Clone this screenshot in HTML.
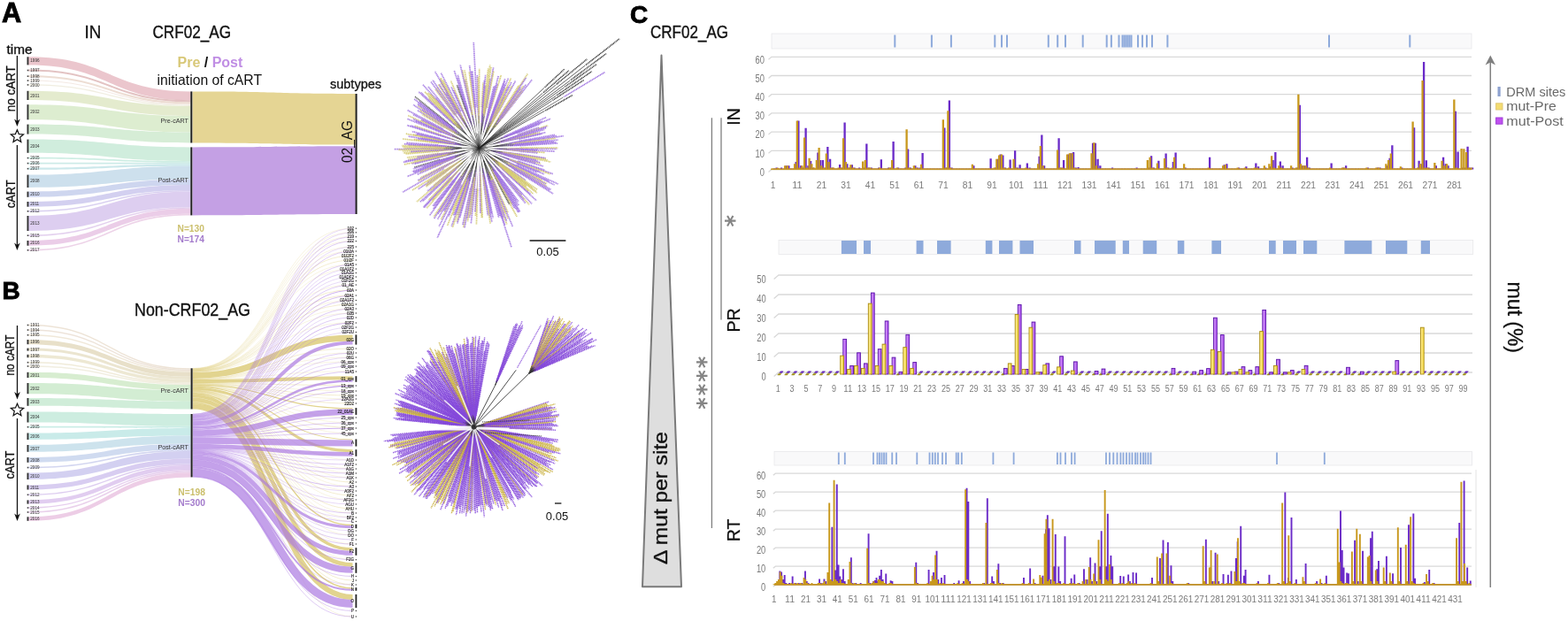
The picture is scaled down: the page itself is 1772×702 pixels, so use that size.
<!DOCTYPE html><html><head><meta charset="utf-8"><title>Figure</title><style>html,body{margin:0;padding:0;background:#fff;overflow:hidden}svg{display:block}</style></head><body><svg width="1772" height="702" viewBox="0 0 1772 702"><rect width="1772" height="702" fill="#fff"/><g font-family="'Liberation Sans', sans-serif"><text x="2" y="24.8" font-size="30.5" font-weight="bold" fill="#000" stroke="#000" stroke-width="0.9" textLength="22.2" lengthAdjust="spacingAndGlyphs">A</text><text x="95.6" y="43.3" font-size="20" fill="#111" stroke="#111" stroke-width="0.35" textLength="18.8" lengthAdjust="spacingAndGlyphs">IN</text><text x="172.5" y="43.3" font-size="20" fill="#111" stroke="#111" stroke-width="0.35" textLength="88.5" lengthAdjust="spacingAndGlyphs">CRF02_AG</text><text x="7.5" y="60.5" font-size="15" fill="#111" stroke="#111" stroke-width="0.3" textLength="29" lengthAdjust="spacingAndGlyphs">time</text><line x1="19.4" y1="63" x2="19.4" y2="139" stroke="#111" stroke-width="1.3"/><path d="M19.4 143L16.1 134.5L19.4 137L22.7 134.5Z" fill="#111"/><polygon points="19.4,146.8 21.38,151.57 26.53,151.98 22.61,155.34 23.81,160.37 19.4,157.68 14.99,160.37 16.19,155.34 12.27,151.98 17.42,151.57" fill="#fff" stroke="#111" stroke-width="1.2" stroke-linejoin="miter"/><line x1="19.4" y1="164" x2="19.4" y2="279" stroke="#111" stroke-width="1.3"/><path d="M19.4 283L16.1 274.5L19.4 277L22.7 274.5Z" fill="#111"/><text transform="translate(16.5 100.2) rotate(-90)" font-size="15.5" fill="#111" stroke="#111" stroke-width="0.3" text-anchor="middle" textLength="52" lengthAdjust="spacingAndGlyphs">no cART</text><text transform="translate(16.5 219.3) rotate(-90)" font-size="15.5" fill="#111" stroke="#111" stroke-width="0.3" text-anchor="middle" textLength="32" lengthAdjust="spacingAndGlyphs">cART</text><path d="M32 64.3C123.75 64.3 123.75 103.4 215.5 103.4L215.5 113.26C123.75 113.26 123.75 73.4 32 73.4Z" fill="#e6b8c0" fill-opacity="0.8"/><path d="M32 78.6C123.75 78.6 123.75 113.26 215.5 113.26L215.5 115.22C123.75 115.22 123.75 80.4 32 80.4Z" fill="#dcb4b4" fill-opacity="0.8"/><path d="M32 85.2C123.75 85.2 123.75 115.22 215.5 115.22L215.5 117.38C123.75 117.38 123.75 87.2 32 87.2Z" fill="#e8d4c8" fill-opacity="0.8"/><path d="M32 90.6C123.75 90.6 123.75 117.38 215.5 117.38L215.5 118.47C123.75 118.47 123.75 91.6 32 91.6Z" fill="#f0e4dc" fill-opacity="0.8"/><path d="M32 95.2C123.75 95.2 123.75 118.47 215.5 118.47L215.5 119.98C123.75 119.98 123.75 96.6 32 96.6Z" fill="#ece8d8" fill-opacity="0.8"/><path d="M32 102.8C123.75 102.8 123.75 119.98 215.5 119.98L215.5 131.04C123.75 131.04 123.75 113 32 113Z" fill="#dde6c2" fill-opacity="0.8"/><path d="M32 118.2C123.75 118.2 123.75 131.04 215.5 131.04L215.5 149.58C123.75 149.58 123.75 135.3 32 135.3Z" fill="#d4e8c4" fill-opacity="0.8"/><path d="M32 140.6C123.75 140.6 123.75 149.58 215.5 149.58L215.5 161.5C123.75 161.5 123.75 151.6 32 151.6Z" fill="#cce8cc" fill-opacity="0.8"/><path d="M32 157.6C123.75 157.6 123.75 166.4 215.5 166.4L215.5 182.13C123.75 182.13 123.75 172.8 32 172.8Z" fill="#c4e8d4" fill-opacity="0.8"/><path d="M32 177.8C123.75 177.8 123.75 182.13 215.5 182.13L215.5 183.79C123.75 183.79 123.75 179.4 32 179.4Z" fill="#c0e8dc" fill-opacity="0.8"/><path d="M32 183.8C123.75 183.8 123.75 183.79 215.5 183.79L215.5 185.44C123.75 185.44 123.75 185.4 32 185.4Z" fill="#c0e6e2" fill-opacity="0.8"/><path d="M32 189.6C123.75 189.6 123.75 185.44 215.5 185.44L215.5 187.72C123.75 187.72 123.75 191.8 32 191.8Z" fill="#bfe2e6" fill-opacity="0.8"/><path d="M32 197.6C123.75 197.6 123.75 187.72 215.5 187.72L215.5 202.62C123.75 202.62 123.75 212 32 212Z" fill="#c0d8e8" fill-opacity="0.8"/><path d="M32 216.6C123.75 216.6 123.75 202.62 215.5 202.62L215.5 209.04C123.75 209.04 123.75 222.8 32 222.8Z" fill="#c2cceb" fill-opacity="0.8"/><path d="M32 228C123.75 228 123.75 209.04 215.5 209.04L215.5 214.94C123.75 214.94 123.75 233.7 32 233.7Z" fill="#c8c4ec" fill-opacity="0.8"/><path d="M32 238C123.75 238 123.75 214.94 215.5 214.94L215.5 216.59C123.75 216.59 123.75 239.6 32 239.6Z" fill="#d0c4ec" fill-opacity="0.8"/><path d="M32 244C123.75 244 123.75 216.59 215.5 216.59L215.5 234.19C123.75 234.19 123.75 261 32 261Z" fill="#d4c2ec" fill-opacity="0.8"/><path d="M32 265.4C123.75 265.4 123.75 234.19 215.5 234.19L215.5 235.84C123.75 235.84 123.75 267 32 267Z" fill="#dcc4ea" fill-opacity="0.8"/><path d="M32 272C123.75 272 123.75 235.84 215.5 235.84L215.5 241.74C123.75 241.74 123.75 277.7 32 277.7Z" fill="#e6c0e2" fill-opacity="0.8"/><path d="M32 282C123.75 282 123.75 241.74 215.5 241.74L215.5 243.4C123.75 243.4 123.75 283.6 32 283.6Z" fill="#e8c8e2" fill-opacity="0.8"/><rect x="30.5" y="64.3" width="1.9" height="9.1" fill="#333"/><text x="34.3" y="70.45" font-size="4.6" fill="#333">1996</text><rect x="30.7" y="78.7" width="1.6" height="1.6" fill="#444"/><text x="34.3" y="81.1" font-size="4.6" fill="#333">1997</text><rect x="30.7" y="85.4" width="1.6" height="1.6" fill="#444"/><text x="34.3" y="87.8" font-size="4.6" fill="#333">1998</text><rect x="30.7" y="90.3" width="1.6" height="1.6" fill="#444"/><text x="34.3" y="92.7" font-size="4.6" fill="#333">1999</text><rect x="30.7" y="95.1" width="1.6" height="1.6" fill="#444"/><text x="34.3" y="97.5" font-size="4.6" fill="#333">2000</text><rect x="30.5" y="102.8" width="1.9" height="10.2" fill="#333"/><text x="34.3" y="109.5" font-size="4.6" fill="#333">2001</text><rect x="30.5" y="118.2" width="1.9" height="17.1" fill="#333"/><text x="34.3" y="128.35" font-size="4.6" fill="#333">2002</text><rect x="30.5" y="140.6" width="1.9" height="11" fill="#333"/><text x="34.3" y="147.7" font-size="4.6" fill="#333">2003</text><rect x="30.5" y="157.6" width="1.9" height="15.2" fill="#333"/><text x="34.3" y="166.8" font-size="4.6" fill="#333">2004</text><rect x="30.7" y="177.8" width="1.6" height="1.6" fill="#444"/><text x="34.3" y="180.2" font-size="4.6" fill="#333">2005</text><rect x="30.7" y="183.8" width="1.6" height="1.6" fill="#444"/><text x="34.3" y="186.2" font-size="4.6" fill="#333">2006</text><rect x="30.7" y="189.9" width="1.6" height="1.6" fill="#444"/><text x="34.3" y="192.3" font-size="4.6" fill="#333">2007</text><rect x="30.5" y="197.6" width="1.9" height="14.4" fill="#333"/><text x="34.3" y="206.4" font-size="4.6" fill="#333">2008</text><rect x="30.5" y="216.6" width="1.9" height="6.2" fill="#333"/><text x="34.3" y="221.3" font-size="4.6" fill="#333">2010</text><rect x="30.5" y="228" width="1.9" height="5.7" fill="#333"/><text x="34.3" y="232.45" font-size="4.6" fill="#333">2011</text><rect x="30.7" y="238" width="1.6" height="1.6" fill="#444"/><text x="34.3" y="240.4" font-size="4.6" fill="#333">2012</text><rect x="30.5" y="244" width="1.9" height="17" fill="#333"/><text x="34.3" y="254.1" font-size="4.6" fill="#333">2013</text><rect x="30.7" y="265.4" width="1.6" height="1.6" fill="#444"/><text x="34.3" y="267.8" font-size="4.6" fill="#333">2015</text><rect x="30.5" y="272" width="1.9" height="5.7" fill="#333"/><text x="34.3" y="276.45" font-size="4.6" fill="#333">2016</text><rect x="30.7" y="282" width="1.6" height="1.6" fill="#444"/><text x="34.3" y="284.4" font-size="4.6" fill="#333">2017</text><path d="M217.5 103.4C310 103.4 310 106 402 106V163.5C310 163.5 310 161.5 217.5 161.5Z" fill="#e5d594"/><path d="M217.5 166.4C310 166.4 310 165.2 402 165.2V242C310 242 310 243.4 217.5 243.4Z" fill="#c4a0e4"/><rect x="215.3" y="103.4" width="2" height="58.1" fill="#222"/><rect x="215.3" y="166.4" width="2" height="77" fill="#222"/><rect x="401.6" y="106" width="2" height="136" fill="#222"/><text x="213" y="138.5" font-size="7.2" fill="#333" text-anchor="end">Pre-cART</text><text x="213" y="205.5" font-size="7.2" fill="#333" text-anchor="end">Post-cART</text><text x="200.5" y="76.3" font-size="16" font-weight="bold"><tspan fill="#d8c878">Pre</tspan><tspan fill="#111"> / </tspan><tspan fill="#c08ee4">Post</tspan></text><text x="177.5" y="96" font-size="16.5" fill="#111" textLength="118.5" lengthAdjust="spacingAndGlyphs">initiation of cART</text><text x="373" y="99.8" font-size="14.5" fill="#111" stroke="#111" stroke-width="0.3" textLength="58" lengthAdjust="spacingAndGlyphs">subtypes</text><text transform="translate(397.8 160) rotate(-90)" font-size="16" fill="#111" text-anchor="middle" textLength="48" lengthAdjust="spacingAndGlyphs">02_AG</text><text x="200.5" y="261.5" font-size="10" font-weight="bold" fill="#cbbf6c" textLength="30.4" lengthAdjust="spacingAndGlyphs">N=130</text><text x="200.5" y="273.5" font-size="10" font-weight="bold" fill="#a47ccc" textLength="30.4" lengthAdjust="spacingAndGlyphs">N=174</text></g><g font-family="'Liberation Sans', sans-serif"><text x="2.5" y="337.6" font-size="28" font-weight="bold" fill="#000" stroke="#000" stroke-width="0.9">B</text><text x="152" y="356.7" font-size="20" fill="#111" stroke="#111" stroke-width="0.35" textLength="131" lengthAdjust="spacingAndGlyphs">Non-CRF02_AG</text><line x1="19.5" y1="368" x2="19.5" y2="447.5" stroke="#111" stroke-width="1.3"/><path d="M19.5 451.5L16.2 443L19.5 445.5L22.8 443Z" fill="#111"/><polygon points="19.5,456.2 21.48,460.97 26.63,461.38 22.71,464.74 23.91,469.77 19.5,467.07 15.09,469.77 16.29,464.74 12.37,461.38 17.52,460.97" fill="#fff" stroke="#111" stroke-width="1.2" stroke-linejoin="miter"/><line x1="19.5" y1="473" x2="19.5" y2="585" stroke="#111" stroke-width="1.3"/><path d="M19.5 589L16.2 580.5L19.5 583L22.8 580.5Z" fill="#111"/><text transform="translate(15.5 401.5) rotate(-90)" font-size="15.5" fill="#111" stroke="#111" stroke-width="0.3" text-anchor="middle" textLength="46" lengthAdjust="spacingAndGlyphs">no cART</text><text transform="translate(15.5 525.5) rotate(-90)" font-size="15.5" fill="#111" stroke="#111" stroke-width="0.3" text-anchor="middle" textLength="32" lengthAdjust="spacingAndGlyphs">cART</text><path d="M32 366.8C123.9 366.8 123.9 416.3 215.8 416.3L215.8 417.71C123.9 417.71 123.9 368.2 32 368.2Z" fill="#e8dccc" fill-opacity="0.8"/><path d="M32 372.3C123.9 372.3 123.9 417.71 215.8 417.71L215.8 419.12C123.9 419.12 123.9 373.7 32 373.7Z" fill="#e8dcd0" fill-opacity="0.8"/><path d="M32 378C123.9 378 123.9 419.12 215.8 419.12L215.8 420.63C123.9 420.63 123.9 379.5 32 379.5Z" fill="#ece2d0" fill-opacity="0.8"/><path d="M32 384C123.9 384 123.9 420.63 215.8 420.63L215.8 425.86C123.9 425.86 123.9 389.2 32 389.2Z" fill="#e2d8bc" fill-opacity="0.8"/><path d="M32 393.6C123.9 393.6 123.9 425.86 215.8 425.86L215.8 428.88C123.9 428.88 123.9 396.6 32 396.6Z" fill="#e6dec4" fill-opacity="0.8"/><path d="M32 400.8C123.9 400.8 123.9 428.88 215.8 428.88L215.8 432.3C123.9 432.3 123.9 404.2 32 404.2Z" fill="#e8e2c8" fill-opacity="0.8"/><path d="M32 409C123.9 409 123.9 432.3 215.8 432.3L215.8 433.71C123.9 433.71 123.9 410.4 32 410.4Z" fill="#ece6d0" fill-opacity="0.8"/><path d="M32 413.3C123.9 413.3 123.9 433.71 215.8 433.71L215.8 435.12C123.9 435.12 123.9 414.7 32 414.7Z" fill="#eeead8" fill-opacity="0.8"/><path d="M32 420.8C123.9 420.8 123.9 435.12 215.8 435.12L215.8 441.36C123.9 441.36 123.9 427 32 427Z" fill="#cde8c4" fill-opacity="0.8"/><path d="M32 433C123.9 433 123.9 441.36 215.8 441.36L215.8 453.64C123.9 453.64 123.9 445.2 32 445.2Z" fill="#c8e8c8" fill-opacity="0.8"/><path d="M32 450C123.9 450 123.9 453.64 215.8 453.64L215.8 462.5C123.9 462.5 123.9 458.8 32 458.8Z" fill="#c4e8d0" fill-opacity="0.8"/><path d="M32 465.5C123.9 465.5 123.9 468 215.8 468L215.8 481.86C123.9 481.86 123.9 477.5 32 477.5Z" fill="#c0e8d8" fill-opacity="0.8"/><path d="M32 481.8C123.9 481.8 123.9 481.86 215.8 481.86L215.8 483.94C123.9 483.94 123.9 483.6 32 483.6Z" fill="#bde8e0" fill-opacity="0.8"/><path d="M32 489.5C123.9 489.5 123.9 483.94 215.8 483.94L215.8 492.61C123.9 492.61 123.9 497 32 497Z" fill="#bce6e4" fill-opacity="0.8"/><path d="M32 503C123.9 503 123.9 492.61 215.8 492.61L215.8 501.62C123.9 501.62 123.9 510.8 32 510.8Z" fill="#c0dce8" fill-opacity="0.8"/><path d="M32 517C123.9 517 123.9 501.62 215.8 501.62L215.8 508.32C123.9 508.32 123.9 522.8 32 522.8Z" fill="#c4d2ec" fill-opacity="0.8"/><path d="M32 527.8C123.9 527.8 123.9 508.32 215.8 508.32L215.8 510.05C123.9 510.05 123.9 529.3 32 529.3Z" fill="#c8ccec" fill-opacity="0.8"/><path d="M32 534.6C123.9 534.6 123.9 510.05 215.8 510.05L215.8 518.6C123.9 518.6 123.9 542 32 542Z" fill="#c8c4ee" fill-opacity="0.8"/><path d="M32 548.4C123.9 548.4 123.9 518.6 215.8 518.6L215.8 524.5C123.9 524.5 123.9 553.5 32 553.5Z" fill="#cec0ee" fill-opacity="0.8"/><path d="M32 558.6C123.9 558.6 123.9 524.5 215.8 524.5L215.8 526.11C123.9 526.11 123.9 560 32 560Z" fill="#d4c0ec" fill-opacity="0.8"/><path d="M32 565.4C123.9 565.4 123.9 526.11 215.8 526.11L215.8 530.97C123.9 530.97 123.9 569.6 32 569.6Z" fill="#dac0ec" fill-opacity="0.8"/><path d="M32 573.3C123.9 573.3 123.9 530.97 215.8 530.97L215.8 532.58C123.9 532.58 123.9 574.7 32 574.7Z" fill="#e0c2ea" fill-opacity="0.8"/><path d="M32 578.3C123.9 578.3 123.9 532.58 215.8 532.58L215.8 534.2C123.9 534.2 123.9 579.7 32 579.7Z" fill="#e4c4e6" fill-opacity="0.8"/><path d="M32 584.3C123.9 584.3 123.9 534.2 215.8 534.2L215.8 539.4C123.9 539.4 123.9 588.8 32 588.8Z" fill="#e8c0e0" fill-opacity="0.8"/><rect x="30.7" y="366.7" width="1.6" height="1.6" fill="#444"/><text x="34.3" y="369.1" font-size="4.6" fill="#333">1991</text><rect x="30.7" y="372.2" width="1.6" height="1.6" fill="#444"/><text x="34.3" y="374.6" font-size="4.6" fill="#333">1994</text><rect x="30.7" y="377.95" width="1.6" height="1.6" fill="#444"/><text x="34.3" y="380.35" font-size="4.6" fill="#333">1995</text><rect x="30.5" y="384" width="1.9" height="5.2" fill="#333"/><text x="34.3" y="388.2" font-size="4.6" fill="#333">1996</text><rect x="30.5" y="393.6" width="1.9" height="3" fill="#333"/><text x="34.3" y="396.7" font-size="4.6" fill="#333">1997</text><rect x="30.5" y="400.8" width="1.9" height="3.4" fill="#333"/><text x="34.3" y="404.1" font-size="4.6" fill="#333">1998</text><rect x="30.7" y="408.9" width="1.6" height="1.6" fill="#444"/><text x="34.3" y="411.3" font-size="4.6" fill="#333">1999</text><rect x="30.7" y="413.2" width="1.6" height="1.6" fill="#444"/><text x="34.3" y="415.6" font-size="4.6" fill="#333">2000</text><rect x="30.5" y="420.8" width="1.9" height="6.2" fill="#333"/><text x="34.3" y="425.5" font-size="4.6" fill="#333">2001</text><rect x="30.5" y="433" width="1.9" height="12.2" fill="#333"/><text x="34.3" y="440.7" font-size="4.6" fill="#333">2002</text><rect x="30.5" y="450" width="1.9" height="8.8" fill="#333"/><text x="34.3" y="456" font-size="4.6" fill="#333">2003</text><rect x="30.5" y="465.5" width="1.9" height="12" fill="#333"/><text x="34.3" y="473.1" font-size="4.6" fill="#333">2004</text><rect x="30.7" y="481.9" width="1.6" height="1.6" fill="#444"/><text x="34.3" y="484.3" font-size="4.6" fill="#333">2005</text><rect x="30.5" y="489.5" width="1.9" height="7.5" fill="#333"/><text x="34.3" y="494.85" font-size="4.6" fill="#333">2006</text><rect x="30.5" y="503" width="1.9" height="7.8" fill="#333"/><text x="34.3" y="508.5" font-size="4.6" fill="#333">2007</text><rect x="30.5" y="517" width="1.9" height="5.8" fill="#333"/><text x="34.3" y="521.5" font-size="4.6" fill="#333">2008</text><rect x="30.7" y="527.75" width="1.6" height="1.6" fill="#444"/><text x="34.3" y="530.15" font-size="4.6" fill="#333">2009</text><rect x="30.5" y="534.6" width="1.9" height="7.4" fill="#333"/><text x="34.3" y="539.9" font-size="4.6" fill="#333">2010</text><rect x="30.5" y="548.4" width="1.9" height="5.1" fill="#333"/><text x="34.3" y="552.55" font-size="4.6" fill="#333">2011</text><rect x="30.7" y="558.5" width="1.6" height="1.6" fill="#444"/><text x="34.3" y="560.9" font-size="4.6" fill="#333">2012</text><rect x="30.5" y="565.4" width="1.9" height="4.2" fill="#333"/><text x="34.3" y="569.1" font-size="4.6" fill="#333">2013</text><rect x="30.7" y="573.2" width="1.6" height="1.6" fill="#444"/><text x="34.3" y="575.6" font-size="4.6" fill="#333">2014</text><rect x="30.7" y="578.2" width="1.6" height="1.6" fill="#444"/><text x="34.3" y="580.6" font-size="4.6" fill="#333">2015</text><rect x="30.5" y="584.3" width="1.9" height="4.5" fill="#333"/><text x="34.3" y="588.15" font-size="4.6" fill="#333">2016</text><path d="M217.8 416.42C308.15 416.42 308.15 258.11 398.5 258.11" fill="none" stroke="#d6c260" stroke-opacity="0.3" stroke-width="0.6"/><path d="M217.8 416.67C308.15 416.67 308.15 262.71 398.5 262.71" fill="none" stroke="#d6c260" stroke-opacity="0.3" stroke-width="0.6"/><path d="M217.8 416.88C308.15 416.88 308.15 267.4 398.5 267.4" fill="none" stroke="#d6c260" stroke-opacity="0.3" stroke-width="0.6"/><path d="M217.8 417.06C308.15 417.06 308.15 272.3 398.5 272.3" fill="none" stroke="#d6c260" stroke-opacity="0.3" stroke-width="0.6"/><path d="M217.8 417.27C308.15 417.27 308.15 278.91 398.5 278.91" fill="none" stroke="#d6c260" stroke-opacity="0.3" stroke-width="0.6"/><path d="M217.8 417.49C308.15 417.49 308.15 283.85 398.5 283.85" fill="none" stroke="#d6c260" stroke-opacity="0.3" stroke-width="0.6"/><path d="M217.8 417.76C308.15 417.76 308.15 289 398.5 289" fill="none" stroke="#d6c260" stroke-opacity="0.5" stroke-width="0.6"/><path d="M217.8 418.13C308.15 418.13 308.15 294 398.5 294" fill="none" stroke="#d6c260" stroke-opacity="0.5" stroke-width="0.6"/><path d="M217.8 418.4C308.15 418.4 308.15 298.7 398.5 298.7" fill="none" stroke="#d6c260" stroke-opacity="0.3" stroke-width="0.6"/><path d="M217.8 418.58C308.15 418.58 308.15 303.91 398.5 303.91" fill="none" stroke="#d6c260" stroke-opacity="0.3" stroke-width="0.6"/><path d="M217.8 418.77C308.15 418.77 308.15 321.85 398.5 321.85" fill="none" stroke="#d6c260" stroke-opacity="0.3" stroke-width="0.6"/><path d="M217.8 419.01C308.15 419.01 308.15 327.54 398.5 327.54" fill="none" stroke="#d6c260" stroke-opacity="0.5" stroke-width="0.6"/><path d="M217.8 419.41C308.15 419.41 308.15 333.63 398.5 333.63" fill="none" stroke="#d6c260" stroke-opacity="0.5" stroke-width="0.6"/><path d="M217.8 419.74C308.15 419.74 308.15 339.32 398.5 339.32" fill="none" stroke="#d6c260" stroke-opacity="0.3" stroke-width="0.6"/><path d="M217.8 420.02C308.15 420.02 308.15 344 398.5 344" fill="none" stroke="#d6c260" stroke-opacity="0.5" stroke-width="0.6"/><path d="M217.8 420.29C308.15 420.29 308.15 348.85 398.5 348.85" fill="none" stroke="#d6c260" stroke-opacity="0.3" stroke-width="0.6"/><path d="M217.8 420.47C308.15 420.47 308.15 353.91 398.5 353.91" fill="none" stroke="#d6c260" stroke-opacity="0.3" stroke-width="0.6"/><path d="M217.8 420.69C308.15 420.69 308.15 364.6 398.5 364.6" fill="none" stroke="#d6c260" stroke-opacity="0.3" stroke-width="0.6"/><path d="M217.8 424.36C308.15 424.36 308.15 381.97 398.5 381.97" fill="none" stroke="#d6c260" stroke-opacity="0.7" stroke-width="7.11"/><path d="M217.8 428.1C308.15 428.1 308.15 394 398.5 394" fill="none" stroke="#d6c260" stroke-opacity="0.5" stroke-width="0.6"/><path d="M217.8 428.37C308.15 428.37 308.15 398.85 398.5 398.85" fill="none" stroke="#d6c260" stroke-opacity="0.3" stroke-width="0.6"/><path d="M217.8 428.56C308.15 428.56 308.15 403.91 398.5 403.91" fill="none" stroke="#d6c260" stroke-opacity="0.3" stroke-width="0.6"/><path d="M217.8 428.77C308.15 428.77 308.15 408.88 398.5 408.88" fill="none" stroke="#d6c260" stroke-opacity="0.3" stroke-width="0.6"/><path d="M217.8 428.98C308.15 428.98 308.15 419.7 398.5 419.7" fill="none" stroke="#d6c260" stroke-opacity="0.3" stroke-width="0.6"/><path d="M217.8 431.1C308.15 431.1 308.15 427.23 398.5 427.23" fill="none" stroke="#d6c260" stroke-opacity="0.7" stroke-width="4.06"/><path d="M217.8 433.29C308.15 433.29 308.15 435.45 398.5 435.45" fill="none" stroke="#d6c260" stroke-opacity="0.5" stroke-width="0.6"/><path d="M217.8 433.53C308.15 433.53 308.15 441.85 398.5 441.85" fill="none" stroke="#d6c260" stroke-opacity="0.3" stroke-width="0.6"/><path d="M217.8 433.81C308.15 433.81 308.15 447 398.5 447" fill="none" stroke="#d6c260" stroke-opacity="0.5" stroke-width="0.6"/><path d="M217.8 434.08C308.15 434.08 308.15 450.91 398.5 450.91" fill="none" stroke="#d6c260" stroke-opacity="0.3" stroke-width="0.6"/><path d="M217.8 434.35C308.15 434.35 308.15 456 398.5 456" fill="none" stroke="#d6c260" stroke-opacity="0.5" stroke-width="0.6"/><path d="M217.8 435.15C308.15 435.15 308.15 461.7 398.5 461.7" fill="none" stroke="#d6c260" stroke-opacity="0.7" stroke-width="1.22"/><path d="M217.8 435.85C308.15 435.85 308.15 471.82 398.5 471.82" fill="none" stroke="#d6c260" stroke-opacity="0.3" stroke-width="0.6"/><path d="M217.8 436.03C308.15 436.03 308.15 477.82 398.5 477.82" fill="none" stroke="#d6c260" stroke-opacity="0.3" stroke-width="0.6"/><path d="M217.8 436.27C308.15 436.27 308.15 483.54 398.5 483.54" fill="none" stroke="#d6c260" stroke-opacity="0.5" stroke-width="0.6"/><path d="M217.8 436.52C308.15 436.52 308.15 489.85 398.5 489.85" fill="none" stroke="#d6c260" stroke-opacity="0.3" stroke-width="0.6"/><path d="M217.8 437.12C308.15 437.12 308.15 496.95 398.5 496.95" fill="none" stroke="#d6c260" stroke-opacity="0.7" stroke-width="1.02"/><path d="M217.8 439.15C308.15 439.15 308.15 509.72 398.5 509.72" fill="none" stroke="#d6c260" stroke-opacity="0.7" stroke-width="3.05"/><path d="M217.8 440.76C308.15 440.76 308.15 519.88 398.5 519.88" fill="none" stroke="#d6c260" stroke-opacity="0.3" stroke-width="0.6"/><path d="M217.8 440.94C308.15 440.94 308.15 529.85 398.5 529.85" fill="none" stroke="#d6c260" stroke-opacity="0.3" stroke-width="0.6"/><path d="M217.8 441.13C308.15 441.13 308.15 534.82 398.5 534.82" fill="none" stroke="#d6c260" stroke-opacity="0.3" stroke-width="0.6"/><path d="M217.8 441.31C308.15 441.31 308.15 539.88 398.5 539.88" fill="none" stroke="#d6c260" stroke-opacity="0.3" stroke-width="0.6"/><path d="M217.8 441.58C308.15 441.58 308.15 545 398.5 545" fill="none" stroke="#d6c260" stroke-opacity="0.5" stroke-width="0.6"/><path d="M217.8 441.86C308.15 441.86 308.15 549.63 398.5 549.63" fill="none" stroke="#d6c260" stroke-opacity="0.3" stroke-width="0.6"/><path d="M217.8 442.04C308.15 442.04 308.15 554.88 398.5 554.88" fill="none" stroke="#d6c260" stroke-opacity="0.3" stroke-width="0.6"/><path d="M217.8 442.31C308.15 442.31 308.15 560 398.5 560" fill="none" stroke="#d6c260" stroke-opacity="0.5" stroke-width="0.6"/><path d="M217.8 442.59C308.15 442.59 308.15 564.91 398.5 564.91" fill="none" stroke="#d6c260" stroke-opacity="0.3" stroke-width="0.6"/><path d="M217.8 442.86C308.15 442.86 308.15 575 398.5 575" fill="none" stroke="#d6c260" stroke-opacity="0.5" stroke-width="0.6"/><path d="M217.8 443.17C308.15 443.17 308.15 579.82 398.5 579.82" fill="none" stroke="#d6c260" stroke-opacity="0.3" stroke-width="0.6"/><path d="M217.8 443.38C308.15 443.38 308.15 584.88 398.5 584.88" fill="none" stroke="#d6c260" stroke-opacity="0.3" stroke-width="0.6"/><path d="M217.8 443.56C308.15 443.56 308.15 589.35 398.5 589.35" fill="none" stroke="#d6c260" stroke-opacity="0.3" stroke-width="0.6"/><path d="M217.8 444.42C308.15 444.42 308.15 593.48 398.5 593.48" fill="none" stroke="#d6c260" stroke-opacity="0.7" stroke-width="1.52"/><path d="M217.8 445.27C308.15 445.27 308.15 604.91 398.5 604.91" fill="none" stroke="#d6c260" stroke-opacity="0.3" stroke-width="0.6"/><path d="M217.8 445.48C308.15 445.48 308.15 614.85 398.5 614.85" fill="none" stroke="#d6c260" stroke-opacity="0.3" stroke-width="0.6"/><path d="M217.8 447.38C308.15 447.38 308.15 620.96 398.5 620.96" fill="none" stroke="#d6c260" stroke-opacity="0.7" stroke-width="3.55"/><path d="M217.8 449.28C308.15 449.28 308.15 632.55 398.5 632.55" fill="none" stroke="#d6c260" stroke-opacity="0.3" stroke-width="0.6"/><path d="M217.8 451.69C308.15 451.69 308.15 638.45 398.5 638.45" fill="none" stroke="#d6c260" stroke-opacity="0.7" stroke-width="4.57"/><path d="M217.8 454.15C308.15 454.15 308.15 656 398.5 656" fill="none" stroke="#d6c260" stroke-opacity="0.5" stroke-width="0.6"/><path d="M217.8 454.52C308.15 454.52 308.15 660.88 398.5 660.88" fill="none" stroke="#d6c260" stroke-opacity="0.5" stroke-width="0.6"/><path d="M217.8 455.46C308.15 455.46 308.15 664.99 398.5 664.99" fill="none" stroke="#d6c260" stroke-opacity="0.7" stroke-width="1.52"/><path d="M217.8 459.27C308.15 459.27 308.15 674.93 398.5 674.93" fill="none" stroke="#d6c260" stroke-opacity="0.7" stroke-width="6.09"/><path d="M217.8 462.41C308.15 462.41 308.15 696.82 398.5 696.82" fill="none" stroke="#d6c260" stroke-opacity="0.3" stroke-width="0.6"/><path d="M217.8 468.09C308.15 468.09 308.15 258.32 398.5 258.32" fill="none" stroke="#a874e0" stroke-opacity="0.45" stroke-width="0.6"/><path d="M217.8 468.27C308.15 468.27 308.15 262.92 398.5 262.92" fill="none" stroke="#a874e0" stroke-opacity="0.45" stroke-width="0.6"/><path d="M217.8 468.67C308.15 468.67 308.15 267.79 398.5 267.79" fill="none" stroke="#a874e0" stroke-opacity="0.62" stroke-width="0.61"/><path d="M217.8 469.28C308.15 469.28 308.15 272.69 398.5 272.69" fill="none" stroke="#a874e0" stroke-opacity="0.62" stroke-width="0.61"/><path d="M217.8 469.67C308.15 469.67 308.15 279.12 398.5 279.12" fill="none" stroke="#a874e0" stroke-opacity="0.45" stroke-width="0.6"/><path d="M217.8 469.92C308.15 469.92 308.15 284.09 398.5 284.09" fill="none" stroke="#a874e0" stroke-opacity="0.62" stroke-width="0.6"/><path d="M217.8 470.37C308.15 470.37 308.15 299.09 398.5 299.09" fill="none" stroke="#a874e0" stroke-opacity="0.62" stroke-width="0.61"/><path d="M217.8 470.77C308.15 470.77 308.15 304.09 398.5 304.09" fill="none" stroke="#a874e0" stroke-opacity="0.45" stroke-width="0.6"/><path d="M217.8 471.04C308.15 471.04 308.15 308.5 398.5 308.5" fill="none" stroke="#a874e0" stroke-opacity="0.62" stroke-width="0.6"/><path d="M217.8 471.36C308.15 471.36 308.15 313 398.5 313" fill="none" stroke="#a874e0" stroke-opacity="0.45" stroke-width="0.6"/><path d="M217.8 471.64C308.15 471.64 308.15 317.5 398.5 317.5" fill="none" stroke="#a874e0" stroke-opacity="0.45" stroke-width="0.6"/><path d="M217.8 471.93C308.15 471.93 308.15 322.09 398.5 322.09" fill="none" stroke="#a874e0" stroke-opacity="0.62" stroke-width="0.6"/><path d="M217.8 472.54C308.15 472.54 308.15 328.15 398.5 328.15" fill="none" stroke="#a874e0" stroke-opacity="0.62" stroke-width="0.91"/><path d="M217.8 473.36C308.15 473.36 308.15 334.24 398.5 334.24" fill="none" stroke="#a874e0" stroke-opacity="0.62" stroke-width="0.73"/><path d="M217.8 473.91C308.15 473.91 308.15 339.59 398.5 339.59" fill="none" stroke="#a874e0" stroke-opacity="0.62" stroke-width="0.6"/><path d="M217.8 474.24C308.15 474.24 308.15 349.09 398.5 349.09" fill="none" stroke="#a874e0" stroke-opacity="0.62" stroke-width="0.6"/><path d="M217.8 474.48C308.15 474.48 308.15 354.09 398.5 354.09" fill="none" stroke="#a874e0" stroke-opacity="0.45" stroke-width="0.6"/><path d="M217.8 474.76C308.15 474.76 308.15 359 398.5 359" fill="none" stroke="#a874e0" stroke-opacity="0.62" stroke-width="0.6"/><path d="M217.8 475.34C308.15 475.34 308.15 365.12 398.5 365.12" fill="none" stroke="#a874e0" stroke-opacity="0.62" stroke-width="0.79"/><path d="M217.8 475.87C308.15 475.87 308.15 370 398.5 370" fill="none" stroke="#a874e0" stroke-opacity="0.45" stroke-width="0.6"/><path d="M217.8 476.14C308.15 476.14 308.15 375.5 398.5 375.5" fill="none" stroke="#a874e0" stroke-opacity="0.45" stroke-width="0.6"/><path d="M217.8 478.31C308.15 478.31 308.15 387.55 398.5 387.55" fill="none" stroke="#a874e0" stroke-opacity="0.68" stroke-width="4.06"/><path d="M217.8 480.49C308.15 480.49 308.15 399.09 398.5 399.09" fill="none" stroke="#a874e0" stroke-opacity="0.62" stroke-width="0.6"/><path d="M217.8 480.74C308.15 480.74 308.15 404.09 398.5 404.09" fill="none" stroke="#a874e0" stroke-opacity="0.45" stroke-width="0.6"/><path d="M217.8 480.95C308.15 480.95 308.15 409.12 398.5 409.12" fill="none" stroke="#a874e0" stroke-opacity="0.45" stroke-width="0.6"/><path d="M217.8 481.25C308.15 481.25 308.15 414 398.5 414" fill="none" stroke="#a874e0" stroke-opacity="0.62" stroke-width="0.6"/><path d="M217.8 481.74C308.15 481.74 308.15 420.09 398.5 420.09" fill="none" stroke="#a874e0" stroke-opacity="0.62" stroke-width="0.61"/><path d="M217.8 483.31C308.15 483.31 308.15 430.53 398.5 430.53" fill="none" stroke="#a874e0" stroke-opacity="0.68" stroke-width="2.54"/><path d="M217.8 485.13C308.15 485.13 308.15 436.15 398.5 436.15" fill="none" stroke="#a874e0" stroke-opacity="0.68" stroke-width="1.1"/><path d="M217.8 485.83C308.15 485.83 308.15 442.09 398.5 442.09" fill="none" stroke="#a874e0" stroke-opacity="0.62" stroke-width="0.6"/><path d="M217.8 486.07C308.15 486.07 308.15 451.09 398.5 451.09" fill="none" stroke="#a874e0" stroke-opacity="0.45" stroke-width="0.6"/><path d="M217.8 489.46C308.15 489.46 308.15 465.61 398.5 465.61" fill="none" stroke="#a874e0" stroke-opacity="0.68" stroke-width="6.6"/><path d="M217.8 492.94C308.15 492.94 308.15 472.09 398.5 472.09" fill="none" stroke="#a874e0" stroke-opacity="0.62" stroke-width="0.6"/><path d="M217.8 493.31C308.15 493.31 308.15 478.09 398.5 478.09" fill="none" stroke="#a874e0" stroke-opacity="0.62" stroke-width="0.6"/><path d="M217.8 493.95C308.15 493.95 308.15 484.15 398.5 484.15" fill="none" stroke="#a874e0" stroke-opacity="0.62" stroke-width="0.91"/><path d="M217.8 494.56C308.15 494.56 308.15 490.09 398.5 490.09" fill="none" stroke="#a874e0" stroke-opacity="0.62" stroke-width="0.6"/><path d="M217.8 498.26C308.15 498.26 308.15 501.01 398.5 501.01" fill="none" stroke="#a874e0" stroke-opacity="0.68" stroke-width="7.1"/><path d="M217.8 504.1C308.15 504.1 308.15 513.52 398.5 513.52" fill="none" stroke="#a874e0" stroke-opacity="0.68" stroke-width="4.57"/><path d="M217.8 506.5C308.15 506.5 308.15 520.09 398.5 520.09" fill="none" stroke="#a874e0" stroke-opacity="0.45" stroke-width="0.6"/><path d="M217.8 506.81C308.15 506.81 308.15 525 398.5 525" fill="none" stroke="#a874e0" stroke-opacity="0.62" stroke-width="0.6"/><path d="M217.8 507.14C308.15 507.14 308.15 530.09 398.5 530.09" fill="none" stroke="#a874e0" stroke-opacity="0.62" stroke-width="0.6"/><path d="M217.8 507.47C308.15 507.47 308.15 535.09 398.5 535.09" fill="none" stroke="#a874e0" stroke-opacity="0.62" stroke-width="0.6"/><path d="M217.8 507.78C308.15 507.78 308.15 540.09 398.5 540.09" fill="none" stroke="#a874e0" stroke-opacity="0.45" stroke-width="0.6"/><path d="M217.8 508.27C308.15 508.27 308.15 550.09 398.5 550.09" fill="none" stroke="#a874e0" stroke-opacity="0.62" stroke-width="0.73"/><path d="M217.8 508.75C308.15 508.75 308.15 555.09 398.5 555.09" fill="none" stroke="#a874e0" stroke-opacity="0.45" stroke-width="0.6"/><path d="M217.8 508.97C308.15 508.97 308.15 565.09 398.5 565.09" fill="none" stroke="#a874e0" stroke-opacity="0.45" stroke-width="0.6"/><path d="M217.8 509.2C308.15 509.2 308.15 570 398.5 570" fill="none" stroke="#a874e0" stroke-opacity="0.45" stroke-width="0.6"/><path d="M217.8 509.51C308.15 509.51 308.15 580.12 398.5 580.12" fill="none" stroke="#a874e0" stroke-opacity="0.62" stroke-width="0.6"/><path d="M217.8 509.82C308.15 509.82 308.15 585.09 398.5 585.09" fill="none" stroke="#a874e0" stroke-opacity="0.45" stroke-width="0.6"/><path d="M217.8 510.09C308.15 510.09 308.15 589.59 398.5 589.59" fill="none" stroke="#a874e0" stroke-opacity="0.62" stroke-width="0.6"/><path d="M217.8 511.77C308.15 511.77 308.15 595.76 398.5 595.76" fill="none" stroke="#a874e0" stroke-opacity="0.68" stroke-width="3.04"/><path d="M217.8 513.43C308.15 513.43 308.15 600 398.5 600" fill="none" stroke="#a874e0" stroke-opacity="0.45" stroke-width="0.6"/><path d="M217.8 513.66C308.15 513.66 308.15 605.09 398.5 605.09" fill="none" stroke="#a874e0" stroke-opacity="0.45" stroke-width="0.6"/><path d="M217.8 513.93C308.15 513.93 308.15 610 398.5 610" fill="none" stroke="#a874e0" stroke-opacity="0.62" stroke-width="0.6"/><path d="M217.8 514.26C308.15 514.26 308.15 615.12 398.5 615.12" fill="none" stroke="#a874e0" stroke-opacity="0.62" stroke-width="0.6"/><path d="M217.8 516.95C308.15 516.95 308.15 625.28 398.5 625.28" fill="none" stroke="#a874e0" stroke-opacity="0.68" stroke-width="5.07"/><path d="M217.8 519.64C308.15 519.64 308.15 632.82 398.5 632.82" fill="none" stroke="#a874e0" stroke-opacity="0.62" stroke-width="0.6"/><path d="M217.8 523.35C308.15 523.35 308.15 644.28 398.5 644.28" fill="none" stroke="#a874e0" stroke-opacity="0.68" stroke-width="7.1"/><path d="M217.8 527.08C308.15 527.08 308.15 651.5 398.5 651.5" fill="none" stroke="#a874e0" stroke-opacity="0.62" stroke-width="0.6"/><path d="M217.8 527.38C308.15 527.38 308.15 661.18 398.5 661.18" fill="none" stroke="#a874e0" stroke-opacity="0.45" stroke-width="0.6"/><path d="M217.8 528.52C308.15 528.52 308.15 666.76 398.5 666.76" fill="none" stroke="#a874e0" stroke-opacity="0.68" stroke-width="2.03"/><path d="M217.8 534.1C308.15 534.1 308.15 682.55 398.5 682.55" fill="none" stroke="#a874e0" stroke-opacity="0.68" stroke-width="9.13"/><path d="M217.8 538.85C308.15 538.85 308.15 690.5 398.5 690.5" fill="none" stroke="#a874e0" stroke-opacity="0.62" stroke-width="0.6"/><path d="M217.8 539.22C308.15 539.22 308.15 697.09 398.5 697.09" fill="none" stroke="#a874e0" stroke-opacity="0.62" stroke-width="0.6"/><rect x="401.7" y="257.6" width="1.4" height="1.2" fill="#444"/><text x="400" y="259.8" font-size="4.5" fill="#1a1a1a" stroke="#1a1a1a" stroke-width="0.12" text-anchor="end">102</text><rect x="401.7" y="262.2" width="1.4" height="1.2" fill="#444"/><text x="400" y="264.4" font-size="4.5" fill="#1a1a1a" stroke="#1a1a1a" stroke-width="0.12" text-anchor="end">206</text><rect x="401.7" y="267.1" width="1.4" height="1.2" fill="#444"/><text x="400" y="269.3" font-size="4.5" fill="#1a1a1a" stroke="#1a1a1a" stroke-width="0.12" text-anchor="end">219</text><rect x="401.7" y="272" width="1.4" height="1.2" fill="#444"/><text x="400" y="274.2" font-size="4.5" fill="#1a1a1a" stroke="#1a1a1a" stroke-width="0.12" text-anchor="end">222</text><rect x="401.7" y="278.4" width="1.4" height="1.2" fill="#444"/><text x="400" y="280.6" font-size="4.5" fill="#1a1a1a" stroke="#1a1a1a" stroke-width="0.12" text-anchor="end">225</text><rect x="401.7" y="283.4" width="1.4" height="1.2" fill="#444"/><text x="400" y="285.6" font-size="4.5" fill="#1a1a1a" stroke="#1a1a1a" stroke-width="0.12" text-anchor="end">01I2A</text><rect x="401.7" y="288.4" width="1.4" height="1.2" fill="#444"/><text x="400" y="290.6" font-size="4.5" fill="#1a1a1a" stroke="#1a1a1a" stroke-width="0.12" text-anchor="end">01I2F2</text><rect x="401.7" y="293.4" width="1.4" height="1.2" fill="#444"/><text x="400" y="295.6" font-size="4.5" fill="#1a1a1a" stroke="#1a1a1a" stroke-width="0.12" text-anchor="end">01I2F</text><rect x="401.7" y="298.4" width="1.4" height="1.2" fill="#444"/><text x="400" y="300.6" font-size="4.5" fill="#1a1a1a" stroke="#1a1a1a" stroke-width="0.12" text-anchor="end">01A5</text><rect x="401.7" y="303.4" width="1.4" height="1.2" fill="#444"/><text x="400" y="305.6" font-size="4.5" fill="#1a1a1a" stroke="#1a1a1a" stroke-width="0.12" text-anchor="end">01A1F2</text><rect x="401.7" y="307.9" width="1.4" height="1.2" fill="#444"/><text x="400" y="310.1" font-size="4.5" fill="#1a1a1a" stroke="#1a1a1a" stroke-width="0.12" text-anchor="end">01A1G</text><rect x="401.7" y="312.4" width="1.4" height="1.2" fill="#444"/><text x="400" y="314.6" font-size="4.5" fill="#1a1a1a" stroke="#1a1a1a" stroke-width="0.12" text-anchor="end">01ADF2</text><rect x="401.7" y="316.9" width="1.4" height="1.2" fill="#444"/><text x="400" y="319.1" font-size="4.5" fill="#1a1a1a" stroke="#1a1a1a" stroke-width="0.12" text-anchor="end">01F2G</text><rect x="401.7" y="321.4" width="1.4" height="1.2" fill="#444"/><text x="400" y="323.6" font-size="4.5" fill="#1a1a1a" stroke="#1a1a1a" stroke-width="0.12" text-anchor="end">01_AE</text><rect x="401.7" y="327.4" width="1.4" height="1.2" fill="#444"/><text x="400" y="329.6" font-size="4.5" fill="#1a1a1a" stroke="#1a1a1a" stroke-width="0.12" text-anchor="end">02A</text><rect x="401.7" y="333.4" width="1.4" height="1.2" fill="#444"/><text x="400" y="335.6" font-size="4.5" fill="#1a1a1a" stroke="#1a1a1a" stroke-width="0.12" text-anchor="end">02A1</text><rect x="401.7" y="338.9" width="1.4" height="1.2" fill="#444"/><text x="400" y="341.1" font-size="4.5" fill="#1a1a1a" stroke="#1a1a1a" stroke-width="0.12" text-anchor="end">02A1F2</text><rect x="401.7" y="343.4" width="1.4" height="1.2" fill="#444"/><text x="400" y="345.6" font-size="4.5" fill="#1a1a1a" stroke="#1a1a1a" stroke-width="0.12" text-anchor="end">02A1G</text><rect x="401.7" y="348.4" width="1.4" height="1.2" fill="#444"/><text x="400" y="350.6" font-size="4.5" fill="#1a1a1a" stroke="#1a1a1a" stroke-width="0.12" text-anchor="end">02A3</text><rect x="401.7" y="353.4" width="1.4" height="1.2" fill="#444"/><text x="400" y="355.6" font-size="4.5" fill="#1a1a1a" stroke="#1a1a1a" stroke-width="0.12" text-anchor="end">02B</text><rect x="401.7" y="358.4" width="1.4" height="1.2" fill="#444"/><text x="400" y="360.6" font-size="4.5" fill="#1a1a1a" stroke="#1a1a1a" stroke-width="0.12" text-anchor="end">02D</text><rect x="401.7" y="364.4" width="1.4" height="1.2" fill="#444"/><text x="400" y="366.6" font-size="4.5" fill="#1a1a1a" stroke="#1a1a1a" stroke-width="0.12" text-anchor="end">02F2</text><rect x="401.7" y="369.4" width="1.4" height="1.2" fill="#444"/><text x="400" y="371.6" font-size="4.5" fill="#1a1a1a" stroke="#1a1a1a" stroke-width="0.12" text-anchor="end">02F2G</text><rect x="401.7" y="374.9" width="1.4" height="1.2" fill="#444"/><text x="400" y="377.1" font-size="4.5" fill="#1a1a1a" stroke="#1a1a1a" stroke-width="0.12" text-anchor="end">02F2U</text><rect x="401.5" y="378.42" width="1.8" height="11.17" fill="#222"/><text x="400" y="385.6" font-size="4.5" fill="#1a1a1a" stroke="#1a1a1a" stroke-width="0.12" text-anchor="end">02G</text><rect x="401.7" y="393.4" width="1.4" height="1.2" fill="#444"/><text x="400" y="395.6" font-size="4.5" fill="#1a1a1a" stroke="#1a1a1a" stroke-width="0.12" text-anchor="end">02O</text><rect x="401.7" y="398.4" width="1.4" height="1.2" fill="#444"/><text x="400" y="400.6" font-size="4.5" fill="#1a1a1a" stroke="#1a1a1a" stroke-width="0.12" text-anchor="end">02U</text><rect x="401.7" y="403.4" width="1.4" height="1.2" fill="#444"/><text x="400" y="405.6" font-size="4.5" fill="#1a1a1a" stroke="#1a1a1a" stroke-width="0.12" text-anchor="end">06G</text><rect x="401.7" y="408.4" width="1.4" height="1.2" fill="#444"/><text x="400" y="410.6" font-size="4.5" fill="#1a1a1a" stroke="#1a1a1a" stroke-width="0.12" text-anchor="end">06_cpx</text><rect x="401.7" y="413.4" width="1.4" height="1.2" fill="#444"/><text x="400" y="415.6" font-size="4.5" fill="#1a1a1a" stroke="#1a1a1a" stroke-width="0.12" text-anchor="end">09_cpx</text><rect x="401.7" y="419.4" width="1.4" height="1.2" fill="#444"/><text x="400" y="421.6" font-size="4.5" fill="#1a1a1a" stroke="#1a1a1a" stroke-width="0.12" text-anchor="end">11A5</text><rect x="401.5" y="425.2" width="1.8" height="6.6" fill="#222"/><text x="400" y="430.1" font-size="4.5" fill="#1a1a1a" stroke="#1a1a1a" stroke-width="0.12" text-anchor="end">01_cpx</text><rect x="401.7" y="435.4" width="1.4" height="1.2" fill="#444"/><text x="400" y="437.6" font-size="4.5" fill="#1a1a1a" stroke="#1a1a1a" stroke-width="0.12" text-anchor="end">13_cpx</text><rect x="401.7" y="441.4" width="1.4" height="1.2" fill="#444"/><text x="400" y="443.6" font-size="4.5" fill="#1a1a1a" stroke="#1a1a1a" stroke-width="0.12" text-anchor="end">18_cpx</text><rect x="401.7" y="446.4" width="1.4" height="1.2" fill="#444"/><text x="400" y="448.6" font-size="4.5" fill="#1a1a1a" stroke="#1a1a1a" stroke-width="0.12" text-anchor="end">19_cpx</text><rect x="401.7" y="450.4" width="1.4" height="1.2" fill="#444"/><text x="400" y="452.6" font-size="4.5" fill="#1a1a1a" stroke="#1a1a1a" stroke-width="0.12" text-anchor="end">22A1G</text><rect x="401.7" y="455.4" width="1.4" height="1.2" fill="#444"/><text x="400" y="457.6" font-size="4.5" fill="#1a1a1a" stroke="#1a1a1a" stroke-width="0.12" text-anchor="end">22D2</text><rect x="401.5" y="461.09" width="1.8" height="7.81" fill="#222"/><text x="400" y="466.6" font-size="4.5" fill="#1a1a1a" stroke="#1a1a1a" stroke-width="0.12" text-anchor="end">22_01AE</text><rect x="401.7" y="471.4" width="1.4" height="1.2" fill="#444"/><text x="400" y="473.6" font-size="4.5" fill="#1a1a1a" stroke="#1a1a1a" stroke-width="0.12" text-anchor="end">25_cpx</text><rect x="401.7" y="477.4" width="1.4" height="1.2" fill="#444"/><text x="400" y="479.6" font-size="4.5" fill="#1a1a1a" stroke="#1a1a1a" stroke-width="0.12" text-anchor="end">36_cpx</text><rect x="401.7" y="483.4" width="1.4" height="1.2" fill="#444"/><text x="400" y="485.6" font-size="4.5" fill="#1a1a1a" stroke="#1a1a1a" stroke-width="0.12" text-anchor="end">37_cpx</text><rect x="401.7" y="489.4" width="1.4" height="1.2" fill="#444"/><text x="400" y="491.6" font-size="4.5" fill="#1a1a1a" stroke="#1a1a1a" stroke-width="0.12" text-anchor="end">45_cpx</text><rect x="401.5" y="496.44" width="1.8" height="8.12" fill="#222"/><text x="400" y="502.1" font-size="4.5" fill="#1a1a1a" stroke="#1a1a1a" stroke-width="0.12" text-anchor="end">A</text><rect x="401.5" y="508.19" width="1.8" height="7.61" fill="#222"/><text x="400" y="513.6" font-size="4.5" fill="#1a1a1a" stroke="#1a1a1a" stroke-width="0.12" text-anchor="end">A1</text><rect x="401.7" y="519.4" width="1.4" height="1.2" fill="#444"/><text x="400" y="521.6" font-size="4.5" fill="#1a1a1a" stroke="#1a1a1a" stroke-width="0.12" text-anchor="end">A1D</text><rect x="401.7" y="524.4" width="1.4" height="1.2" fill="#444"/><text x="400" y="526.6" font-size="4.5" fill="#1a1a1a" stroke="#1a1a1a" stroke-width="0.12" text-anchor="end">A1F2</text><rect x="401.7" y="529.4" width="1.4" height="1.2" fill="#444"/><text x="400" y="531.6" font-size="4.5" fill="#1a1a1a" stroke="#1a1a1a" stroke-width="0.12" text-anchor="end">A1G</text><rect x="401.7" y="534.4" width="1.4" height="1.2" fill="#444"/><text x="400" y="536.6" font-size="4.5" fill="#1a1a1a" stroke="#1a1a1a" stroke-width="0.12" text-anchor="end">A1M</text><rect x="401.7" y="539.4" width="1.4" height="1.2" fill="#444"/><text x="400" y="541.6" font-size="4.5" fill="#1a1a1a" stroke="#1a1a1a" stroke-width="0.12" text-anchor="end">A1K</text><rect x="401.7" y="544.4" width="1.4" height="1.2" fill="#444"/><text x="400" y="546.6" font-size="4.5" fill="#1a1a1a" stroke="#1a1a1a" stroke-width="0.12" text-anchor="end">A2</text><rect x="401.7" y="549.4" width="1.4" height="1.2" fill="#444"/><text x="400" y="551.6" font-size="4.5" fill="#1a1a1a" stroke="#1a1a1a" stroke-width="0.12" text-anchor="end">A3</text><rect x="401.7" y="554.4" width="1.4" height="1.2" fill="#444"/><text x="400" y="556.6" font-size="4.5" fill="#1a1a1a" stroke="#1a1a1a" stroke-width="0.12" text-anchor="end">A3F2</text><rect x="401.7" y="559.4" width="1.4" height="1.2" fill="#444"/><text x="400" y="561.6" font-size="4.5" fill="#1a1a1a" stroke="#1a1a1a" stroke-width="0.12" text-anchor="end">AF2</text><rect x="401.7" y="564.4" width="1.4" height="1.2" fill="#444"/><text x="400" y="566.6" font-size="4.5" fill="#1a1a1a" stroke="#1a1a1a" stroke-width="0.12" text-anchor="end">AF2G</text><rect x="401.7" y="569.4" width="1.4" height="1.2" fill="#444"/><text x="400" y="571.6" font-size="4.5" fill="#1a1a1a" stroke="#1a1a1a" stroke-width="0.12" text-anchor="end">AGU</text><rect x="401.7" y="574.4" width="1.4" height="1.2" fill="#444"/><text x="400" y="576.6" font-size="4.5" fill="#1a1a1a" stroke="#1a1a1a" stroke-width="0.12" text-anchor="end">AHU</text><rect x="401.7" y="579.4" width="1.4" height="1.2" fill="#444"/><text x="400" y="581.6" font-size="4.5" fill="#1a1a1a" stroke="#1a1a1a" stroke-width="0.12" text-anchor="end">B</text><rect x="401.7" y="584.4" width="1.4" height="1.2" fill="#444"/><text x="400" y="586.6" font-size="4.5" fill="#1a1a1a" stroke="#1a1a1a" stroke-width="0.12" text-anchor="end">BF2</text><rect x="401.7" y="588.9" width="1.4" height="1.2" fill="#444"/><text x="400" y="591.1" font-size="4.5" fill="#1a1a1a" stroke="#1a1a1a" stroke-width="0.12" text-anchor="end">C</text><rect x="401.5" y="592.72" width="1.8" height="4.57" fill="#222"/><text x="400" y="596.6" font-size="4.5" fill="#1a1a1a" stroke="#1a1a1a" stroke-width="0.12" text-anchor="end">D</text><rect x="401.7" y="599.4" width="1.4" height="1.2" fill="#444"/><text x="400" y="601.6" font-size="4.5" fill="#1a1a1a" stroke="#1a1a1a" stroke-width="0.12" text-anchor="end">DG</text><rect x="401.7" y="604.4" width="1.4" height="1.2" fill="#444"/><text x="400" y="606.6" font-size="4.5" fill="#1a1a1a" stroke="#1a1a1a" stroke-width="0.12" text-anchor="end">DO</text><rect x="401.7" y="609.4" width="1.4" height="1.2" fill="#444"/><text x="400" y="611.6" font-size="4.5" fill="#1a1a1a" stroke="#1a1a1a" stroke-width="0.12" text-anchor="end">F</text><rect x="401.7" y="614.4" width="1.4" height="1.2" fill="#444"/><text x="400" y="616.6" font-size="4.5" fill="#1a1a1a" stroke="#1a1a1a" stroke-width="0.12" text-anchor="end">F1</text><rect x="401.5" y="619.19" width="1.8" height="8.63" fill="#222"/><text x="400" y="625.1" font-size="4.5" fill="#1a1a1a" stroke="#1a1a1a" stroke-width="0.12" text-anchor="end">F2</text><rect x="401.7" y="632.1" width="1.4" height="1.2" fill="#444"/><text x="400" y="634.3" font-size="4.5" fill="#1a1a1a" stroke="#1a1a1a" stroke-width="0.12" text-anchor="end">F2G</text><rect x="401.5" y="636.16" width="1.8" height="11.67" fill="#222"/><text x="400" y="643.6" font-size="4.5" fill="#1a1a1a" stroke="#1a1a1a" stroke-width="0.12" text-anchor="end">G</text><rect x="401.7" y="650.9" width="1.4" height="1.2" fill="#444"/><text x="400" y="653.1" font-size="4.5" fill="#1a1a1a" stroke="#1a1a1a" stroke-width="0.12" text-anchor="end">H</text><rect x="401.7" y="655.4" width="1.4" height="1.2" fill="#444"/><text x="400" y="657.6" font-size="4.5" fill="#1a1a1a" stroke="#1a1a1a" stroke-width="0.12" text-anchor="end">J</text><rect x="401.7" y="660.4" width="1.4" height="1.2" fill="#444"/><text x="400" y="662.6" font-size="4.5" fill="#1a1a1a" stroke="#1a1a1a" stroke-width="0.12" text-anchor="end">K</text><rect x="401.5" y="664.22" width="1.8" height="3.55" fill="#222"/><text x="400" y="667.6" font-size="4.5" fill="#1a1a1a" stroke="#1a1a1a" stroke-width="0.12" text-anchor="end">N</text><rect x="401.5" y="671.89" width="1.8" height="15.23" fill="#222"/><text x="400" y="681.1" font-size="4.5" fill="#1a1a1a" stroke="#1a1a1a" stroke-width="0.12" text-anchor="end">O</text><rect x="401.7" y="689.9" width="1.4" height="1.2" fill="#444"/><text x="400" y="692.1" font-size="4.5" fill="#1a1a1a" stroke="#1a1a1a" stroke-width="0.12" text-anchor="end">P</text><rect x="401.7" y="696.4" width="1.4" height="1.2" fill="#444"/><text x="400" y="698.6" font-size="4.5" fill="#1a1a1a" stroke="#1a1a1a" stroke-width="0.12" text-anchor="end">U</text><rect x="215.6" y="416.3" width="2" height="46.2" fill="#222"/><rect x="215.6" y="468" width="2" height="71.4" fill="#222"/><text x="213" y="443.5" font-size="7.2" fill="#333" text-anchor="end">Pre-cART</text><text x="213" y="507.5" font-size="7.2" fill="#333" text-anchor="end">Post-cART</text><text x="201.3" y="559.8" font-size="10" font-weight="bold" fill="#cbbf6c" textLength="30.6" lengthAdjust="spacingAndGlyphs">N=198</text><text x="201.3" y="572.3" font-size="10" font-weight="bold" fill="#a47ccc" textLength="30.6" lengthAdjust="spacingAndGlyphs">N=300</text></g><path d="M570.3 157.9L619.2 141.8M562.3 170.7L617 179.5M574.3 184.6L618.1 207.7M554.7 177.9L595.1 210.1M556.6 194.8L584.1 244.9M542.8 194.3L545.2 246.3M533.5 207.5L523.7 257.1M521.5 204.7L498.3 248.3M522.9 183.8L486.8 215.8M514.4 184.4L466 215M509.4 172.5L461.1 180.3M510.3 167.3L456.2 167.3M516.2 162.2L466.6 152.1M516.2 149.9L472.2 119.6M523.9 143.7L492.1 101.1M522.9 132.3L500.7 90.5M541.6 129.6L541.7 77.7M550.9 136.1L566.3 84.9M564.9 131.5L596.4 83.3" fill="none" stroke="#d2c868" stroke-width="1.75" stroke-dasharray="1.2 0.5" stroke-opacity="0.85"/><path d="M553.9 190.3L575.7 231" fill="none" stroke="#555" stroke-width="1.75" stroke-dasharray="1.2 0.5" stroke-opacity="0.85"/><path d="M569.8 154.3L617.1 132.7M565.6 159.7L618.2 143.1M577.8 161.6L629.1 153.5M576 165.3L630.5 162M568.5 171.4L616.6 178.7M564.3 175L615.6 192.3M570.2 181L620.9 205.1M554.1 176.1L594 203.7M559 188.3L593.8 229.8M558.6 194.6L587 239.9M553.5 203.1L570.5 254M547.7 203.5L555.9 251M538 192.7L530.6 246M532.7 195L517.2 243.4M528.2 191.6L502.4 238.6M519.1 197.1L489.8 236M516 190.6L474.8 228.2M512.7 178.7L460.2 199.5M514.4 173.9L468.4 185.2M499.6 167.9L445.4 168.7M521.6 163.8L475.7 155.9M512 155.3L460.4 134.4M512.1 149.4L472 124.8M516.1 147.6L473.8 114.7M519.8 137.5L487.1 92.5M533.1 148.2L512.7 101.9M536.3 141.6L525.7 89.7M544.1 137.3L548.7 84.6M550.6 133.2L563.4 85.4M554.1 140.5L574.4 97.2M567.1 134.2L601.3 89.9" fill="none" stroke="#9a6ce0" stroke-width="1.75" stroke-dasharray="1.2 0.5" stroke-opacity="0.85"/><path d="M560.7 162.2L606.4 150M569 172.1L619 181M574.8 186.2L618.1 210.6M557.6 180.6L594.7 211.2M555.5 198.7L574.2 240.7M542.4 192L544.3 246.3M529.6 206.2L516.1 250.6M526.6 191.8L497.4 239.8M513.9 191.1L470.9 228.1M514.4 182.1L472.6 204.9M512 171.2L459.7 178.2M502.3 166.7L454.5 165.9M513.6 157.7L468.5 142.1M518.5 144.7L484.4 111.2M523.6 141.7L493.5 98.9M528.9 137.5L509.6 91.5M543 141.7L545.9 93.5M550.1 147.6L571.1 99.6M562.4 138L591.4 97.1" fill="none" stroke="#d2c868" stroke-width="1.75" stroke-dasharray="1.2 0.5" stroke-opacity="0.85"/><path d="M515 175.2L468.3 189.2" fill="none" stroke="#555" stroke-width="1.75" stroke-dasharray="1.2 0.5" stroke-opacity="0.85"/><path d="M565.9 156.6L610.1 137.3M571.9 158.1L617.5 144.4M580.2 161.8L636.7 153.7M574.5 167.8L629.4 168.5M555.3 170.1L605.2 180.3M572.3 178.1L625.1 196.7M575.6 184L626.6 209M558.1 182.2L599.3 219.4M553.8 184.1L586.1 228.2M556 191.1L585.7 240M550.6 195.7L566.5 245.4M546.3 197.4L553.9 246M535.7 201.4L528 247.2M529.3 202L510.3 255.7M527 192.9L501.5 238.2M520.3 194.6L490.6 232.9M519.7 185.5L482.9 216.2M514 177.7L468.2 195.1M514.8 173.5L465 185.1M507.3 165.9L460.9 163.9M515.2 161.5L469.8 151.6M513.4 155.3L469.4 136.6M511.7 147.7L467 118.4M514.3 142.1L473 103.7M520.8 137.1L488.9 90.4M533.2 142.8L518 97.5M537.1 129.4L530.6 73.9M543.9 144L548.7 96.7M547.4 146.5L562.3 94.2M554.2 141.5L578 92.9M539.4 127.4L535.2 47.5" fill="none" stroke="#9a6ce0" stroke-width="1.75" stroke-dasharray="1.2 0.5" stroke-opacity="0.85"/><path d="M564.3 161.5L610.3 149.8M566.7 172.2L622.3 183M563.2 182.8L607 214.3M564.9 187.1L602.7 219.1M552.3 193.8L574.2 247.4M540.5 196.2L538.4 253.7M529.6 203L511.5 257M521.4 197.8L490.1 245.3M526.3 179.8L490 209.6M521.5 177.5L475.3 200.9M507.8 170L458.2 174M506.6 166.2L453.8 164.5M510.1 152.9L461.2 130.6M519.7 145.1L484.1 109M526.4 143.8L495.2 95.2M533.4 129.8L522.5 79.3M546 127.5L551.8 77M555.8 135.9L577.4 88.5M558.8 144.3L590.6 102.1" fill="none" stroke="#d2c868" stroke-width="1.75" stroke-dasharray="1.2 0.5" stroke-opacity="0.85"/><path d="M513.7 145.1L468.7 109" fill="none" stroke="#555" stroke-width="1.75" stroke-dasharray="1.2 0.5" stroke-opacity="0.85"/><path d="M570.5 155.1L613.3 137.1M565.9 160.4L615.4 146.5M565.3 164.7L620.1 158.6M558.5 167.8L607.7 169.4M555.1 170.3L607.6 181.8M560.2 174.6L610.1 193.9M575.4 185.7L616.7 208.1M564.5 188.5L606.2 226.7M552 182.2L583.5 226.9M555.7 191.4L581.7 235.6M550.5 197.2L564.7 244.5M545.3 196.9L551.3 243.3M535 202.6L525 257.6M530.5 197.7L514.5 241.9M520.1 204L494.4 248.1M519.4 194.9L489.1 232.7M528.7 176.4L481.8 209.8M512.9 177.8L467.3 194.5M512.3 172.8L455.5 183.5M504 165.3L456.4 162.7M521.1 162.6L471.4 151.1M509.7 153.4L466.8 134.6M516 150.2L476.8 123.8M511 138.2L475.3 104.2M525.2 141.2L496.3 95.1M530.9 134.4L513.4 80M537.9 132.7L532.5 80.2M545.5 141.8L553.8 89M553 136.6L570.7 89.3M556.2 140.1L582.5 91.5M553.9 205.3L578 279.5" fill="none" stroke="#9a6ce0" stroke-width="1.75" stroke-dasharray="1.2 0.5" stroke-opacity="0.85"/><path d="M579.2 162.5L628.2 156.3M560.9 172.2L611.1 185M555.9 178L601.6 211.8M560.2 183.7L597.4 216.2M552.6 195.3L570.8 241M540 195.2L537.4 244.2M528.9 199L511.6 242.4M518.8 193.3L482.1 235.5M522.3 181.4L481.4 211.2M521.3 175.6L474.7 194.7M509.1 169.5L455.8 173M511.6 163.7L455 157M519.6 156.9L475.6 136M512.8 137.6L479.8 103.5M525.7 140.2L498.1 93.2M534.5 130.2L525 79.4M546.6 128.3L553.7 73.5M550.2 150.2L571.6 107.9" fill="none" stroke="#d2c868" stroke-width="1.75" stroke-dasharray="1.2 0.5" stroke-opacity="0.85"/><path d="M532 140.5L516.5 96.3" fill="none" stroke="#555" stroke-width="1.75" stroke-dasharray="1.2 0.5" stroke-opacity="0.85"/><path d="M575.8 153.3L622.1 134.3M562.2 162.4L616.9 149.6M582.1 163.2L630.6 158.2M575.5 168.8L627 171.1M562.7 172.3L610.5 183.7M572.2 179.6L615.1 196.9M575.6 187.1L622.9 214.5M564.3 191.4L601.1 230.4M557.5 190.5L586.3 232.1M556.8 203.2L579.4 256.1M550.1 197.7L563.7 245.7M541.9 187.6L542.9 241M532.8 207.8L522.8 254.5M530.8 195.8L512.6 243.9M519.9 201.9L495 241.7M517.1 193.7L479.4 234.6M517.7 183.4L472.5 213.9M517.7 175.7L465.9 193.9M505.6 173.7L457.7 182.2M513.6 165.3L459 161.4M510.3 159.6L465.5 148.6M520.3 156.9L476 135.2M514.8 148.3L471.9 117.8M513.8 136L477.9 95.6M527.6 144.3L503.7 104.8M530.7 132.5L516.8 88M538 127.7L533.7 80.2M548.2 129.5L557.7 75.9M553.6 135.8L570.4 92.1M564.7 132.6L594.5 88M506.9 187.3L454.9 217.3" fill="none" stroke="#9a6ce0" stroke-width="1.75" stroke-dasharray="1.2 0.5" stroke-opacity="0.85"/><path d="M573.6 167.2L630.3 167.2M576 180L621.6 196.8M564.4 184.8L606 216.4M567.3 196.4L598.1 231.3M554.4 202.9L572.8 253.5M537.9 195.6L531.9 243.1M526.6 203.7L505.6 254.9M519.4 192L488.4 226.6M521.8 181L480.8 209.6M504.5 175.4L456.5 186M508.8 168.7L455.2 171M516.3 163.9L467.2 157.4M518.2 153.6L476.9 129.3M515.6 139.5L483.6 105M522.2 133.3L497.1 89.1M537 133.2L530.2 80.8M546.9 130.8L555 75.4M552.9 145.6L578.4 97" fill="none" stroke="#d2c868" stroke-width="1.75" stroke-dasharray="1.2 0.5" stroke-opacity="0.85"/><path d="M565.1 158L610.3 140.2M558.7 163.4L612.4 151.3M573.9 164.5L626.3 160M558.4 168.2L606.2 170.8M559.4 172.1L605.2 184.2M562.8 176.3L607.1 194.9M572.2 185.7L621.1 215M558 185.3L589.8 220M559.1 193.7L584.8 232.5M555.2 203.7L572.6 250.1M546.2 190.7L557.2 246.4M540 190.5L536.8 239.8M534.6 192.3L519.7 245.9M530.4 192.1L507 244.4M521.5 198.6L490.7 247M516.1 194.3L478.4 234.3M519.8 178.7L472.3 203.7M526.4 172.4L477.5 188.8M518.6 170.7L471.1 177.7M524.3 164.7L471.8 156.7M514.1 158.7L460 141.6M509.2 150.9L466.6 129.3M518.7 150.6L472 116.3M522.9 145.7L492.5 110.5M523.6 132.1L498.2 82.1M533.4 139.7L517.3 84.6M540.7 135.6L539.3 84.7M546.3 147.1L558 97.9M551.3 143.1L570.6 95.3M562.1 137.5L588.4 99.5M524.6 203.6L494.2 268.8" fill="none" stroke="#9a6ce0" stroke-width="1.75" stroke-dasharray="1.2 0.5" stroke-opacity="0.85"/><path d="M568.1 169.1L616 172.5M570 181.9L612.5 203.7M563.4 184.3L606.9 218.1M552.4 186.3L578.3 231.2M546 197.6L554.1 252.7M536.2 201.1L528.5 250.3M530.7 192.5L511.4 237.7M516.8 192.8L484.4 226.1M520.7 180.9L482.2 206M516.9 172.3L468 182.2M501 168.2L450.3 169.4M513.5 161.9L458.3 151.1M514.4 150.1L474.3 124.6M520.9 144.5L486.3 106.4M524.8 136.9L497.9 88M541.1 139.5L540.4 86.8M547.2 137L557.9 80.3M556.2 144.1L586.4 96.5" fill="none" stroke="#d2c868" stroke-width="1.75" stroke-dasharray="1.2 0.5" stroke-opacity="0.85"/><path d="M556.5 162.1L608.8 144M575.5 161.4L626.9 152.4M581.4 164.4L629 160.9M560.4 168.9L607.7 172.9M568.5 175L614.3 188M578.5 184.2L630.9 208.1M578.2 190L625.1 219M561.5 190.4L592 225.5M557.7 192.4L587.6 238.8M550.8 194.1L568.7 246.1M545.7 189.9L555.4 241.5M538.5 195.4L532.3 252.6M531.7 201L516.8 252.6M521.7 205.9L496 256.2M517.9 199.5L485.5 243.5M515.1 192.1L477.6 227.5M516.7 177.9L471.3 197.4M512.4 176.5L466.8 191M513.6 168.8L463.8 171.4M518.1 163.4L461.6 154.1M509.1 156.7L464 141.9M509.7 150.5L460.6 124.6M512.6 145.5L468.2 112M513.2 133.2L483.7 97.7M529.1 140.2L509.9 98M532.3 126.9L520.2 73.4M543.8 138L547.4 91.1M546.1 149.2L559.4 97.1M553.9 137.7L574.4 88.5M561 140.8L594.6 95.5M521.5 132.7L491.5 80.7" fill="none" stroke="#9a6ce0" stroke-width="1.75" stroke-dasharray="1.2 0.5" stroke-opacity="0.85"/><path d="M556.1 161.1L568.9 154.7M556.1 161.1L565 157M556.1 161.1L569.5 155.5M556.1 161.1L574.8 153.6M556.1 161.1L564.1 158.4M549.5 165.1L555.6 162.4M549.5 165.1L569.3 158.2M549.5 165.1L564.6 160M549.5 165.1L571 158.4M549.5 165.1L565 160.7M549.5 165.1L559.8 162.4M549.5 165.1L563.3 161.7M549.5 165.1L561.2 162.7M549.5 165.1L557.7 163.6M557.3 165.5L574.5 161.5M557.3 165.5L576.8 161.7M557.3 165.5L579.2 161.9M557.3 165.5L578.2 162.6M557.3 165.5L564.3 164.8M557.3 165.5L581.1 163.3M557.3 165.5L572.9 164.6M557.3 165.5L580.4 164.5M557.3 165.5L575 165.3M551.2 167.7L572.6 167.3M551.2 167.7L573.5 167.7M551.2 167.7L557.5 167.8M551.2 167.7L574.5 168.8M551.2 167.7L557.4 168.2M551.2 167.7L567.1 169.1M551.2 167.7L559.4 168.8M547.6 168.6L567.5 171.2M547.6 168.6L561.3 170.5M547.6 168.6L568 172M547.6 168.6L565.7 172M547.6 168.6L554.4 169.9M547.6 168.6L554.2 170.1M547.6 168.6L561.7 172.1M547.6 168.6L559.9 172M547.6 168.6L558.5 171.8M547.6 168.6L567.5 174.7M553 171.6L563.4 174.7M553 171.6L571.4 177.8M553 171.6L575 179.7M553 171.6L559.3 174.2M553 171.6L571.3 179.3M553 171.6L561.9 175.9M557.7 176L577.6 183.8M557.7 176L569.3 180.5M557.7 176L574.7 183.6M557.7 176L569.1 181.4M557.7 176L573.4 184.1M557.7 176L574.6 185.2M557.7 176L574 185.7M557.7 176L574.8 186.6M557.7 176L571.3 185.2M557.7 176L577.3 189.4M547.7 172.3L553.3 175.5M547.7 172.3L562.3 182.3M547.7 172.3L555.1 177.4M547.7 172.3L563.6 184.1M547.7 172.3L562.6 183.7M547.7 172.3L554 177.2M547.7 172.3L556.8 179.9M547.7 172.3L564.1 186.4M547.7 172.3L559.5 183.1M547.7 172.3L557.3 181.6M547.7 172.3L563.8 187.8M551.1 178.1L563.6 190.7M551.1 178.1L557.3 184.5M551.1 178.1L566.6 195.7M551.1 178.1L560.9 189.6M551.1 178.1L558.4 187.5M545.8 174.1L553.2 183.3M545.8 174.1L551.4 181.3M545.8 174.1L556.9 189.6M545.8 174.1L558.5 192.9M545.8 174.1L557.1 191.5M545.8 174.1L558.1 193.8M545.8 174.1L555.5 190.2M545.8 174.1L555.2 190.6M545.8 174.1L551.9 185.4M545.8 174.1L556.1 193.9M545.8 174.1L553.4 189.5M546.4 180.8L555 197.8M546.4 180.8L556.5 202.3M546.4 180.8L552 192.9M546.4 180.8L552.3 194.4M546.4 180.8L554.8 202.7M546.4 180.8L554.1 202M546.4 180.8L550.5 193.2M546.4 180.8L553.1 202.1M546.4 180.8L550.3 194.8M546.4 180.8L550.2 196.3M546.4 180.8L549.8 196.8M543.6 179.9L546 189.7M543.6 179.9L545.5 188.9M543.6 179.9L547.6 202.5M543.6 179.9L546.1 196.4M543.6 179.9L545.8 196.6M543.6 179.9L545.2 195.9M541.7 173.5L542.7 193.3M541.7 173.5L542.3 191M541.7 173.5L541.9 186.6M541 176.4L540.5 195.2M541 176.4L540.1 194.2M541 176.4L540.1 189.5M538.8 183.8L538.6 194.4M538.8 183.8L538.1 194.6M538.8 183.8L538.1 191.7M538.8 183.8L536.4 200.1M538.8 183.8L535.9 200.5M538.8 183.8L535.2 201.6M538.8 183.8L533.7 206.6M538.8 183.8L533 206.8M536.1 182.4L534.8 191.4M536.1 182.4L532 200M536.1 182.4L529.9 205.2M536.1 182.4L533 194.1M536.1 182.4L529.9 202M536.1 182.4L529.6 201.1M536.1 182.4L530.8 196.7M536.1 182.4L531.1 194.8M536.1 182.4L529.2 198.1M536.1 182.4L527 202.8M536.1 182.4L531.1 191.5M536.1 182.4L530.8 191.2M531.3 184.8L522.2 205M531.3 184.8L522 203.9M531.3 184.8L528.6 190.8M531.3 184.8L527.5 192M531.3 184.8L520.6 203.1M531.3 184.8L527.1 190.9M531.3 184.8L520.4 201M531.3 184.8L522 197.8M531.3 184.8L521.9 197M531.8 179.9L518.5 198.7M531.8 179.9L519.7 196.3M531.8 179.9L520.9 193.8M531.8 179.9L520 194.2M533.1 176.5L519.5 192.6M533.1 176.5L520.1 191.3M533.1 176.5L517.8 193M533.1 176.5L516.7 193.6M533.1 176.5L517.5 192.1M532.3 175.3L515.9 191.4M532.3 175.3L516.8 189.9M532.3 175.3L523.6 183.2M532.3 175.3L514.6 190.4M532.3 175.3L520.5 184.9M532.3 175.3L527.1 179.1M535.4 171.5L523.1 180.8M535.4 171.5L529.5 175.8M535.4 171.5L522.6 180.4M535.4 171.5L518.5 182.8M535.4 171.5L521.5 180.3M535.4 171.5L515.3 183.9M533.6 171.5L515.3 181.6M533.6 171.5L520.7 178.2M533.6 171.5L522.4 177M533.7 170.1L517.6 177.5M533.7 170.1L522.3 175.2M533.7 170.1L513.6 178.4M533.7 170.1L514.9 177.4M533.7 170.1L513.9 177.4M533.7 170.1L518.6 175.3M533.7 170.1L527.3 172.1M533.7 170.1L513.3 176.2M533.7 170.1L516 174.9M527.1 170L515.4 173.7M527.1 170L515.7 173.3M527.1 170L505.5 175.2M527.1 170L517.9 172.1M527.1 170L513.3 172.6M527.1 170L506.6 173.5M527.1 170L510.3 172.3M527.1 170L519.6 170.5M527.1 170L513 171.1M521.6 167.4L508.8 169.9M521.6 167.4L510.1 169.4M521.6 167.4L514.6 168.7M521.6 167.4L509.8 168.7M521.6 167.4L502 168.2M521.6 167.4L500.6 167.9M521.6 167.4L511.3 167.3M521.6 167.4L503.3 166.7M521.6 167.4L507.6 166.2M521.6 167.4L508.3 165.9M521.6 167.4L505 165.3M521.6 167.4L514.6 165.4M532.5 165.6L512.6 163.8M532.5 165.6L517.3 164.1M532.5 165.6L525.3 164.8M532.5 165.6L519.1 163.6M532.5 165.6L522.6 164M532.5 165.6L514.4 162M532.5 165.6L517.2 162.4M532.5 165.6L516.1 161.8M532.5 165.6L522.1 162.8M532.5 165.6L511.2 159.8M521.1 160.6L515 159M521.1 160.6L510.1 157M521.1 160.6L514.5 158M529.4 161.7L512.9 155.7M529.4 161.7L514.4 155.7M529.4 161.7L510.6 153.8M529.4 161.7L511 153.4M529.4 161.7L520.5 157.3M529.4 161.7L521.2 157.4M529.4 161.7L510.1 151.4M529.4 161.7L510.6 151M531.5 160.4L519.1 154.1M531.5 160.4L513 149.9M531.5 160.4L515.2 150.6M531.5 160.4L512.5 148.3M531.5 160.4L516.8 150.7M531.5 160.4L517 150.5M531.5 160.4L515.6 148.9M531.5 160.4L519.5 151.2M531.5 160.4L513.4 146.1M531.5 160.4L516.9 148.2M531.5 160.4L514.5 145.7M527.2 152.2L515.1 142.8M527.2 152.2L511.7 138.9M527.2 152.2L519.2 145.4M527.2 152.2L520.4 145.9M527.2 152.2L513.5 138.3M527.2 152.2L516.3 140.2M527.2 152.2L521.6 145.3M527.2 152.2L514.4 136.8M527.2 152.2L523.5 146.5M527.2 152.2L513.8 134M531.5 153.3L524.5 144.5M531.5 153.3L520.4 138.3M531.5 153.3L524.1 142.5M531.5 153.3L521.4 137.9M533.7 153.8L526.9 144.6M533.7 153.8L525.7 142.1M533.7 153.8L528.1 145.1M533.7 153.8L526.2 141.1M533.7 153.8L522.7 134.2M533.7 153.8L525.3 137.8M533.7 153.8L523.3 133.2M533.7 153.8L524.1 133M537.5 158.2L529.6 141.1M537.5 158.2L533.5 149.1M537.5 158.2L529.3 138.4M535.8 149.5L532.4 141.4M535.8 149.5L533.6 143.7M535.8 149.5L531.2 135.4M535.8 149.5L531 133.4M535.8 149.5L533.7 140.7M537.8 149.7L532.5 127.8M537.8 149.7L533.6 130.7M537.8 149.7L536.5 142.6M537.8 149.7L534.7 131.2M539.7 151L537.2 134.2M539.7 151L537.2 130.4M539.7 151L538 133.7M539.7 151L538.1 128.7M541.3 148.1L540.7 136.6M541.3 148.1L541.1 140.5M541.3 148.1L541.6 130.6M543.4 152L543 142.7M543.4 152L543.7 139M543.4 152L544 138.3M543.4 152L543.8 145M543.4 152L545.9 128.5M543.4 152L546.4 129.3M543.4 152L546.7 131.8M543.4 152L545.4 142.7M543.4 152L548 130.5M543.4 152L547 138M544.2 157.1L546.1 148M544.2 157.1L545.9 150.2M544.2 157.1L550.4 134.1M544.2 157.1L547.1 147.5M544.2 157.1L550.6 137M546.1 157.1L552.6 137.5M546.1 157.1L553.3 136.7M546.1 157.1L550.9 144M546.1 157.1L553.5 138.7M546.1 157.1L549.7 148.5M546.1 157.1L555.4 136.8M546.1 157.1L553.7 141.4M546.1 157.1L553.7 142.4M546.1 157.1L549.7 151.1M546.1 157.1L552.4 146.5M546.1 157.1L555.7 141M552 152.4L555.7 144.9M552 152.4L564.4 132.3M552 152.4L564.1 133.5M552 152.4L561.5 138.4M552 152.4L561.8 138.8M552 152.4L560.4 141.6M552 152.4L558.2 145.1M552 152.4L566.5 135M541.5 167.3L539.4 127.4M541.5 167.3L553.9 205.3M541.5 167.3L506.9 187.3M541.5 167.3L524.6 203.6M541.5 167.3L521.5 132.7" fill="none" stroke="#333" stroke-width="0.4" stroke-opacity="0.8"/><path d="M543.4 166.6L584.7 151.6M543.5 166.9L586.6 158.1M543.5 167.2L587.5 166.1M543.5 167.5L587.2 172.4M543.4 167.9L585.3 181.4M543.3 168.1L583.7 185.7M543.2 168.4L580.1 192.3M542.9 168.7L574.2 199.6M542.7 168.9L569.8 203.6M542.4 169.1L561.9 208.5M542 169.2L552.3 212M541.7 169.3L545.6 213.1M541.5 169.3L540.5 213.3M541.3 169.3L537.8 213.1M541 169.2L530.7 212M540.6 169.1L521.5 208.7M540.4 168.9L515.2 205M540.2 168.8L511.9 202.6M540.1 168.7L508.9 199.7M539.9 168.5L505 195.3M539.8 168.3L502.1 191M539.7 168.1L499.7 186.6M539.6 167.8L497.1 179.4M539.5 167.5L495.8 172.3M539.5 167.1L495.7 162.8M539.6 166.8L497.1 155.2M539.6 166.6L498.6 150.7M539.7 166.3L501.2 145.2M540 166L506.6 137.4M540.3 165.7L513.5 130.8M540.4 165.6L516.1 129M540.6 165.5L521.2 126M540.8 165.4L524.9 124.4M541 165.4L529.9 122.8M541.2 165.3L534.4 121.8M541.4 165.3L538.4 121.4M541.6 165.3L543.5 121.3M541.9 165.3L550.7 122.2M542.1 165.4L556.1 123.7M542.5 165.6L564.6 127.5M542.8 165.8L571.1 132.1" fill="none" stroke="#fff" stroke-width="1.6" stroke-opacity="0.9"/><path d="M541.5 167.3L556.1 161.1M541.5 167.3L549.5 165.1M541.5 167.3L557.3 165.5M541.5 167.3L551.2 167.7M541.5 167.3L547.6 168.6M541.5 167.3L553 171.6M541.5 167.3L557.7 176M541.5 167.3L547.7 172.3M541.5 167.3L551.1 178.1M541.5 167.3L545.8 174.1M541.5 167.3L546.4 180.8M541.5 167.3L543.6 179.9M541.5 167.3L541.7 173.5M541.5 167.3L541 176.4M541.5 167.3L538.8 183.8M541.5 167.3L536.1 182.4M541.5 167.3L531.3 184.8M541.5 167.3L531.8 179.9M541.5 167.3L533.1 176.5M541.5 167.3L532.3 175.3M541.5 167.3L535.4 171.5M541.5 167.3L533.6 171.5M541.5 167.3L533.7 170.1M541.5 167.3L527.1 170M541.5 167.3L521.6 167.4M541.5 167.3L532.5 165.6M541.5 167.3L521.1 160.6M541.5 167.3L529.4 161.7M541.5 167.3L531.5 160.4M541.5 167.3L527.2 152.2M541.5 167.3L531.5 153.3M541.5 167.3L533.7 153.8M541.5 167.3L537.5 158.2M541.5 167.3L535.8 149.5M541.5 167.3L537.8 149.7M541.5 167.3L539.7 151M541.5 167.3L541.3 148.1M541.5 167.3L543.4 152M541.5 167.3L544.2 157.1M541.5 167.3L546.1 157.1M541.5 167.3L552 152.4" fill="none" stroke="#222" stroke-width="0.6"/><path d="M541.5 167.3L661.4 73.9M541.5 167.3L644.3 91M541.5 167.3L614.9 99.4M541.5 167.3L627.9 96.1M541.5 167.3L637.6 98.8M541.5 167.3L628.3 108.3M541.5 167.3L623.7 113.9M541.5 167.3L613.4 105.2M541.5 167.3L615.5 125.4" fill="none" stroke="#222" stroke-width="0.7"/><path d="M662.2 73.3L700.1 43.8M645.1 90.4L685.2 60.6M615.6 98.7L637.6 78.3M628.7 95.4L663.4 66.8M638.4 98.2L674.2 72.6M629.2 107.7L668.9 80.7M624.5 113.4L659.8 90.5M614.2 104.6L642.9 79.7M616.4 125L646.8 107.7" fill="none" stroke="#333" stroke-width="1.5" stroke-dasharray="1.1 0.6"/><path d="M637.4 109.4L683.6 81.6" stroke="#9a6ce0" stroke-width="1.5" stroke-dasharray="1.2 0.55"/><path d="M541.5 167.3L636.5 110" stroke="#222" stroke-width="0.6"/><line x1="598.6" y1="272" x2="639.4" y2="272" stroke="#111" stroke-width="1.3"/><text x="619" y="288.5" font-size="13" fill="#111" text-anchor="middle" font-family="'Liberation Sans', sans-serif">0.05</text><path d="M539.5 483.5L623.9 502.9M543.1 485.2L624.2 513.4M545.8 488.7L622.3 534.8M541.4 487.1L608.8 539.3M540 493.1L574.3 575.6M533.7 490.4L511.8 578.6M532.9 488.2L495 568.7M533.1 486.9L490.9 557.7M529.2 487.8L460 543.9M532.5 483.5L454.5 506.3M526.4 480.8L448.1 465.1M531 481.4L454.4 461.1M533.4 478.2L494.4 398.3M533.2 472.9L513.7 392.2M549.5 478.7L627.4 456.6M546.8 482.9L623.3 485.3" fill="none" stroke="#c8ae3a" stroke-width="1.45" stroke-dasharray="1.2 0.55" stroke-opacity="0.9"/><path d="M542.3 483.6L631.1 497.4M543.9 485.3L626.6 512M546 487.8L622.2 525.6M539 485.2L606 535.6M542.5 489.1L606.9 550.1M541.5 489.1L598 552.2M541.5 490.4L593.6 559.8M542 492.8L586.1 564M538.2 487.8L577.9 566.2M538.1 489.9L563.8 566.5M537.4 490.4L556.8 575.9M536.8 493.4L547.3 584.4M535.9 488.9L539.5 579.6M535.3 487.4L530.4 576.9M534.2 491.6L522.3 571.3M534.5 487.6L514.8 575.6M531.5 494.3L503.1 574.8M529.7 491.7L485.3 560.3M528.6 491.5L473.5 561.3M533.2 484.9L466.4 548.2M528.4 487.6L461.4 534.3M528.8 486.5L451.7 531M530.2 484.9L450.1 518.1M527.8 485.2L450.2 511.1M524.2 484.4L433.8 498.7M526.8 481.8L447.3 474.1M526.8 481.3L448.5 469.7M527.7 480.8L446.4 461.8M528.4 480.3L452.5 456.7M522.5 477.2L453.4 448.5M527.5 478.6L450 440.4M527.9 478L455.7 434.9M526.3 476.2L457.3 428.9M528.2 476.7L465.5 426.4M532 479.2L470.7 420.8M530.6 477.2L473.4 414.3M529.7 475.1L481.2 413.5M531.1 475.8L485.6 407M532.1 476L493.7 403.4M531.2 469.2L505.9 392M534 475.6L514.9 393.5M534.3 473.7L522.5 390M534.7 469L528.8 383.1M535.8 472.7L537.5 379.7M536.3 474.9L545.1 384.9M537.2 473.3L552 387.4M544.5 480.6L620.2 463.3M550.1 480.5L632.1 468.5M547.8 482L623.9 478.5M546.4 483L627.9 486.2" fill="none" stroke="#8448da" stroke-width="1.45" stroke-dasharray="1.2 0.55" stroke-opacity="0.9"/><path d="M547 485.4L626.8 504.7M543.9 485.7L628.4 517.6M543.5 487.4L618.5 533.6M538.2 485L599.7 541.6M537.4 489L560.4 570.6M532.6 494.1L510.2 580.6M531.1 491.7L490.9 572.4M531.7 488.1L480.5 561.7M527 489L458.4 539.8M523.7 485.8L446.3 506.3M524.9 480.4L445.9 463.9M528.5 476.7L472.1 429.3M532.9 476.8L494.5 395.6M534.5 472.7L524.4 383M548.2 479.5L623.8 460.7" fill="none" stroke="#c8ae3a" stroke-width="1.45" stroke-dasharray="1.2 0.55" stroke-opacity="0.9"/><path d="M547 484.5L626.2 497.7M539.9 484.1L620.2 511.3M540.1 484.9L617.4 524.7M539.9 486L607.4 539.9M540.4 487.3L606 550.5M539.4 486.9L592.4 547.6M541.5 490.7L592.6 560.8M539.9 489.7L586 565.2M538.9 489.5L573.8 562.7M538 490.1L562.3 566.6M537.5 491.5L555.1 575M536.5 491.2L544.6 571.1M535.8 490.4L538.5 574.6M535.1 490L528.9 578.2M533.7 494.1L519.4 580.7M533.2 491.5L512.2 569.2M534.2 486.5L506.7 561.8M528.9 492.7L481.9 563.8M533.6 485L478.5 553M527 490.1L463.3 546.3M529.1 487L460.5 533.3M529.5 485.9L458.5 524.1M528.3 485.6L452.3 516.3M525.3 485.9L444.1 511.7M524.3 484.3L443.6 496.2M532.5 482.3L453.2 474.2M529.8 481.7L447.5 469M526.1 480.2L449.2 460.9M528.3 480.3L452.5 456M522 476.8L446.1 444.5M525.1 477.3L460.4 444.7M530 479.2L462.7 438.3M528.5 477.6L464.9 433.2M524.6 473.6L463.1 423.2M526.7 473.9L468.6 416.9M529.5 475.7L477.5 417.5M530.9 476.5L481.6 412.2M532.2 477.4L488.4 409.3M532.3 474.9L499.5 398M531.5 469.3L506.9 390.5M533.1 470.4L516 387.8M533.6 467.9L523.1 389.4M535 468.8L531.4 389.6M536 472.2L539.3 391.9M536.1 477.8L545.9 385.4M538 469.7L552.9 388.9M547.9 480L623.8 464.2M549.4 480.7L631.6 469.8M545.6 482.2L625.4 479.4" fill="none" stroke="#8448da" stroke-width="1.45" stroke-dasharray="1.2 0.55" stroke-opacity="0.9"/><path d="M548.2 485.8L633.2 507.4M545.4 486.4L621.6 516.2M546 489.2L615.2 533.3M543.1 493L590.5 559.4M536.2 485.9L551.1 570.5M532.2 491.4L501.4 569.7M533.4 487L493.3 564.8M530.2 488.4L473.4 548.7M531.1 485.9L463.5 534.7M531.3 483.7L448.2 504.6M531.1 481.6L450.6 464M528.1 470.7L486.4 404.6M529.8 470L496 396.5M535.6 470.8L535.4 381.3M547.7 480L628.6 462.4" fill="none" stroke="#c8ae3a" stroke-width="1.45" stroke-dasharray="1.2 0.55" stroke-opacity="0.9"/><path d="M543.3 484L630.3 499.5M545.5 486.8L626.6 521.1M538.5 484.1L619.9 526.8M540.8 486.8L606.8 541M538.5 485.5L600 546.6M540.6 488.5L594.6 551.9M541.9 491.6L591.3 562.6M537.2 485.5L577.7 557.1M537 486.1L570.2 571.9M538.5 492.1L563.6 573.5M537.8 493.8L554.5 577M536.7 495.5L544 579M535.8 493.1L537.2 580.7M534.7 492.5L526.6 583.6M534.7 487.5L519.1 575.5M532.4 493.7L509.9 571.8M531.7 492.4L497.6 576.8M531.2 489.1L480.7 563.3M533.5 485L473.9 554.3M532.3 485.4L471.5 537.7M528.2 487.5L458.6 533.2M532.6 484.2L458.5 523.2M526.2 486.3L444 518.4M529.9 484.2L448.3 506.8M526.5 483.8L445.1 494.7M529.1 481.9L444.6 472.5M530 481.7L449.2 468.3M532.3 481.7L454.2 459.7M530.4 480.9L450 454.4M524.5 477.8L456.4 448.1M525.2 477.2L458.8 442.5M529.3 478.7L460.4 435.9M525.2 475.2L460 428.3M525 473.5L468.6 425M527.5 474.5L470 416.9M528.3 474.2L472.5 409.8M528.4 473L476.8 404.4M529.4 472.5L482.5 396.1M533.8 478.2L504.2 404M532.3 471.9L507.5 390.1M534.4 476.8L516.8 388.7M534.1 469.9L524.3 389M535.1 469.5L532.2 387.3M536.1 472.9L540.5 384.3M536.6 474.2L547.7 381.4M547.9 478.4L620.2 454.1M548.4 480.2L629.1 464.9M545.7 481.4L621.2 472.7M547.8 482.3L629.3 480.2" fill="none" stroke="#8448da" stroke-width="1.45" stroke-dasharray="1.2 0.55" stroke-opacity="0.9"/><path d="M545.3 485.2L633.4 509M547 487.2L630.6 521.1M540.3 485.7L616.1 536.1M539.4 490.9L575.4 569.2M537.1 493.6L548.5 576.3M531.4 492.6L499.8 567M530 493.1L487.1 574.3M527.3 491.3L464.9 556.2M530.3 485.6L456.7 526.5M527.4 484.6L439.2 505.8M525.3 480.3L448.2 463M529.1 470.9L485.8 393.3M533 476.8L498.6 400.1M544.4 479.7L617.2 456.1M549.1 480.9L630.8 470.7" fill="none" stroke="#c8ae3a" stroke-width="1.45" stroke-dasharray="1.2 0.55" stroke-opacity="0.9"/><path d="M541.5 483.7L621.1 498.8M543.7 486.3L627.2 524.2M546.6 488.5L625.2 531.1M545 490.7L613.1 549.3M542.3 489.4L601.9 550M543.1 491.7L601.3 562.1M538.3 486.6L588.8 561.6M540.7 491.8L580.7 564.3M536.9 486L565.9 563.1M536.5 485.8L559.9 565.6M536.2 485.9L552.4 572.9M536.2 489.9L542.4 570.8M535.7 495.1L536.1 577.3M535.1 487.3L525.9 575.8M534.5 488.6L518.6 572.5M534.4 486.5L509.3 567.5M533.3 487.3L493.6 568.6M531.3 488.5L478.1 562.7M527.1 492.2L467.9 559.4M529.6 487.6L467.7 539.5M528 487.4L459.5 531.3M532.6 484.1L456.8 522.5M529.1 485.1L454.1 513.4M524.4 485.2L440.9 504.3M531.1 483.1L450.2 492.9M528.7 481.8L450 472.6M525.3 480.8L448.2 467.6M530.9 481.2L449.9 457.9M527.3 479.8L450.3 453.9M525.3 477.9L451.8 444.5M527.1 478L459.1 441.3M526.7 476.9L461.8 435.4M524.2 474.2L458.5 425.8M528.7 476.6L469.9 425.2M532.3 479.2L473.5 419.3M531.6 477.8L480.2 417.3M528.6 472.9L482.2 409.1M529.2 471.8L483.7 395.8M532 473.1L504.6 400.1M534.1 477.4L510.3 395.5M534.1 474.5L518.6 391M534.1 467.9L526.4 389.8M535.4 476.3L533.3 387.4M536.3 470.6L541.8 380M536.5 476.3L547.6 396.6M544.4 480.2L618.8 460.1M545.3 480.9L624.2 466.8M548.6 481.2L627.9 472.7M547.2 482.5L630.6 481.5" fill="none" stroke="#8448da" stroke-width="1.45" stroke-dasharray="1.2 0.55" stroke-opacity="0.9"/><path d="M544.3 485.1L632 510M546.1 488.6L624.9 533.5M541.8 486.9L614.9 537.3M536.9 485.5L571.1 562.3M535.3 493.4L532.6 578.2M533.4 487.6L497.7 570.3M529.8 493L490.5 563.1M528.3 489.8L468.4 548.8M524.9 487.9L447.8 526.1M524.3 485.1L441 503.2M525.9 480.3L444.7 460.7M533.7 478.9L492.4 399.2M530.6 470.4L496.2 387.2M546.7 479.2L618.8 456.8M544.9 482L628.5 476.6" fill="none" stroke="#c8ae3a" stroke-width="1.45" stroke-dasharray="1.2 0.55" stroke-opacity="0.9"/><path d="M543.7 484.3L624.9 501.1M540.8 485L622.1 522.7M539.6 485.2L607.6 529.5M544.9 490.8L607.9 546.5M539 486.1L598.4 548M542.6 491.2L593.7 553.8M538.8 487.6L588.2 562.9M540 490.7L579.2 563.2M537.7 488.4L567.9 572.6M537 488L557.9 569.8M536.5 487.9L549.9 571.5M536.2 492.4L541.4 572.5M535.4 490.7L533.7 577.2M534.4 492.4L524.1 579.8M533.6 492.3L515.4 582.2M534.3 486.5L507.8 568.1M531.3 490.4L492.5 560.8M527.9 493.1L479.1 559.8M527.2 492L470.9 554.9M529.2 487.7L463.2 540.3M526.4 488.3L450.8 535.4M526.6 486.9L453.3 522.3M531.1 484.2L448.8 514M528.2 483.9L444.9 499.1M527 483.5L443 492.6M532.1 482.2L456.7 472.6M530.2 481.6L450 467.4M526.4 479.9L445.7 456M527.3 479.7L447.4 452M530.6 480.3L457.2 445.9M524.4 476.4L456.2 438.3M532 480.3L466.8 437.7M531.3 479.3L461.8 426M531.5 479L469.7 423.9M527.5 474L471 414.1M531.4 477.5L478.2 413.7M531.8 477.3L486.9 413.7M530.3 473.5L485.1 396.5M534.1 478.2L504.4 393.4M532 469.5L510 390.6M534.2 474.7L520 393.2M535.1 477.4L527.1 388.7M535.5 473L534.1 380.6M536.1 476L542.1 395.2M537.2 472.1L549.6 388.5M543.8 480.5L623.2 460M549.5 480.3L622.5 468.1M545 481.8L627.7 474.7M549.4 482.7L623.7 483.4" fill="none" stroke="#8448da" stroke-width="1.45" stroke-dasharray="1.2 0.55" stroke-opacity="0.9"/><path d="M547.7 486.2L628.8 510.1M538.8 484.5L610.2 526M538.3 484.5L606.9 533M538.2 488.5L573.4 569.5M534.7 493.8L527.7 579.6M533.4 487.5L497.7 564.9M531.6 489.6L491.2 559.4M527.8 489.8L464.2 548.8M525.3 487.4L443.2 525.7M527.4 484.3L445.4 501M532 481.7L451.9 461.3M531.9 475.2L491.3 394.8M533.6 477.3L501.1 392.6M547.7 479.1L619.3 458.1M544.8 482.1L620.6 477.8" fill="none" stroke="#c8ae3a" stroke-width="1.45" stroke-dasharray="1.2 0.55" stroke-opacity="0.9"/><path d="M547.3 486.2L633.4 512.9M543.4 486.4L618.2 522.1M538.6 484.8L609.4 536.7M541.7 488.1L607.2 546.9M538.4 485.6L593.9 546.2M543.5 492.9L593.3 557.8M539.4 488.6L587.9 564.1M540.7 492.5L582.9 573.2M539.3 493.4L568.1 577.1M536.7 487.1L555.1 565.2M536.6 488.9L548.9 569.3M536 490.4L540.5 572.6M535.3 489.5L531.4 580.6M534.4 491.5L521.9 580.3M533 495.2L516.2 574.8M533.4 489.3L505.3 572.6M533.8 485.5L488.5 558.1M533.6 485.2L482.7 552.7M530.3 487.9L471.8 546.9M532.7 484.9L468.2 535.1M529.3 486.4L460.3 528.6M526.6 486.7L448.9 521.7M526.6 485.7L449.5 512.2M525.3 484.4L437.5 499.2M528 483.3L441.4 491.6M529.2 481.7L452 471M531.3 481.8L447.9 466.3M530.1 480.9L453 457.4M526.3 479.3L452.9 453.4M531.9 480.8L465.6 449.1M525.8 477L458.7 438.5M527.1 476.9L463.3 434.1M529.3 477.6L460.3 423.4M524.9 472.6L470.5 421.7M529.4 475.9L473.1 415M531.8 477.9L484.2 418.6M528.9 472.6L486.1 409.1M532.9 477.7L495.2 408.5M533.3 475.8L504.3 390M533.6 475.3L513.2 399.4M534 472.7L520.1 389.3M534.6 470.5L527.6 380.9M535.7 470.9L536.2 392.5M536.3 474.3L543.4 388M537 473.7L550.9 385.6M547.7 479.7L627.9 460.4M544.1 481.3L622.8 469M547.1 481.7L625.2 475.9M547.3 482.8L624.4 484.5" fill="none" stroke="#8448da" stroke-width="1.45" stroke-dasharray="1.2 0.55" stroke-opacity="0.9"/><path d="M535.6 482.6L541.3 483.5M535.6 482.6L546 484.3M535.6 482.6L542.3 483.8M535.6 482.6L540.5 483.5M535.6 482.6L542.7 484.1M535.6 482.6L538.5 483.3M535.6 482.6L546 485.1M535.6 482.6L547.2 485.5M535.6 482.6L544.3 484.9M535.6 482.6L543.3 484.8M535.6 482.6L546.8 485.9M535.6 482.6L546.4 485.9M535.6 482.6L542.9 485M535.6 482.6L539 483.7M535.6 482.6L542.2 484.9M535.6 482.6L543 485.4M535.6 482.6L544.5 486.1M535.6 482.6L546.1 486.9M535.6 482.6L544.6 486.4M535.6 482.6L542.7 485.8M535.6 482.6L539.8 484.6M535.6 482.6L542.5 485.9M535.6 482.6L545.1 487.3M535.6 482.6L539.2 484.5M535.6 482.6L537.6 483.7M535.6 482.6L545.7 488.1M535.6 482.6L545.3 488.1M535.6 482.6L537.9 484M535.6 482.6L544.9 488.2M535.6 482.6L542.6 486.9M535.6 482.6L545.2 488.7M535.6 482.6L538.8 484.7M535.6 482.6L539.5 485.2M535.6 482.6L541 486.3M535.6 482.6L537.5 483.9M535.6 482.6L537.8 484.2M535.6 482.6L538.2 484.6M535.6 482.6L540.6 486.5M535.6 482.6L539.1 485.4M535.6 482.6L540 486.2M535.6 482.6L544.3 490.1M535.6 482.6L544.2 490.2M535.6 482.6L541 487.4M535.6 482.6L537.5 484.4M535.6 482.6L541.7 488.4M535.6 482.6L539.7 486.6M535.6 482.6L537.8 484.8M535.6 482.6L541.6 488.7M535.6 482.6L538.3 485.4M535.6 482.6L537.7 484.9M535.6 482.6L540.8 488.4M535.6 482.6L538.7 486.1M535.6 482.6L540 487.8M535.6 482.6L542.4 490.9M535.6 482.6L542 490.4M535.6 482.6L542.9 492.1M535.6 482.6L540.9 489.6M535.6 482.6L540.9 489.9M535.6 482.6L542.5 492.2M535.6 482.6L541.3 490.8M535.6 482.6L537.7 485.7M535.6 482.6L538.3 486.7M535.6 482.6L538.9 487.7M535.6 482.6L541.4 492M535.6 482.6L539.4 488.8M535.6 482.6L536.7 484.6M535.6 482.6L540.2 491M535.6 482.6L539.5 489.9M535.6 482.6L540.3 491.6M535.6 482.6L537.8 486.9M535.6 482.6L538.5 488.6M535.6 482.6L539 490M535.6 482.6L536.5 484.6M535.6 482.6L537.8 487.6M535.6 482.6L539.6 492.2M535.6 482.6L536.6 485.2M535.6 482.6L536.5 485.1M535.6 482.6L537.3 487.5M535.6 482.6L539 492.5M535.6 482.6L537.7 489M535.6 482.6L537.7 489.2M535.6 482.6L538.2 491.1M535.6 482.6L536.3 484.9M535.6 482.6L537.1 488M535.6 482.6L536.7 487M535.6 482.6L536.4 486.1M535.6 482.6L537.2 489.5M535.6 482.6L537.3 490.5M535.6 482.6L537.6 492.8M535.6 482.6L536 484.9M535.6 482.6L536 485M535.6 482.6L536.3 487M535.6 482.6L536.4 487.9M535.6 482.6L537 492.6M535.6 482.6L536.7 492.4M535.6 482.6L536.4 490.2M535.6 482.6L536.6 494.5M535.6 482.6L536.1 488.9M535.6 482.6L536.2 491.4M535.6 482.6L536 489.4M535.6 482.6L535.8 487.9M535.6 482.6L535.8 489.4M535.6 482.6L535.8 492.1M535.6 482.6L535.7 494.1M535.6 482.6L535.5 489.7M535.6 482.6L535.3 492.4M535.6 482.6L535.3 488.5M535.6 482.6L535.4 486.4M535.6 482.6L535.1 489M535.6 482.6L534.8 492.8M535.6 482.6L534.8 491.5M535.6 482.6L535.2 486.3M535.6 482.6L534.6 491.5M535.6 482.6L534.5 490.5M535.6 482.6L534.4 490.6M535.6 482.6L533.9 493.1M535.6 482.6L534.9 486.5M535.6 482.6L534.6 487.6M535.6 482.6L533.8 491.3M535.6 482.6L533.2 494.2M535.6 482.6L534.7 486.6M535.6 482.6L533.9 489.4M535.6 482.6L532.9 493.1M535.6 482.6L533.5 490.5M535.6 482.6L532.7 492.8M535.6 482.6L534.7 485.6M535.6 482.6L534.6 485.5M535.6 482.6L533.7 488.3M535.6 482.6L531.8 493.4M535.6 482.6L534.5 485.6M535.6 482.6L532.5 490.4M535.6 482.6L532 491.4M535.6 482.6L531.8 491.7M535.6 482.6L533.8 486.7M535.6 482.6L533.8 486.6M535.6 482.6L533.4 487.3M535.6 482.6L533.8 486.4M535.6 482.6L531.5 490.8M535.6 482.6L533.8 486.1M535.6 482.6L530.5 492.3M535.6 482.6L531.8 489.5M535.6 482.6L530.3 492.1M535.6 482.6L532.1 488.7M535.6 482.6L533.6 486M535.6 482.6L534.3 484.6M535.6 482.6L530.3 490.8M535.6 482.6L529.5 491.8M535.6 482.6L531.7 488.3M535.6 482.6L532.3 487.3M535.6 482.6L531.9 487.7M535.6 482.6L528.5 492.3M535.6 482.6L534.2 484.4M535.6 482.6L529.2 490.7M535.6 482.6L534.2 484.3M535.6 482.6L534.2 484.3M535.6 482.6L527.8 491.5M535.6 482.6L527.8 491.3M535.6 482.6L530.9 487.6M535.6 482.6L528 490.6M535.6 482.6L531 487.2M535.6 482.6L529 489.1M535.6 482.6L533.9 484.2M535.6 482.6L528.5 489.1M535.6 482.6L527.8 489.5M535.6 482.6L533.1 484.8M535.6 482.6L530.3 487M535.6 482.6L530 487.1M535.6 482.6L530 487.1M535.6 482.6L533.4 484.3M535.6 482.6L527.8 488.4M535.6 482.6L531.9 485.3M535.6 482.6L529.2 487M535.6 482.6L529.9 486.4M535.6 482.6L529 486.9M535.6 482.6L528.9 486.9M535.6 482.6L527.2 487.8M535.6 482.6L530.2 485.9M535.6 482.6L529.6 486M535.6 482.6L531.1 485.1M535.6 482.6L530.3 485.4M535.6 482.6L533.5 483.7M535.6 482.6L533.5 483.7M535.6 482.6L525.7 487.5M535.6 482.6L527.5 486.5M535.6 482.6L526.2 487M535.6 482.6L527.5 486.3M535.6 482.6L531.1 484.5M535.6 482.6L529.2 485.2M535.6 482.6L527.2 485.9M535.6 482.6L530 484.7M535.6 482.6L532 483.9M535.6 482.6L527.6 485.4M535.6 482.6L528.7 484.9M535.6 482.6L526.3 485.6M535.6 482.6L533.4 483.2M535.6 482.6L530.8 483.9M535.6 482.6L524.6 485.5M535.6 482.6L532.3 483.4M535.6 482.6L528.3 484.3M535.6 482.6L525.4 484.9M535.6 482.6L525.3 484.8M535.6 482.6L528.4 484.1M535.6 482.6L529.1 483.8M535.6 482.6L526.2 484.2M535.6 482.6L525.1 484.3M535.6 482.6L525.3 484.1M535.6 482.6L527.5 483.7M535.6 482.6L532 483M535.6 482.6L528 483.4M535.6 482.6L529 483.2M535.6 482.6L527.8 481.9M535.6 482.6L533.5 482.4M535.6 482.6L530.1 482M535.6 482.6L529.7 481.9M535.6 482.6L533.1 482.3M535.6 482.6L530.2 481.8M535.6 482.6L527.8 481.4M535.6 482.6L530.7 481.9M535.6 482.6L530.9 481.8M535.6 482.6L526.3 481M535.6 482.6L531.2 481.8M535.6 482.6L532.3 482M535.6 482.6L527.4 481M535.6 482.6L525.9 480.6M535.6 482.6L532.1 481.8M535.6 482.6L526.2 480.5M535.6 482.6L528.7 481M535.6 482.6L526.8 480.5M535.6 482.6L527.1 480.5M535.6 482.6L532.9 481.9M535.6 482.6L531.9 481.6M535.6 482.6L533.3 481.9M535.6 482.6L531.8 481.5M535.6 482.6L527.4 480.2M535.6 482.6L531.1 481.2M535.6 482.6L529.3 480.6M535.6 482.6L529.3 480.6M535.6 482.6L531.3 481.2M535.6 482.6L528.2 480.1M535.6 482.6L528.3 480.1M535.6 482.6L527.3 479.7M535.6 482.6L523.5 477.6M535.6 482.6L522.9 477.2M535.6 482.6L525.4 478.2M535.6 482.6L526.2 478.3M535.6 482.6L531.5 480.7M535.6 482.6L532.8 481.3M535.6 482.6L528.4 479.1M535.6 482.6L526 477.8M535.6 482.6L526.1 477.7M535.6 482.6L527.9 478.5M535.6 482.6L525.3 476.8M535.6 482.6L526.6 477.5M535.6 482.6L528.8 478.5M535.6 482.6L530.9 479.7M535.6 482.6L530.1 479.2M535.6 482.6L527.5 477.4M535.6 482.6L532.8 480.8M535.6 482.6L527.9 477.4M535.6 482.6L527.1 476.8M535.6 482.6L529.3 478.2M535.6 482.6L526.1 475.8M535.6 482.6L525 474.8M535.6 482.6L532.1 479.9M535.6 482.6L530.1 478.3M535.6 482.6L529 477.3M535.6 482.6L525.4 474.3M535.6 482.6L529.3 477.3M535.6 482.6L525.8 474.2M535.6 482.6L529.4 477.2M535.6 482.6L532.3 479.6M535.6 482.6L525.7 473.3M535.6 482.6L532.8 479.9M535.6 482.6L527.4 474.6M535.6 482.6L528.2 475.2M535.6 482.6L533 479.9M535.6 482.6L528.2 474.7M535.6 482.6L530.1 476.6M535.6 482.6L531.3 477.9M535.6 482.6L530.1 476.5M535.6 482.6L528.9 474.9M535.6 482.6L532.2 478.6M535.6 482.6L532 478.3M535.6 482.6L532.5 478.7M535.6 482.6L530.3 475.9M535.6 482.6L531.5 477.3M535.6 482.6L529 473.8M535.6 482.6L529.1 473.7M535.6 482.6L532.4 478.1M535.6 482.6L529.5 473.5M535.6 482.6L531.6 476.6M535.6 482.6L532.8 478.2M535.6 482.6L528.6 471.5M535.6 482.6L529.9 473.4M535.6 482.6L529.7 472.7M535.6 482.6L530.8 474.4M535.6 482.6L529.6 471.8M535.6 482.6L533.4 478.6M535.6 482.6L532.6 476.9M535.6 482.6L534.1 479.8M535.6 482.6L532.3 476.1M535.6 482.6L533.9 479.1M535.6 482.6L533.3 477.7M535.6 482.6L530.2 470.9M535.6 482.6L533.4 477.7M535.6 482.6L532.7 475.8M535.6 482.6L530.9 471.3M535.6 482.6L534.2 479.1M535.6 482.6L533.9 478.2M535.6 482.6L532.4 474M535.6 482.6L534.4 479.2M535.6 482.6L533.6 476.8M535.6 482.6L531.5 470.1M535.6 482.6L531.8 470.3M535.6 482.6L532.6 472.8M535.6 482.6L534.4 478.4M535.6 482.6L532.2 470.5M535.6 482.6L533.9 476.2M535.6 482.6L533.5 473.9M535.6 482.6L534.2 476.6M535.6 482.6L533.3 471.4M535.6 482.6L534.6 477.8M535.6 482.6L534.3 475.5M535.6 482.6L534.4 475.7M535.6 482.6L534.1 473.7M535.6 482.6L534.5 474.7M535.6 482.6L533.8 468.9M535.6 482.6L534.2 470.9M535.6 482.6L534.6 473.7M535.6 482.6L534.2 468.9M535.6 482.6L535.2 478.4M535.6 482.6L534.7 471.4M535.6 482.6L534.7 470M535.6 482.6L535 469.8M535.6 482.6L535.2 470.5M535.6 482.6L535.5 477.3M535.6 482.6L535.5 474M535.6 482.6L535.6 471.8M535.6 482.6L535.7 471.9M535.6 482.6L535.8 473.7M535.6 482.6L536 473.2M535.6 482.6L536 473.9M535.6 482.6L536.3 471.6M535.6 482.6L536 477M535.6 482.6L536.2 475.3M535.6 482.6L536.2 475.9M535.6 482.6L536 478.8M535.6 482.6L536.5 475.2M535.6 482.6L536.3 477.3M535.6 482.6L537 473.1M535.6 482.6L536.9 474.7M535.6 482.6L537 474.3M535.6 482.6L537.8 470.7M535.6 482.6L547 478.8M535.6 482.6L543.5 480M535.6 482.6L545.8 479.5M535.6 482.6L546.7 479.3M535.6 482.6L548.5 478.9M535.6 482.6L543.5 480.5M535.6 482.6L542.8 480.7M535.6 482.6L547.2 479.7M535.6 482.6L546.8 479.9M535.6 482.6L543.5 480.8M535.6 482.6L546.7 480.2M535.6 482.6L546.9 480.2M535.6 482.6L547.4 480.4M535.6 482.6L544.3 481M535.6 482.6L548.5 480.5M535.6 482.6L543.1 481.4M535.6 482.6L549.2 480.6M535.6 482.6L548.5 480.9M535.6 482.6L548.1 481M535.6 482.6L544.7 481.5M535.6 482.6L547.6 481.3M535.6 482.6L544 481.9M535.6 482.6L546.1 481.8M535.6 482.6L543.9 482.1M535.6 482.6L543.8 482.1M535.6 482.6L546.8 482.1M535.6 482.6L544.6 482.3M535.6 482.6L546.8 482.3M535.6 482.6L546.2 482.5M535.6 482.6L548.4 482.7M535.6 482.6L546.3 482.8M535.6 482.6L545.8 482.9M535.6 482.6L545.4 483" fill="none" stroke="#333" stroke-width="0.3" stroke-opacity="0.6"/><path d="M536.3 485.5L549.1 541.1" stroke="#fff" stroke-width="1.8" stroke-opacity="0.85"/><path d="M535.3 485.6L530.9 527.4" stroke="#fff" stroke-width="1.5" stroke-opacity="0.85"/><path d="M533.8 485L504.8 522" stroke="#fff" stroke-width="1.5" stroke-opacity="0.85"/><path d="M533 484.1L501 502.6" stroke="#fff" stroke-width="1.3" stroke-opacity="0.85"/><path d="M533.4 480.6L502.2 452.5" stroke="#fff" stroke-width="1.5" stroke-opacity="0.85"/><path d="M534.5 479.8L516.9 436.2" stroke="#fff" stroke-width="1.5" stroke-opacity="0.85"/><path d="M537.1 485.2L555.6 517.2" stroke="#fff" stroke-width="1.3" stroke-opacity="0.85"/><path d="M538.1 484.3L564.3 502.7" stroke="#fff" stroke-width="1.3" stroke-opacity="0.85"/><path d="M532.6 484.1L463.6 484.1" stroke="#fff" stroke-width="5" stroke-opacity="0.9"/><path d="M538.6 484.1L575.6 485.1" stroke="#fff" stroke-width="3" stroke-opacity="0.9"/><path d="M599.2 418.7L620.7 361.5M602.5 414.2L633.6 360.6M604.7 413.6L644.5 363.4" fill="none" stroke="#c8ae3a" stroke-width="1.4" stroke-dasharray="1.2 0.6" stroke-opacity="0.88"/><path d="M560.8 431.9L580.8 369.1M562.4 428.9L590 363.3M600 417.1L622.6 362.1M603.6 414.5L639.5 366.3M600.8 419.4L647 377.5M605.8 416.5L662.3 376.5M603.5 419L670 382.3M607.2 418L669.2 390.9" fill="none" stroke="#8448da" stroke-width="1.4" stroke-dasharray="1.2 0.6" stroke-opacity="0.88"/><path d="M599.3 418.7L619.5 367.7M601.7 415.9L633 363.3M602.2 416.8L639.3 371.2" fill="none" stroke="#c8ae3a" stroke-width="1.4" stroke-dasharray="1.2 0.6" stroke-opacity="0.88"/><path d="M561.2 430.8L583 366M561.1 432.2L588.4 370.2M601.9 413L625.7 356.9M604.3 414.6L646.6 364.3M602.6 418.1L654.8 373.6M604.7 417.5L657 382.4M604 418.8L670.1 383.2M605.4 418.9L672.5 390.7" fill="none" stroke="#8448da" stroke-width="1.4" stroke-dasharray="1.2 0.6" stroke-opacity="0.88"/><path d="M600 417.4L622.2 367.5M602.3 414.9L636.2 359.7M600.5 419.1L641.4 372" fill="none" stroke="#c8ae3a" stroke-width="1.4" stroke-dasharray="1.2 0.6" stroke-opacity="0.88"/><path d="M562.4 427.7L584.4 364.8M562.5 429.2L590.9 366.9M601.4 415.2L628.1 362.1M603.8 415.5L644.9 369.4M604.3 416.7L659.5 370.6M606.7 416.3L668.4 376M601.9 420L668.9 385.8" fill="none" stroke="#8448da" stroke-width="1.4" stroke-dasharray="1.2 0.6" stroke-opacity="0.88"/><path d="M600 417.8L625.6 362.7M600.2 418.5L634 365.4M601.6 418.1L647.2 368.4" fill="none" stroke="#c8ae3a" stroke-width="1.4" stroke-dasharray="1.2 0.6" stroke-opacity="0.88"/><path d="M562.1 428.7L584.9 366.4M561.9 430.7L590.7 369.9M603.2 412.7L632.9 359.5M602.8 417.1L648.5 370.7M604.1 417.3L657.3 376M603.3 418.7L658.5 383.9M607.1 417.5L674.3 383.8" fill="none" stroke="#8448da" stroke-width="1.4" stroke-dasharray="1.2 0.6" stroke-opacity="0.88"/><path d="M600.3 417.5L628.2 363.3M602.8 414.8L637.8 363.2M603.3 416.4L645.5 372.1" fill="none" stroke="#c8ae3a" stroke-width="1.4" stroke-dasharray="1.2 0.6" stroke-opacity="0.88"/><path d="M560.9 432.2L584 372.1M601.4 411.9L619.5 358.9M599.7 419.5L631.6 371.3M605.5 414.7L654.7 367M604.9 416.7L663.2 372.4M601.1 420.1L656.5 386.1M603.1 419.6L663.5 391" fill="none" stroke="#8448da" stroke-width="1.4" stroke-dasharray="1.2 0.6" stroke-opacity="0.88"/><path d="M602 414.6L632.6 358.1M603.5 414.9L644.1 362.1M604.2 417L654.9 376.3" fill="none" stroke="#c8ae3a" stroke-width="1.4" stroke-dasharray="1.2 0.6" stroke-opacity="0.88"/><path d="M561.4 431.1L587.2 367.7M601.2 412.9L618.9 363.2M601.8 416.7L638.4 365.9M600.2 419.9L652.2 371.6M602 419L661.2 375.3M602.8 419.2L662.4 383.9M603.2 419.6L664.9 391.2" fill="none" stroke="#8448da" stroke-width="1.4" stroke-dasharray="1.2 0.6" stroke-opacity="0.88"/><path d="M559.7 435.4L560.5 432.8M559.7 435.4L560.9 431.8M559.7 435.4L562 428.6M559.7 435.4L561.8 429.7M559.7 435.4L560.5 433.1M559.7 435.4L561 432M559.7 435.4L562 429.8M559.7 435.4L560.7 433.1M559.7 435.4L562 430.1M559.7 435.4L561.4 431.6M598 422L601.1 412.9M598 422L600.9 413.8M598 422L598.9 419.7M598 422L598.9 419.6M598 422L599.6 418.1M598 422L601.5 413.9M598 422L599.6 418.3M598 422L599.5 418.7M598 422L601 416.1M598 422L599.9 418.4M598 422L601.5 415.5M598 422L602.7 413.5M598 422L602 415.1M598 422L601.1 416.7M598 422L601.8 415.8M598 422L599.7 419.3M598 422L599.1 420.3M598 422L602.3 415.7M598 422L601.2 417.5M598 422L603 415.3M598 422L602.8 415.7M598 422L604 414.4M598 422L601.6 417.6M598 422L603.6 415.3M598 422L599.9 419.8M598 422L603.1 416.3M598 422L600.9 418.8M598 422L602.6 417.1M598 422L602.1 417.8M598 422L604.8 415.4M598 422L599.5 420.6M598 422L600.1 420.1M598 422L601.8 418.8M598 422L603.5 417.4M598 422L603.5 417.6M598 422L603.3 417.9M598 422L604.1 417.3M598 422L601.2 419.6M598 422L605 417.1M598 422L603.8 418.1M598 422L605.9 416.9M598 422L602.4 419.2M598 422L600.2 420.6M598 422L601.9 419.7M598 422L602.6 419.4M598 422L603.1 419.2M598 422L601 420.5M598 422L606.2 417.9M598 422L602.2 420M598 422L602.3 420M598 422L606.2 418.4M598 422L604.5 419.3" fill="none" stroke="#333" stroke-width="0.35" stroke-opacity="0.8"/><path d="M584.6 415.7L611.3 367.6" stroke="#8448da" stroke-width="1.3" stroke-dasharray="1.2 0.6" stroke-opacity="0.8"/><path d="M535.6 482.6L598 422M535.6 482.6L559.7 435.4M535.6 482.6L583.2 418.3" fill="none" stroke="#222" stroke-width="0.8"/><path d="M548 489L612 493M545 477L598 475" stroke="#333" stroke-width="1" stroke-dasharray="1 0.8"/><line x1="627" y1="569" x2="634.4" y2="569" stroke="#111" stroke-width="1.3"/><text x="629.5" y="588" font-size="13" fill="#111" text-anchor="middle" font-family="'Liberation Sans', sans-serif">0.05</text><g font-family="'Liberation Sans', sans-serif"><rect x="872" y="38" width="791" height="17" fill="#f9f9fa" stroke="#e8e8ea" stroke-width="0.8"/><rect x="1010.3" y="39.5" width="2" height="14" fill="#8eaadb"/><rect x="1051.9" y="39.5" width="2" height="14" fill="#8eaadb"/><rect x="1073.9" y="39.5" width="2" height="14" fill="#8eaadb"/><rect x="1123.3" y="39.5" width="2" height="14" fill="#8eaadb"/><rect x="1131" y="39.5" width="2" height="14" fill="#8eaadb"/><rect x="1137" y="39.5" width="2" height="14" fill="#8eaadb"/><rect x="1183.8" y="39.5" width="2" height="14" fill="#8eaadb"/><rect x="1194.2" y="39.5" width="2" height="14" fill="#8eaadb"/><rect x="1203" y="39.5" width="2" height="14" fill="#8eaadb"/><rect x="1222.7" y="39.5" width="2" height="14" fill="#8eaadb"/><rect x="1249.7" y="39.5" width="2" height="14" fill="#8eaadb"/><rect x="1254.9" y="39.5" width="2" height="14" fill="#8eaadb"/><rect x="1263.5" y="39.5" width="2" height="14" fill="#8eaadb"/><rect x="1267.5" y="39.5" width="2" height="14" fill="#8eaadb"/><rect x="1269.5" y="39.5" width="2" height="14" fill="#8eaadb"/><rect x="1271.5" y="39.5" width="2" height="14" fill="#8eaadb"/><rect x="1273.5" y="39.5" width="2" height="14" fill="#8eaadb"/><rect x="1275.5" y="39.5" width="2" height="14" fill="#8eaadb"/><rect x="1277.5" y="39.5" width="2" height="14" fill="#8eaadb"/><rect x="1285" y="39.5" width="2" height="14" fill="#8eaadb"/><rect x="1290" y="39.5" width="2" height="14" fill="#8eaadb"/><rect x="1295" y="39.5" width="2" height="14" fill="#8eaadb"/><rect x="1301" y="39.5" width="2" height="14" fill="#8eaadb"/><rect x="1318.4" y="39.5" width="2" height="14" fill="#8eaadb"/><rect x="1501" y="39.5" width="2" height="14" fill="#8eaadb"/><rect x="1592.3" y="39.5" width="2" height="14" fill="#8eaadb"/><path d="M868.5 194.39L871.9 191.5H1663" fill="none" stroke="#d9d9d9" stroke-width="1.3"/><path d="M868.5 173.19L871.9 170.3H1663" fill="none" stroke="#d9d9d9" stroke-width="1.3"/><path d="M868.5 151.99L871.9 149.1H1663" fill="none" stroke="#d9d9d9" stroke-width="1.3"/><path d="M868.5 130.79L871.9 127.9H1663" fill="none" stroke="#d9d9d9" stroke-width="1.3"/><path d="M868.5 109.59L871.9 106.7H1663" fill="none" stroke="#d9d9d9" stroke-width="1.3"/><path d="M868.5 88.39L871.9 85.5H1663" fill="none" stroke="#d9d9d9" stroke-width="1.3"/><path d="M868.5 67.19L871.9 64.3H1663" fill="none" stroke="#d9d9d9" stroke-width="1.3"/><text x="864" y="198.8" text-anchor="end" font-size="12" fill="#7a7a7a" textLength="5.2" lengthAdjust="spacingAndGlyphs">0</text><text x="864" y="177.6" text-anchor="end" font-size="12" fill="#7a7a7a" textLength="10.4" lengthAdjust="spacingAndGlyphs">10</text><text x="864" y="156.4" text-anchor="end" font-size="12" fill="#7a7a7a" textLength="10.4" lengthAdjust="spacingAndGlyphs">20</text><text x="864" y="135.2" text-anchor="end" font-size="12" fill="#7a7a7a" textLength="10.4" lengthAdjust="spacingAndGlyphs">30</text><text x="864" y="114" text-anchor="end" font-size="12" fill="#7a7a7a" textLength="10.4" lengthAdjust="spacingAndGlyphs">40</text><text x="864" y="92.8" text-anchor="end" font-size="12" fill="#7a7a7a" textLength="10.4" lengthAdjust="spacingAndGlyphs">50</text><text x="864" y="71.6" text-anchor="end" font-size="12" fill="#7a7a7a" textLength="10.4" lengthAdjust="spacingAndGlyphs">60</text><path d="M873.7 190.44h2.3v1.06h-2.3zM876.45 189.38h2.3v2.12h-2.3zM879.2 190.44h2.3v1.06h-2.3zM881.95 189.38h2.3v2.12h-2.3zM884.7 190.44h2.3v1.06h-2.3zM887.45 187.26h2.3v4.24h-2.3zM890.2 187.26h2.3v4.24h-2.3zM892.95 190.44h2.3v1.06h-2.3zM895.7 190.44h2.3v1.06h-2.3zM898.45 183.02h2.3v8.48h-2.3zM901.2 136.38h2.3v55.12h-2.3zM903.95 187.26h2.3v4.24h-2.3zM906.7 189.38h2.3v2.12h-2.3zM909.45 144.86h2.3v46.64h-2.3zM912.2 187.26h2.3v4.24h-2.3zM914.95 181.96h2.3v9.54h-2.3zM917.7 189.38h2.3v2.12h-2.3zM920.45 190.44h2.3v1.06h-2.3zM923.2 172.42h2.3v19.08h-2.3zM925.95 180.9h2.3v10.6h-2.3zM928.7 180.9h2.3v10.6h-2.3zM931.45 189.38h2.3v2.12h-2.3zM934.2 166.06h2.3v25.44h-2.3zM936.95 179.84h2.3v11.66h-2.3zM939.7 189.38h2.3v2.12h-2.3zM942.45 190.44h2.3v1.06h-2.3zM945.2 190.44h2.3v1.06h-2.3zM947.95 185.99h2.3v5.51h-2.3zM950.7 189.38h2.3v2.12h-2.3zM953.45 138.5h2.3v53h-2.3zM956.2 185.14h2.3v6.36h-2.3zM958.95 189.38h2.3v2.12h-2.3zM961.7 186.2h2.3v5.3h-2.3zM964.45 189.38h2.3v2.12h-2.3zM967.2 190.44h2.3v1.06h-2.3zM969.95 189.38h2.3v2.12h-2.3zM972.7 190.44h2.3v1.06h-2.3zM975.45 189.38h2.3v2.12h-2.3zM978.2 162.46h2.3v29.04h-2.3zM980.95 189.38h2.3v2.12h-2.3zM983.7 189.38h2.3v2.12h-2.3zM986.45 190.44h2.3v1.06h-2.3zM989.2 190.44h2.3v1.06h-2.3zM991.95 189.38h2.3v2.12h-2.3zM994.7 180.26h2.3v11.24h-2.3zM997.45 190.44h2.3v1.06h-2.3zM1000.2 190.44h2.3v1.06h-2.3zM1002.95 189.38h2.3v2.12h-2.3zM1005.7 189.38h2.3v2.12h-2.3zM1008.45 160.12h2.3v31.38h-2.3zM1011.2 190.44h2.3v1.06h-2.3zM1013.95 189.38h2.3v2.12h-2.3zM1016.7 190.44h2.3v1.06h-2.3zM1019.45 190.44h2.3v1.06h-2.3zM1022.2 189.38h2.3v2.12h-2.3zM1024.95 168.6h2.3v22.9h-2.3zM1027.7 189.38h2.3v2.12h-2.3zM1030.45 190.44h2.3v1.06h-2.3zM1033.2 187.26h2.3v4.24h-2.3zM1035.95 189.38h2.3v2.12h-2.3zM1038.7 189.38h2.3v2.12h-2.3zM1041.45 173.06h2.3v18.44h-2.3zM1044.2 190.44h2.3v1.06h-2.3zM1046.95 190.44h2.3v1.06h-2.3zM1049.7 190.44h2.3v1.06h-2.3zM1052.45 190.44h2.3v1.06h-2.3zM1055.2 190.44h2.3v1.06h-2.3zM1057.95 190.44h2.3v1.06h-2.3zM1060.7 190.44h2.3v1.06h-2.3zM1063.45 190.44h2.3v1.06h-2.3zM1066.2 144.44h2.3v47.06h-2.3zM1068.95 189.38h2.3v2.12h-2.3zM1071.7 113.48h2.3v78.02h-2.3zM1074.45 189.38h2.3v2.12h-2.3zM1077.2 190.44h2.3v1.06h-2.3zM1079.95 190.44h2.3v1.06h-2.3zM1082.7 190.44h2.3v1.06h-2.3zM1085.45 190.44h2.3v1.06h-2.3zM1088.2 190.44h2.3v1.06h-2.3zM1090.95 190.44h2.3v1.06h-2.3zM1093.7 190.44h2.3v1.06h-2.3zM1096.45 190.44h2.3v1.06h-2.3zM1099.2 187.26h2.3v4.24h-2.3zM1101.95 190.44h2.3v1.06h-2.3zM1104.7 190.44h2.3v1.06h-2.3zM1107.45 190.44h2.3v1.06h-2.3zM1110.2 190.44h2.3v1.06h-2.3zM1112.95 190.44h2.3v1.06h-2.3zM1115.7 190.44h2.3v1.06h-2.3zM1118.45 179.2h2.3v12.3h-2.3zM1121.2 190.44h2.3v1.06h-2.3zM1123.95 189.38h2.3v2.12h-2.3zM1126.7 179.84h2.3v11.66h-2.3zM1129.45 174.54h2.3v16.96h-2.3zM1132.2 175.6h2.3v15.9h-2.3zM1134.95 189.38h2.3v2.12h-2.3zM1137.7 190.44h2.3v1.06h-2.3zM1140.45 180.48h2.3v11.02h-2.3zM1143.2 190.44h2.3v1.06h-2.3zM1145.95 170.3h2.3v21.2h-2.3zM1148.7 189.38h2.3v2.12h-2.3zM1151.45 186.2h2.3v5.3h-2.3zM1154.2 190.44h2.3v1.06h-2.3zM1156.95 190.44h2.3v1.06h-2.3zM1159.7 184.5h2.3v7h-2.3zM1162.45 189.38h2.3v2.12h-2.3zM1165.2 190.44h2.3v1.06h-2.3zM1167.95 190.44h2.3v1.06h-2.3zM1170.7 190.44h2.3v1.06h-2.3zM1173.45 176.66h2.3v14.84h-2.3zM1176.2 152.49h2.3v39.01h-2.3zM1178.95 187.26h2.3v4.24h-2.3zM1181.7 190.44h2.3v1.06h-2.3zM1184.45 190.44h2.3v1.06h-2.3zM1187.2 190.44h2.3v1.06h-2.3zM1189.95 190.44h2.3v1.06h-2.3zM1192.7 190.44h2.3v1.06h-2.3zM1195.45 156.31h2.3v35.19h-2.3zM1198.2 189.38h2.3v2.12h-2.3zM1200.95 180.9h2.3v10.6h-2.3zM1203.7 190.44h2.3v1.06h-2.3zM1206.45 174.54h2.3v16.96h-2.3zM1209.2 173.27h2.3v18.23h-2.3zM1211.95 172h2.3v19.5h-2.3zM1214.7 189.38h2.3v2.12h-2.3zM1217.45 188.96h2.3v2.54h-2.3zM1220.2 190.44h2.3v1.06h-2.3zM1222.95 190.44h2.3v1.06h-2.3zM1225.7 190.44h2.3v1.06h-2.3zM1228.45 190.44h2.3v1.06h-2.3zM1231.2 190.44h2.3v1.06h-2.3zM1233.95 161.82h2.3v29.68h-2.3zM1236.7 161.82h2.3v29.68h-2.3zM1239.45 179.84h2.3v11.66h-2.3zM1242.2 187.26h2.3v4.24h-2.3zM1244.95 190.44h2.3v1.06h-2.3zM1247.7 190.44h2.3v1.06h-2.3zM1250.45 190.44h2.3v1.06h-2.3zM1253.2 190.44h2.3v1.06h-2.3zM1255.95 189.38h2.3v2.12h-2.3zM1258.7 190.44h2.3v1.06h-2.3zM1261.45 190.44h2.3v1.06h-2.3zM1264.2 190.44h2.3v1.06h-2.3zM1266.95 190.44h2.3v1.06h-2.3zM1269.7 190.44h2.3v1.06h-2.3zM1272.45 190.44h2.3v1.06h-2.3zM1275.2 190.44h2.3v1.06h-2.3zM1277.95 190.44h2.3v1.06h-2.3zM1280.7 190.44h2.3v1.06h-2.3zM1283.45 189.38h2.3v2.12h-2.3zM1286.2 190.44h2.3v1.06h-2.3zM1288.95 190.44h2.3v1.06h-2.3zM1291.7 190.44h2.3v1.06h-2.3zM1294.45 190.44h2.3v1.06h-2.3zM1297.2 189.38h2.3v2.12h-2.3zM1299.95 176.24h2.3v15.26h-2.3zM1302.7 189.38h2.3v2.12h-2.3zM1305.45 190.44h2.3v1.06h-2.3zM1308.2 181.75h2.3v9.75h-2.3zM1310.95 190.44h2.3v1.06h-2.3zM1313.7 190.44h2.3v1.06h-2.3zM1316.45 173.48h2.3v18.02h-2.3zM1319.2 189.38h2.3v2.12h-2.3zM1321.95 190.44h2.3v1.06h-2.3zM1324.7 183.02h2.3v8.48h-2.3zM1327.45 172.42h2.3v19.08h-2.3zM1330.2 190.44h2.3v1.06h-2.3zM1332.95 190.44h2.3v1.06h-2.3zM1335.7 190.44h2.3v1.06h-2.3zM1338.45 189.38h2.3v2.12h-2.3zM1341.2 190.44h2.3v1.06h-2.3zM1343.95 190.44h2.3v1.06h-2.3zM1346.7 190.44h2.3v1.06h-2.3zM1349.45 190.44h2.3v1.06h-2.3zM1352.2 190.44h2.3v1.06h-2.3zM1354.95 190.44h2.3v1.06h-2.3zM1357.7 190.44h2.3v1.06h-2.3zM1360.45 190.44h2.3v1.06h-2.3zM1363.2 190.44h2.3v1.06h-2.3zM1365.95 177.72h2.3v13.78h-2.3zM1368.7 190.44h2.3v1.06h-2.3zM1371.45 190.44h2.3v1.06h-2.3zM1374.2 190.44h2.3v1.06h-2.3zM1376.95 190.44h2.3v1.06h-2.3zM1379.7 190.44h2.3v1.06h-2.3zM1382.45 186.2h2.3v5.3h-2.3zM1385.2 185.14h2.3v6.36h-2.3zM1387.95 190.44h2.3v1.06h-2.3zM1390.7 190.44h2.3v1.06h-2.3zM1393.45 190.44h2.3v1.06h-2.3zM1396.2 190.44h2.3v1.06h-2.3zM1398.95 189.38h2.3v2.12h-2.3zM1401.7 190.44h2.3v1.06h-2.3zM1404.45 190.44h2.3v1.06h-2.3zM1407.2 188.32h2.3v3.18h-2.3zM1409.95 190.44h2.3v1.06h-2.3zM1412.7 190.44h2.3v1.06h-2.3zM1415.45 190.44h2.3v1.06h-2.3zM1418.2 184.5h2.3v7h-2.3zM1420.95 188.32h2.3v3.18h-2.3zM1423.7 190.44h2.3v1.06h-2.3zM1426.45 190.44h2.3v1.06h-2.3zM1429.2 189.38h2.3v2.12h-2.3zM1431.95 190.44h2.3v1.06h-2.3zM1434.7 188.32h2.3v3.18h-2.3zM1437.45 180.9h2.3v10.6h-2.3zM1440.2 172h2.3v19.5h-2.3zM1442.95 190.44h2.3v1.06h-2.3zM1445.7 182.38h2.3v9.12h-2.3zM1448.45 187.26h2.3v4.24h-2.3zM1451.2 190.44h2.3v1.06h-2.3zM1453.95 190.44h2.3v1.06h-2.3zM1456.7 190.44h2.3v1.06h-2.3zM1459.45 189.38h2.3v2.12h-2.3zM1462.2 190.44h2.3v1.06h-2.3zM1464.95 189.38h2.3v2.12h-2.3zM1467.7 118.78h2.3v72.72h-2.3zM1470.45 187.26h2.3v4.24h-2.3zM1473.2 187.26h2.3v4.24h-2.3zM1475.95 177.72h2.3v13.78h-2.3zM1478.7 189.38h2.3v2.12h-2.3zM1481.45 190.44h2.3v1.06h-2.3zM1484.2 190.44h2.3v1.06h-2.3zM1486.95 190.44h2.3v1.06h-2.3zM1489.7 190.44h2.3v1.06h-2.3zM1492.45 190.44h2.3v1.06h-2.3zM1495.2 190.44h2.3v1.06h-2.3zM1497.95 190.44h2.3v1.06h-2.3zM1500.7 190.44h2.3v1.06h-2.3zM1503.45 184.5h2.3v7h-2.3zM1506.2 190.44h2.3v1.06h-2.3zM1508.95 190.44h2.3v1.06h-2.3zM1511.7 190.44h2.3v1.06h-2.3zM1514.45 190.44h2.3v1.06h-2.3zM1517.2 189.38h2.3v2.12h-2.3zM1519.95 187.26h2.3v4.24h-2.3zM1522.7 190.44h2.3v1.06h-2.3zM1525.45 190.44h2.3v1.06h-2.3zM1528.2 190.44h2.3v1.06h-2.3zM1530.95 190.44h2.3v1.06h-2.3zM1533.7 190.44h2.3v1.06h-2.3zM1536.45 190.44h2.3v1.06h-2.3zM1539.2 190.44h2.3v1.06h-2.3zM1541.95 190.44h2.3v1.06h-2.3zM1544.7 189.38h2.3v2.12h-2.3zM1547.45 190.44h2.3v1.06h-2.3zM1550.2 190.44h2.3v1.06h-2.3zM1552.95 190.44h2.3v1.06h-2.3zM1555.7 189.38h2.3v2.12h-2.3zM1558.45 189.38h2.3v2.12h-2.3zM1561.2 190.44h2.3v1.06h-2.3zM1563.95 190.44h2.3v1.06h-2.3zM1566.7 187.26h2.3v4.24h-2.3zM1569.45 178.78h2.3v12.72h-2.3zM1572.2 164.36h2.3v27.14h-2.3zM1574.95 190.44h2.3v1.06h-2.3zM1577.7 190.44h2.3v1.06h-2.3zM1580.45 190.44h2.3v1.06h-2.3zM1583.2 189.38h2.3v2.12h-2.3zM1585.95 190.44h2.3v1.06h-2.3zM1588.7 190.44h2.3v1.06h-2.3zM1591.45 190.44h2.3v1.06h-2.3zM1594.2 190.44h2.3v1.06h-2.3zM1596.95 144.22h2.3v47.28h-2.3zM1599.7 190.44h2.3v1.06h-2.3zM1602.45 181.75h2.3v9.75h-2.3zM1605.2 185.14h2.3v6.36h-2.3zM1607.95 70.02h2.3v121.48h-2.3zM1610.7 181.32h2.3v10.18h-2.3zM1613.45 189.38h2.3v2.12h-2.3zM1616.2 190.44h2.3v1.06h-2.3zM1618.95 190.44h2.3v1.06h-2.3zM1621.7 187.26h2.3v4.24h-2.3zM1624.45 190.44h2.3v1.06h-2.3zM1627.2 190.44h2.3v1.06h-2.3zM1629.95 177.72h2.3v13.78h-2.3zM1632.7 185.14h2.3v6.36h-2.3zM1635.45 187.26h2.3v4.24h-2.3zM1638.2 190.44h2.3v1.06h-2.3zM1640.95 190.44h2.3v1.06h-2.3zM1643.7 125.78h2.3v65.72h-2.3zM1646.45 171.57h2.3v19.93h-2.3zM1649.2 190.44h2.3v1.06h-2.3zM1651.95 189.38h2.3v2.12h-2.3zM1654.7 189.38h2.3v2.12h-2.3zM1657.45 165.64h2.3v25.86h-2.3zM1660.2 189.38h2.3v2.12h-2.3zM1662.95 189.38h2.3v2.12h-2.3z" fill="#6a2ac8"/><path d="M872.2 190.44h2.3v1.06h-2.3zM874.95 190.44h2.3v1.06h-2.3zM877.7 189.8h2.3v1.7h-2.3zM880.45 190.44h2.3v1.06h-2.3zM883.2 190.7h2.3v0.8h-2.3zM885.95 187.26h2.3v4.24h-2.3zM888.7 187.26h2.3v4.24h-2.3zM891.45 190.44h2.3v1.06h-2.3zM894.2 190.44h2.3v1.06h-2.3zM896.95 185.14h2.3v6.36h-2.3zM899.7 136.38h2.3v55.12h-2.3zM902.45 189.38h2.3v2.12h-2.3zM905.2 187.26h2.3v4.24h-2.3zM907.95 155.46h2.3v36.04h-2.3zM910.7 189.38h2.3v2.12h-2.3zM913.45 178.78h2.3v12.72h-2.3zM916.2 185.14h2.3v6.36h-2.3zM918.95 189.38h2.3v2.12h-2.3zM921.7 180.9h2.3v10.6h-2.3zM924.45 167.12h2.3v24.38h-2.3zM927.2 187.26h2.3v4.24h-2.3zM929.95 189.38h2.3v2.12h-2.3zM932.7 173.48h2.3v18.02h-2.3zM935.45 183.02h2.3v8.48h-2.3zM938.2 189.38h2.3v2.12h-2.3zM940.95 189.38h2.3v2.12h-2.3zM943.7 190.44h2.3v1.06h-2.3zM946.45 189.38h2.3v2.12h-2.3zM949.2 189.38h2.3v2.12h-2.3zM951.95 156.31h2.3v35.19h-2.3zM954.7 183.02h2.3v8.48h-2.3zM957.45 189.38h2.3v2.12h-2.3zM960.2 186.2h2.3v5.3h-2.3zM962.95 189.38h2.3v2.12h-2.3zM965.7 190.44h2.3v1.06h-2.3zM968.45 190.44h2.3v1.06h-2.3zM971.2 190.44h2.3v1.06h-2.3zM973.95 182.38h2.3v9.12h-2.3zM976.7 180.9h2.3v10.6h-2.3zM979.45 189.38h2.3v2.12h-2.3zM982.2 189.38h2.3v2.12h-2.3zM984.95 190.44h2.3v1.06h-2.3zM987.7 190.44h2.3v1.06h-2.3zM990.45 190.44h2.3v1.06h-2.3zM993.2 189.38h2.3v2.12h-2.3zM995.95 190.44h2.3v1.06h-2.3zM998.7 190.44h2.3v1.06h-2.3zM1001.45 190.44h2.3v1.06h-2.3zM1004.2 189.38h2.3v2.12h-2.3zM1006.95 180.9h2.3v10.6h-2.3zM1009.7 190.44h2.3v1.06h-2.3zM1012.45 189.38h2.3v2.12h-2.3zM1015.2 190.44h2.3v1.06h-2.3zM1017.95 190.44h2.3v1.06h-2.3zM1020.7 190.44h2.3v1.06h-2.3zM1023.45 146.34h2.3v45.16h-2.3zM1026.2 189.38h2.3v2.12h-2.3zM1028.95 190.44h2.3v1.06h-2.3zM1031.7 187.26h2.3v4.24h-2.3zM1034.45 189.38h2.3v2.12h-2.3zM1037.2 190.44h2.3v1.06h-2.3zM1039.95 185.78h2.3v5.72h-2.3zM1042.7 190.44h2.3v1.06h-2.3zM1045.45 190.44h2.3v1.06h-2.3zM1048.2 190.44h2.3v1.06h-2.3zM1050.95 190.44h2.3v1.06h-2.3zM1053.7 190.44h2.3v1.06h-2.3zM1056.45 190.44h2.3v1.06h-2.3zM1059.2 190.44h2.3v1.06h-2.3zM1061.95 190.44h2.3v1.06h-2.3zM1064.7 135.32h2.3v56.18h-2.3zM1067.45 189.38h2.3v2.12h-2.3zM1070.2 125.36h2.3v66.14h-2.3zM1072.95 189.38h2.3v2.12h-2.3zM1075.7 190.44h2.3v1.06h-2.3zM1078.45 190.44h2.3v1.06h-2.3zM1081.2 190.44h2.3v1.06h-2.3zM1083.95 190.44h2.3v1.06h-2.3zM1086.7 190.44h2.3v1.06h-2.3zM1089.45 190.44h2.3v1.06h-2.3zM1092.2 190.44h2.3v1.06h-2.3zM1094.95 190.44h2.3v1.06h-2.3zM1097.7 185.78h2.3v5.72h-2.3zM1100.45 190.44h2.3v1.06h-2.3zM1103.2 190.44h2.3v1.06h-2.3zM1105.95 190.44h2.3v1.06h-2.3zM1108.7 190.44h2.3v1.06h-2.3zM1111.45 190.44h2.3v1.06h-2.3zM1114.2 190.44h2.3v1.06h-2.3zM1116.95 190.44h2.3v1.06h-2.3zM1119.7 190.44h2.3v1.06h-2.3zM1122.45 189.38h2.3v2.12h-2.3zM1125.2 179.84h2.3v11.66h-2.3zM1127.95 175.6h2.3v15.9h-2.3zM1130.7 174.54h2.3v16.96h-2.3zM1133.45 189.38h2.3v2.12h-2.3zM1136.2 190.44h2.3v1.06h-2.3zM1138.95 189.38h2.3v2.12h-2.3zM1141.7 190.44h2.3v1.06h-2.3zM1144.45 179.84h2.3v11.66h-2.3zM1147.2 189.38h2.3v2.12h-2.3zM1149.95 190.44h2.3v1.06h-2.3zM1152.7 190.44h2.3v1.06h-2.3zM1155.45 190.44h2.3v1.06h-2.3zM1158.2 189.38h2.3v2.12h-2.3zM1160.95 190.44h2.3v1.06h-2.3zM1163.7 190.44h2.3v1.06h-2.3zM1166.45 190.44h2.3v1.06h-2.3zM1169.2 190.44h2.3v1.06h-2.3zM1171.95 185.14h2.3v6.36h-2.3zM1174.7 165h2.3v26.5h-2.3zM1177.45 187.26h2.3v4.24h-2.3zM1180.2 190.44h2.3v1.06h-2.3zM1182.95 190.44h2.3v1.06h-2.3zM1185.7 190.44h2.3v1.06h-2.3zM1188.45 190.44h2.3v1.06h-2.3zM1191.2 190.44h2.3v1.06h-2.3zM1193.95 169.45h2.3v22.05h-2.3zM1196.7 189.38h2.3v2.12h-2.3zM1199.45 189.38h2.3v2.12h-2.3zM1202.2 190.44h2.3v1.06h-2.3zM1204.95 174.54h2.3v16.96h-2.3zM1207.7 173.27h2.3v18.23h-2.3zM1210.45 173.27h2.3v18.23h-2.3zM1213.2 189.38h2.3v2.12h-2.3zM1215.95 190.44h2.3v1.06h-2.3zM1218.7 190.44h2.3v1.06h-2.3zM1221.45 190.44h2.3v1.06h-2.3zM1224.2 190.44h2.3v1.06h-2.3zM1226.95 190.44h2.3v1.06h-2.3zM1229.7 190.44h2.3v1.06h-2.3zM1232.45 173.27h2.3v18.23h-2.3zM1235.2 161.18h2.3v30.32h-2.3zM1237.95 187.26h2.3v4.24h-2.3zM1240.7 190.44h2.3v1.06h-2.3zM1243.45 190.44h2.3v1.06h-2.3zM1246.2 190.44h2.3v1.06h-2.3zM1248.95 190.44h2.3v1.06h-2.3zM1251.7 190.44h2.3v1.06h-2.3zM1254.45 190.44h2.3v1.06h-2.3zM1257.2 190.44h2.3v1.06h-2.3zM1259.95 190.44h2.3v1.06h-2.3zM1262.7 190.44h2.3v1.06h-2.3zM1265.45 190.44h2.3v1.06h-2.3zM1268.2 190.44h2.3v1.06h-2.3zM1270.95 190.44h2.3v1.06h-2.3zM1273.7 190.44h2.3v1.06h-2.3zM1276.45 190.44h2.3v1.06h-2.3zM1279.2 190.44h2.3v1.06h-2.3zM1281.95 190.44h2.3v1.06h-2.3zM1284.7 190.44h2.3v1.06h-2.3zM1287.45 190.44h2.3v1.06h-2.3zM1290.2 190.44h2.3v1.06h-2.3zM1292.95 190.44h2.3v1.06h-2.3zM1295.7 180.9h2.3v10.6h-2.3zM1298.45 177.72h2.3v13.78h-2.3zM1301.2 189.38h2.3v2.12h-2.3zM1303.95 190.44h2.3v1.06h-2.3zM1306.7 184.5h2.3v7h-2.3zM1309.45 190.44h2.3v1.06h-2.3zM1312.2 190.44h2.3v1.06h-2.3zM1314.95 178.99h2.3v12.51h-2.3zM1317.7 189.38h2.3v2.12h-2.3zM1320.45 190.44h2.3v1.06h-2.3zM1323.2 189.38h2.3v2.12h-2.3zM1325.95 177.72h2.3v13.78h-2.3zM1328.7 190.44h2.3v1.06h-2.3zM1331.45 190.44h2.3v1.06h-2.3zM1334.2 190.44h2.3v1.06h-2.3zM1336.95 185.14h2.3v6.36h-2.3zM1339.7 190.44h2.3v1.06h-2.3zM1342.45 190.44h2.3v1.06h-2.3zM1345.2 190.44h2.3v1.06h-2.3zM1347.95 190.44h2.3v1.06h-2.3zM1350.7 190.44h2.3v1.06h-2.3zM1353.45 190.44h2.3v1.06h-2.3zM1356.2 190.44h2.3v1.06h-2.3zM1358.95 190.44h2.3v1.06h-2.3zM1361.7 190.44h2.3v1.06h-2.3zM1364.45 189.38h2.3v2.12h-2.3zM1367.2 190.44h2.3v1.06h-2.3zM1369.95 190.44h2.3v1.06h-2.3zM1372.7 190.44h2.3v1.06h-2.3zM1375.45 190.44h2.3v1.06h-2.3zM1378.2 190.44h2.3v1.06h-2.3zM1380.95 187.26h2.3v4.24h-2.3zM1383.7 186.2h2.3v5.3h-2.3zM1386.45 190.44h2.3v1.06h-2.3zM1389.2 190.44h2.3v1.06h-2.3zM1391.95 190.44h2.3v1.06h-2.3zM1394.7 190.44h2.3v1.06h-2.3zM1397.45 189.38h2.3v2.12h-2.3zM1400.2 190.44h2.3v1.06h-2.3zM1402.95 190.44h2.3v1.06h-2.3zM1405.7 189.38h2.3v2.12h-2.3zM1408.45 190.44h2.3v1.06h-2.3zM1411.2 190.44h2.3v1.06h-2.3zM1413.95 190.44h2.3v1.06h-2.3zM1416.7 189.38h2.3v2.12h-2.3zM1419.45 189.38h2.3v2.12h-2.3zM1422.2 190.44h2.3v1.06h-2.3zM1424.95 190.44h2.3v1.06h-2.3zM1427.7 187.26h2.3v4.24h-2.3zM1430.45 190.44h2.3v1.06h-2.3zM1433.2 185.14h2.3v6.36h-2.3zM1435.95 176.24h2.3v15.26h-2.3zM1438.7 189.38h2.3v2.12h-2.3zM1441.45 190.44h2.3v1.06h-2.3zM1444.2 187.26h2.3v4.24h-2.3zM1446.95 189.38h2.3v2.12h-2.3zM1449.7 190.44h2.3v1.06h-2.3zM1452.45 190.44h2.3v1.06h-2.3zM1455.2 190.44h2.3v1.06h-2.3zM1457.95 187.26h2.3v4.24h-2.3zM1460.7 190.44h2.3v1.06h-2.3zM1463.45 189.38h2.3v2.12h-2.3zM1466.2 106.7h2.3v84.8h-2.3zM1468.95 185.14h2.3v6.36h-2.3zM1471.7 187.26h2.3v4.24h-2.3zM1474.45 187.26h2.3v4.24h-2.3zM1477.2 189.38h2.3v2.12h-2.3zM1479.95 190.44h2.3v1.06h-2.3zM1482.7 190.44h2.3v1.06h-2.3zM1485.45 190.44h2.3v1.06h-2.3zM1488.2 190.44h2.3v1.06h-2.3zM1490.95 190.44h2.3v1.06h-2.3zM1493.7 190.44h2.3v1.06h-2.3zM1496.45 190.44h2.3v1.06h-2.3zM1499.2 190.44h2.3v1.06h-2.3zM1501.95 189.38h2.3v2.12h-2.3zM1504.7 190.44h2.3v1.06h-2.3zM1507.45 190.44h2.3v1.06h-2.3zM1510.2 190.44h2.3v1.06h-2.3zM1512.95 190.44h2.3v1.06h-2.3zM1515.7 189.38h2.3v2.12h-2.3zM1518.45 189.38h2.3v2.12h-2.3zM1521.2 190.44h2.3v1.06h-2.3zM1523.95 190.44h2.3v1.06h-2.3zM1526.7 190.44h2.3v1.06h-2.3zM1529.45 190.44h2.3v1.06h-2.3zM1532.2 190.44h2.3v1.06h-2.3zM1534.95 190.44h2.3v1.06h-2.3zM1537.7 190.44h2.3v1.06h-2.3zM1540.45 190.44h2.3v1.06h-2.3zM1543.2 189.38h2.3v2.12h-2.3zM1545.95 190.44h2.3v1.06h-2.3zM1548.7 190.44h2.3v1.06h-2.3zM1551.45 190.44h2.3v1.06h-2.3zM1554.2 189.38h2.3v2.12h-2.3zM1556.95 189.38h2.3v2.12h-2.3zM1559.7 190.44h2.3v1.06h-2.3zM1562.45 190.44h2.3v1.06h-2.3zM1565.2 185.14h2.3v6.36h-2.3zM1567.95 180.9h2.3v10.6h-2.3zM1570.7 173.48h2.3v18.02h-2.3zM1573.45 190.44h2.3v1.06h-2.3zM1576.2 190.44h2.3v1.06h-2.3zM1578.95 190.44h2.3v1.06h-2.3zM1581.7 188.32h2.3v3.18h-2.3zM1584.45 190.44h2.3v1.06h-2.3zM1587.2 190.44h2.3v1.06h-2.3zM1589.95 190.44h2.3v1.06h-2.3zM1592.7 190.44h2.3v1.06h-2.3zM1595.45 137.44h2.3v54.06h-2.3zM1598.2 190.44h2.3v1.06h-2.3zM1600.95 189.38h2.3v2.12h-2.3zM1603.7 185.14h2.3v6.36h-2.3zM1606.45 91.01h2.3v100.49h-2.3zM1609.2 189.38h2.3v2.12h-2.3zM1611.95 189.38h2.3v2.12h-2.3zM1614.7 190.44h2.3v1.06h-2.3zM1617.45 190.44h2.3v1.06h-2.3zM1620.2 184.08h2.3v7.42h-2.3zM1622.95 190.44h2.3v1.06h-2.3zM1625.7 190.44h2.3v1.06h-2.3zM1628.45 181.75h2.3v9.75h-2.3zM1631.2 187.26h2.3v4.24h-2.3zM1633.95 185.14h2.3v6.36h-2.3zM1636.7 190.44h2.3v1.06h-2.3zM1639.45 190.44h2.3v1.06h-2.3zM1642.2 112.42h2.3v79.08h-2.3zM1644.95 189.38h2.3v2.12h-2.3zM1647.7 190.44h2.3v1.06h-2.3zM1650.45 167.97h2.3v23.53h-2.3zM1653.2 168.18h2.3v23.32h-2.3zM1655.95 172h2.3v19.5h-2.3zM1658.7 189.38h2.3v2.12h-2.3zM1661.45 189.38h2.3v2.12h-2.3z" fill="#c8981c"/><rect x="871" y="190.5" width="792" height="1.6" fill="#c8981c" opacity="0.85"/><text x="873.5" y="212.6" text-anchor="middle" font-size="11.5" fill="#7a7a7a" textLength="5.7" lengthAdjust="spacingAndGlyphs">1</text><text x="901" y="212.6" text-anchor="middle" font-size="11.5" fill="#7a7a7a" textLength="11.4" lengthAdjust="spacingAndGlyphs">11</text><text x="928.5" y="212.6" text-anchor="middle" font-size="11.5" fill="#7a7a7a" textLength="11.4" lengthAdjust="spacingAndGlyphs">21</text><text x="956" y="212.6" text-anchor="middle" font-size="11.5" fill="#7a7a7a" textLength="11.4" lengthAdjust="spacingAndGlyphs">31</text><text x="983.5" y="212.6" text-anchor="middle" font-size="11.5" fill="#7a7a7a" textLength="11.4" lengthAdjust="spacingAndGlyphs">41</text><text x="1011" y="212.6" text-anchor="middle" font-size="11.5" fill="#7a7a7a" textLength="11.4" lengthAdjust="spacingAndGlyphs">51</text><text x="1038.5" y="212.6" text-anchor="middle" font-size="11.5" fill="#7a7a7a" textLength="11.4" lengthAdjust="spacingAndGlyphs">61</text><text x="1066" y="212.6" text-anchor="middle" font-size="11.5" fill="#7a7a7a" textLength="11.4" lengthAdjust="spacingAndGlyphs">71</text><text x="1093.5" y="212.6" text-anchor="middle" font-size="11.5" fill="#7a7a7a" textLength="11.4" lengthAdjust="spacingAndGlyphs">81</text><text x="1121" y="212.6" text-anchor="middle" font-size="11.5" fill="#7a7a7a" textLength="11.4" lengthAdjust="spacingAndGlyphs">91</text><text x="1148.5" y="212.6" text-anchor="middle" font-size="11.5" fill="#7a7a7a" textLength="17.1" lengthAdjust="spacingAndGlyphs">101</text><text x="1176" y="212.6" text-anchor="middle" font-size="11.5" fill="#7a7a7a" textLength="17.1" lengthAdjust="spacingAndGlyphs">111</text><text x="1203.5" y="212.6" text-anchor="middle" font-size="11.5" fill="#7a7a7a" textLength="17.1" lengthAdjust="spacingAndGlyphs">121</text><text x="1231" y="212.6" text-anchor="middle" font-size="11.5" fill="#7a7a7a" textLength="17.1" lengthAdjust="spacingAndGlyphs">131</text><text x="1258.5" y="212.6" text-anchor="middle" font-size="11.5" fill="#7a7a7a" textLength="17.1" lengthAdjust="spacingAndGlyphs">141</text><text x="1286" y="212.6" text-anchor="middle" font-size="11.5" fill="#7a7a7a" textLength="17.1" lengthAdjust="spacingAndGlyphs">151</text><text x="1313.5" y="212.6" text-anchor="middle" font-size="11.5" fill="#7a7a7a" textLength="17.1" lengthAdjust="spacingAndGlyphs">161</text><text x="1341" y="212.6" text-anchor="middle" font-size="11.5" fill="#7a7a7a" textLength="17.1" lengthAdjust="spacingAndGlyphs">171</text><text x="1368.5" y="212.6" text-anchor="middle" font-size="11.5" fill="#7a7a7a" textLength="17.1" lengthAdjust="spacingAndGlyphs">181</text><text x="1396" y="212.6" text-anchor="middle" font-size="11.5" fill="#7a7a7a" textLength="17.1" lengthAdjust="spacingAndGlyphs">191</text><text x="1423.5" y="212.6" text-anchor="middle" font-size="11.5" fill="#7a7a7a" textLength="17.1" lengthAdjust="spacingAndGlyphs">201</text><text x="1451" y="212.6" text-anchor="middle" font-size="11.5" fill="#7a7a7a" textLength="17.1" lengthAdjust="spacingAndGlyphs">211</text><text x="1478.5" y="212.6" text-anchor="middle" font-size="11.5" fill="#7a7a7a" textLength="17.1" lengthAdjust="spacingAndGlyphs">221</text><text x="1506" y="212.6" text-anchor="middle" font-size="11.5" fill="#7a7a7a" textLength="17.1" lengthAdjust="spacingAndGlyphs">231</text><text x="1533.5" y="212.6" text-anchor="middle" font-size="11.5" fill="#7a7a7a" textLength="17.1" lengthAdjust="spacingAndGlyphs">241</text><text x="1561" y="212.6" text-anchor="middle" font-size="11.5" fill="#7a7a7a" textLength="17.1" lengthAdjust="spacingAndGlyphs">251</text><text x="1588.5" y="212.6" text-anchor="middle" font-size="11.5" fill="#7a7a7a" textLength="17.1" lengthAdjust="spacingAndGlyphs">261</text><text x="1616" y="212.6" text-anchor="middle" font-size="11.5" fill="#7a7a7a" textLength="17.1" lengthAdjust="spacingAndGlyphs">271</text><text x="1643.5" y="212.6" text-anchor="middle" font-size="11.5" fill="#7a7a7a" textLength="17.1" lengthAdjust="spacingAndGlyphs">281</text><rect x="880" y="271.5" width="784.7" height="16" fill="#f9f9fa" stroke="#e8e8ea" stroke-width="0.8"/><rect x="950.9" y="272" width="17.1" height="15" fill="#8eaadb"/><rect x="976" y="272" width="8" height="15" fill="#8eaadb"/><rect x="1035.6" y="272" width="7.9" height="15" fill="#8eaadb"/><rect x="1059" y="272" width="15.6" height="15" fill="#8eaadb"/><rect x="1113.8" y="272" width="7.6" height="15" fill="#8eaadb"/><rect x="1129" y="272" width="15.4" height="15" fill="#8eaadb"/><rect x="1152.5" y="272" width="15.5" height="15" fill="#8eaadb"/><rect x="1214" y="272" width="7.5" height="15" fill="#8eaadb"/><rect x="1237" y="272" width="23.7" height="15" fill="#8eaadb"/><rect x="1268.8" y="272" width="7.2" height="15" fill="#8eaadb"/><rect x="1291.7" y="272" width="15.5" height="15" fill="#8eaadb"/><rect x="1330.8" y="272" width="7.5" height="15" fill="#8eaadb"/><rect x="1369.4" y="272" width="10.6" height="15" fill="#8eaadb"/><rect x="1434" y="272" width="7.7" height="15" fill="#8eaadb"/><rect x="1450" y="272" width="15" height="15" fill="#8eaadb"/><rect x="1473" y="272" width="15.3" height="15" fill="#8eaadb"/><rect x="1519.4" y="272" width="30.9" height="15" fill="#8eaadb"/><rect x="1566" y="272" width="24.3" height="15" fill="#8eaadb"/><rect x="1605.8" y="272" width="10.2" height="15" fill="#8eaadb"/><path d="M874.6 425.5L879.9 421H1664" fill="none" stroke="#d9d9d9" stroke-width="1.3"/><path d="M874.6 403.5L879.9 399H1664" fill="none" stroke="#d9d9d9" stroke-width="1.3"/><path d="M874.6 381.5L879.9 377H1664" fill="none" stroke="#d9d9d9" stroke-width="1.3"/><path d="M874.6 359.5L879.9 355H1664" fill="none" stroke="#d9d9d9" stroke-width="1.3"/><path d="M874.6 337.5L879.9 333H1664" fill="none" stroke="#d9d9d9" stroke-width="1.3"/><path d="M874.6 315.5L879.9 311H1664" fill="none" stroke="#d9d9d9" stroke-width="1.3"/><text x="865.7" y="429.9" text-anchor="end" font-size="12" fill="#7a7a7a" textLength="5.2" lengthAdjust="spacingAndGlyphs">0</text><text x="865.7" y="407.9" text-anchor="end" font-size="12" fill="#7a7a7a" textLength="10.4" lengthAdjust="spacingAndGlyphs">10</text><text x="865.7" y="385.9" text-anchor="end" font-size="12" fill="#7a7a7a" textLength="10.4" lengthAdjust="spacingAndGlyphs">20</text><text x="865.7" y="363.9" text-anchor="end" font-size="12" fill="#7a7a7a" textLength="10.4" lengthAdjust="spacingAndGlyphs">30</text><text x="865.7" y="341.9" text-anchor="end" font-size="12" fill="#7a7a7a" textLength="10.4" lengthAdjust="spacingAndGlyphs">40</text><text x="865.7" y="319.9" text-anchor="end" font-size="12" fill="#7a7a7a" textLength="10.4" lengthAdjust="spacingAndGlyphs">50</text><path d="M880.8 421.5l1.3 -1.8h3l-1.3 1.8zM888.7 421.5l1.3 -1.8h3l-1.3 1.8zM896.6 421.5l1.3 -1.8h3l-1.3 1.8zM904.5 421.5l1.3 -1.8h3l-1.3 1.8zM912.4 421.5l1.3 -1.8h3l-1.3 1.8zM920.3 421.5l1.3 -1.8h3l-1.3 1.8zM928.2 421.5l1.3 -1.8h3l-1.3 1.8zM936.1 421.5l1.3 -1.8h3l-1.3 1.8zM944 421.5l1.3 -1.8h3l-1.3 1.8zM1038.8 421.5l1.3 -1.8h3l-1.3 1.8zM1046.7 421.5l1.3 -1.8h3l-1.3 1.8zM1054.6 421.5l1.3 -1.8h3l-1.3 1.8zM1062.5 421.5l1.3 -1.8h3l-1.3 1.8zM1070.4 421.5l1.3 -1.8h3l-1.3 1.8zM1078.3 421.5l1.3 -1.8h3l-1.3 1.8zM1086.2 421.5l1.3 -1.8h3l-1.3 1.8zM1094.1 421.5l1.3 -1.8h3l-1.3 1.8zM1102 421.5l1.3 -1.8h3l-1.3 1.8zM1109.9 421.5l1.3 -1.8h3l-1.3 1.8zM1117.8 421.5l1.3 -1.8h3l-1.3 1.8zM1125.7 421.5l1.3 -1.8h3l-1.3 1.8zM1188.9 421.5l1.3 -1.8h3l-1.3 1.8zM1204.7 421.5l1.3 -1.8h3l-1.3 1.8zM1220.5 421.5l1.3 -1.8h3l-1.3 1.8zM1228.4 421.5l1.3 -1.8h3l-1.3 1.8zM1252.1 421.5l1.3 -1.8h3l-1.3 1.8zM1260 421.5l1.3 -1.8h3l-1.3 1.8zM1267.9 421.5l1.3 -1.8h3l-1.3 1.8zM1275.8 421.5l1.3 -1.8h3l-1.3 1.8zM1283.7 421.5l1.3 -1.8h3l-1.3 1.8zM1291.6 421.5l1.3 -1.8h3l-1.3 1.8zM1299.5 421.5l1.3 -1.8h3l-1.3 1.8zM1307.4 421.5l1.3 -1.8h3l-1.3 1.8zM1315.3 421.5l1.3 -1.8h3l-1.3 1.8zM1331.1 421.5l1.3 -1.8h3l-1.3 1.8zM1339 421.5l1.3 -1.8h3l-1.3 1.8zM1465.4 421.5l1.3 -1.8h3l-1.3 1.8zM1481.2 421.5l1.3 -1.8h3l-1.3 1.8zM1489.1 421.5l1.3 -1.8h3l-1.3 1.8zM1497 421.5l1.3 -1.8h3l-1.3 1.8zM1504.9 421.5l1.3 -1.8h3l-1.3 1.8zM1512.8 421.5l1.3 -1.8h3l-1.3 1.8zM1528.6 421.5l1.3 -1.8h3l-1.3 1.8zM1544.4 421.5l1.3 -1.8h3l-1.3 1.8zM1552.3 421.5l1.3 -1.8h3l-1.3 1.8zM1560.2 421.5l1.3 -1.8h3l-1.3 1.8zM1568.1 421.5l1.3 -1.8h3l-1.3 1.8zM1583.9 421.5l1.3 -1.8h3l-1.3 1.8zM1591.8 421.5l1.3 -1.8h3l-1.3 1.8zM1599.7 421.5l1.3 -1.8h3l-1.3 1.8zM1607.6 421.5l1.3 -1.8h3l-1.3 1.8zM1615.5 421.5l1.3 -1.8h3l-1.3 1.8zM1623.4 421.5l1.3 -1.8h3l-1.3 1.8zM1631.3 421.5l1.3 -1.8h3l-1.3 1.8zM1639.2 421.5l1.3 -1.8h3l-1.3 1.8zM1647.1 421.5l1.3 -1.8h3l-1.3 1.8zM1655 421.5l1.3 -1.8h3l-1.3 1.8z" fill="#6e2ad0" stroke="#4a1090" stroke-width="0.4"/><path d="M878.7 424l1.3 -1.8h3l-1.3 1.8zM886.6 424l1.3 -1.8h3l-1.3 1.8zM894.5 424l1.3 -1.8h3l-1.3 1.8zM902.4 424l1.3 -1.8h3l-1.3 1.8zM910.3 424l1.3 -1.8h3l-1.3 1.8zM918.2 424l1.3 -1.8h3l-1.3 1.8zM926.1 424l1.3 -1.8h3l-1.3 1.8zM934 424l1.3 -1.8h3l-1.3 1.8zM941.9 424l1.3 -1.8h3l-1.3 1.8zM1013 424l1.3 -1.8h3l-1.3 1.8zM1036.7 424l1.3 -1.8h3l-1.3 1.8zM1044.6 424l1.3 -1.8h3l-1.3 1.8zM1052.5 424l1.3 -1.8h3l-1.3 1.8zM1060.4 424l1.3 -1.8h3l-1.3 1.8zM1068.3 424l1.3 -1.8h3l-1.3 1.8zM1076.2 424l1.3 -1.8h3l-1.3 1.8zM1084.1 424l1.3 -1.8h3l-1.3 1.8zM1092 424l1.3 -1.8h3l-1.3 1.8zM1099.9 424l1.3 -1.8h3l-1.3 1.8zM1107.8 424l1.3 -1.8h3l-1.3 1.8zM1115.7 424l1.3 -1.8h3l-1.3 1.8zM1123.6 424l1.3 -1.8h3l-1.3 1.8zM1131.5 424l1.3 -1.8h3l-1.3 1.8zM1186.8 424l1.3 -1.8h3l-1.3 1.8zM1202.6 424l1.3 -1.8h3l-1.3 1.8zM1218.4 424l1.3 -1.8h3l-1.3 1.8zM1226.3 424l1.3 -1.8h3l-1.3 1.8zM1234.2 424l1.3 -1.8h3l-1.3 1.8zM1242.1 424l1.3 -1.8h3l-1.3 1.8zM1250 424l1.3 -1.8h3l-1.3 1.8zM1257.9 424l1.3 -1.8h3l-1.3 1.8zM1265.8 424l1.3 -1.8h3l-1.3 1.8zM1273.7 424l1.3 -1.8h3l-1.3 1.8zM1281.6 424l1.3 -1.8h3l-1.3 1.8zM1289.5 424l1.3 -1.8h3l-1.3 1.8zM1297.4 424l1.3 -1.8h3l-1.3 1.8zM1305.3 424l1.3 -1.8h3l-1.3 1.8zM1313.2 424l1.3 -1.8h3l-1.3 1.8zM1321.1 424l1.3 -1.8h3l-1.3 1.8zM1329 424l1.3 -1.8h3l-1.3 1.8zM1336.9 424l1.3 -1.8h3l-1.3 1.8zM1344.8 424l1.3 -1.8h3l-1.3 1.8zM1352.7 424l1.3 -1.8h3l-1.3 1.8zM1360.6 424l1.3 -1.8h3l-1.3 1.8zM1384.3 424l1.3 -1.8h3l-1.3 1.8zM1415.9 424l1.3 -1.8h3l-1.3 1.8zM1431.7 424l1.3 -1.8h3l-1.3 1.8zM1447.5 424l1.3 -1.8h3l-1.3 1.8zM1463.3 424l1.3 -1.8h3l-1.3 1.8zM1479.1 424l1.3 -1.8h3l-1.3 1.8zM1487 424l1.3 -1.8h3l-1.3 1.8zM1494.9 424l1.3 -1.8h3l-1.3 1.8zM1502.8 424l1.3 -1.8h3l-1.3 1.8zM1510.7 424l1.3 -1.8h3l-1.3 1.8zM1518.6 424l1.3 -1.8h3l-1.3 1.8zM1526.5 424l1.3 -1.8h3l-1.3 1.8zM1534.4 424l1.3 -1.8h3l-1.3 1.8zM1542.3 424l1.3 -1.8h3l-1.3 1.8zM1550.2 424l1.3 -1.8h3l-1.3 1.8zM1558.1 424l1.3 -1.8h3l-1.3 1.8zM1566 424l1.3 -1.8h3l-1.3 1.8zM1581.8 424l1.3 -1.8h3l-1.3 1.8zM1589.7 424l1.3 -1.8h3l-1.3 1.8zM1597.6 424l1.3 -1.8h3l-1.3 1.8zM1613.4 424l1.3 -1.8h3l-1.3 1.8zM1621.3 424l1.3 -1.8h3l-1.3 1.8zM1629.2 424l1.3 -1.8h3l-1.3 1.8zM1637.1 424l1.3 -1.8h3l-1.3 1.8zM1645 424l1.3 -1.8h3l-1.3 1.8zM1652.9 424l1.3 -1.8h3l-1.3 1.8z" fill="#a89a18" stroke="#8a7a10" stroke-width="0.4"/><rect x="952.8" y="383.4" width="3.8" height="39.6" fill="#b45cf0" stroke="#5a16a8" stroke-width="0.9"/><rect x="953.5" y="384.4" width="1.2" height="38.1" fill="#d9a6fa" opacity="0.7"/><rect x="949.7" y="402.1" width="3.8" height="20.9" fill="#f6dc52" stroke="#a88a12" stroke-width="0.9"/><rect x="950.4" y="403.1" width="1.2" height="19.4" fill="#fff0a0" opacity="0.7"/><rect x="960.7" y="413.54" width="3.8" height="9.46" fill="#b45cf0" stroke="#5a16a8" stroke-width="0.9"/><rect x="961.4" y="414.54" width="1.2" height="7.96" fill="#d9a6fa" opacity="0.7"/><rect x="957.6" y="417.5" width="3.8" height="5.5" fill="#f6dc52" stroke="#a88a12" stroke-width="0.9"/><rect x="958.3" y="418.5" width="1.2" height="4" fill="#fff0a0" opacity="0.7"/><rect x="968.6" y="398.8" width="3.8" height="24.2" fill="#b45cf0" stroke="#5a16a8" stroke-width="0.9"/><rect x="969.3" y="399.8" width="1.2" height="22.7" fill="#d9a6fa" opacity="0.7"/><rect x="965.5" y="413.54" width="3.8" height="9.46" fill="#f6dc52" stroke="#a88a12" stroke-width="0.9"/><rect x="966.2" y="414.54" width="1.2" height="7.96" fill="#fff0a0" opacity="0.7"/><rect x="976.5" y="410.9" width="3.8" height="12.1" fill="#b45cf0" stroke="#5a16a8" stroke-width="0.9"/><rect x="977.2" y="411.9" width="1.2" height="10.6" fill="#d9a6fa" opacity="0.7"/><rect x="973.4" y="416.4" width="3.8" height="6.6" fill="#f6dc52" stroke="#a88a12" stroke-width="0.9"/><rect x="974.1" y="417.4" width="1.2" height="5.1" fill="#fff0a0" opacity="0.7"/><rect x="984.4" y="331.04" width="3.8" height="91.96" fill="#b45cf0" stroke="#5a16a8" stroke-width="0.9"/><rect x="985.1" y="332.04" width="1.2" height="90.46" fill="#d9a6fa" opacity="0.7"/><rect x="981.3" y="343.14" width="3.8" height="79.86" fill="#f6dc52" stroke="#a88a12" stroke-width="0.9"/><rect x="982" y="344.14" width="1.2" height="78.36" fill="#fff0a0" opacity="0.7"/><rect x="992.3" y="394.62" width="3.8" height="28.38" fill="#b45cf0" stroke="#5a16a8" stroke-width="0.9"/><rect x="993" y="395.62" width="1.2" height="26.88" fill="#d9a6fa" opacity="0.7"/><rect x="989.2" y="413.54" width="3.8" height="9.46" fill="#f6dc52" stroke="#a88a12" stroke-width="0.9"/><rect x="989.9" y="414.54" width="1.2" height="7.96" fill="#fff0a0" opacity="0.7"/><rect x="1000.2" y="362.94" width="3.8" height="60.06" fill="#b45cf0" stroke="#5a16a8" stroke-width="0.9"/><rect x="1000.9" y="363.94" width="1.2" height="58.56" fill="#d9a6fa" opacity="0.7"/><rect x="997.1" y="389.12" width="3.8" height="33.88" fill="#f6dc52" stroke="#a88a12" stroke-width="0.9"/><rect x="997.8" y="390.12" width="1.2" height="32.38" fill="#fff0a0" opacity="0.7"/><rect x="1008.1" y="404.08" width="3.8" height="18.92" fill="#b45cf0" stroke="#5a16a8" stroke-width="0.9"/><rect x="1008.8" y="405.08" width="1.2" height="17.42" fill="#d9a6fa" opacity="0.7"/><rect x="1005" y="413.54" width="3.8" height="9.46" fill="#f6dc52" stroke="#a88a12" stroke-width="0.9"/><rect x="1005.7" y="414.54" width="1.2" height="7.96" fill="#fff0a0" opacity="0.7"/><rect x="1016" y="420.36" width="3.8" height="2.64" fill="#b45cf0" stroke="#5a16a8" stroke-width="0.9"/><rect x="1016.7" y="421.36" width="1.2" height="1.14" fill="#d9a6fa" opacity="0.7"/><rect x="1023.9" y="378.34" width="3.8" height="44.66" fill="#b45cf0" stroke="#5a16a8" stroke-width="0.9"/><rect x="1024.6" y="379.34" width="1.2" height="43.16" fill="#d9a6fa" opacity="0.7"/><rect x="1020.8" y="392.64" width="3.8" height="30.36" fill="#f6dc52" stroke="#a88a12" stroke-width="0.9"/><rect x="1021.5" y="393.64" width="1.2" height="28.86" fill="#fff0a0" opacity="0.7"/><rect x="1031.8" y="409.58" width="3.8" height="13.42" fill="#b45cf0" stroke="#5a16a8" stroke-width="0.9"/><rect x="1032.5" y="410.58" width="1.2" height="11.92" fill="#d9a6fa" opacity="0.7"/><rect x="1028.7" y="416.4" width="3.8" height="6.6" fill="#f6dc52" stroke="#a88a12" stroke-width="0.9"/><rect x="1029.4" y="417.4" width="1.2" height="5.1" fill="#fff0a0" opacity="0.7"/><rect x="1134.5" y="416.4" width="3.8" height="6.6" fill="#b45cf0" stroke="#5a16a8" stroke-width="0.9"/><rect x="1135.2" y="417.4" width="1.2" height="5.1" fill="#d9a6fa" opacity="0.7"/><rect x="1142.4" y="413.54" width="3.8" height="9.46" fill="#b45cf0" stroke="#5a16a8" stroke-width="0.9"/><rect x="1143.1" y="414.54" width="1.2" height="7.96" fill="#d9a6fa" opacity="0.7"/><rect x="1139.3" y="410.9" width="3.8" height="12.1" fill="#f6dc52" stroke="#a88a12" stroke-width="0.9"/><rect x="1140" y="411.9" width="1.2" height="10.6" fill="#fff0a0" opacity="0.7"/><rect x="1150.3" y="344.46" width="3.8" height="78.54" fill="#b45cf0" stroke="#5a16a8" stroke-width="0.9"/><rect x="1151" y="345.46" width="1.2" height="77.04" fill="#d9a6fa" opacity="0.7"/><rect x="1147.2" y="355.46" width="3.8" height="67.54" fill="#f6dc52" stroke="#a88a12" stroke-width="0.9"/><rect x="1147.9" y="356.46" width="1.2" height="66.04" fill="#fff0a0" opacity="0.7"/><rect x="1158.2" y="417.5" width="3.8" height="5.5" fill="#b45cf0" stroke="#5a16a8" stroke-width="0.9"/><rect x="1158.9" y="418.5" width="1.2" height="4" fill="#d9a6fa" opacity="0.7"/><rect x="1155.1" y="417.5" width="3.8" height="5.5" fill="#f6dc52" stroke="#a88a12" stroke-width="0.9"/><rect x="1155.8" y="418.5" width="1.2" height="4" fill="#fff0a0" opacity="0.7"/><rect x="1166.1" y="364.04" width="3.8" height="58.96" fill="#b45cf0" stroke="#5a16a8" stroke-width="0.9"/><rect x="1166.8" y="365.04" width="1.2" height="57.46" fill="#d9a6fa" opacity="0.7"/><rect x="1163" y="370.2" width="3.8" height="52.8" fill="#f6dc52" stroke="#a88a12" stroke-width="0.9"/><rect x="1163.7" y="371.2" width="1.2" height="51.3" fill="#fff0a0" opacity="0.7"/><rect x="1174" y="420.8" width="3.8" height="2.2" fill="#b45cf0" stroke="#5a16a8" stroke-width="0.9"/><rect x="1174.7" y="421.8" width="1.2" height="0.7" fill="#d9a6fa" opacity="0.7"/><rect x="1170.9" y="420.8" width="3.8" height="2.2" fill="#f6dc52" stroke="#a88a12" stroke-width="0.9"/><rect x="1171.6" y="421.8" width="1.2" height="0.7" fill="#fff0a0" opacity="0.7"/><rect x="1181.9" y="410.9" width="3.8" height="12.1" fill="#b45cf0" stroke="#5a16a8" stroke-width="0.9"/><rect x="1182.6" y="411.9" width="1.2" height="10.6" fill="#d9a6fa" opacity="0.7"/><rect x="1178.8" y="412.66" width="3.8" height="10.34" fill="#f6dc52" stroke="#a88a12" stroke-width="0.9"/><rect x="1179.5" y="413.66" width="1.2" height="8.84" fill="#fff0a0" opacity="0.7"/><rect x="1197.7" y="402.76" width="3.8" height="20.24" fill="#b45cf0" stroke="#5a16a8" stroke-width="0.9"/><rect x="1198.4" y="403.76" width="1.2" height="18.74" fill="#d9a6fa" opacity="0.7"/><rect x="1194.6" y="414.86" width="3.8" height="8.14" fill="#f6dc52" stroke="#a88a12" stroke-width="0.9"/><rect x="1195.3" y="415.86" width="1.2" height="6.64" fill="#fff0a0" opacity="0.7"/><rect x="1213.5" y="408.92" width="3.8" height="14.08" fill="#b45cf0" stroke="#5a16a8" stroke-width="0.9"/><rect x="1214.2" y="409.92" width="1.2" height="12.58" fill="#d9a6fa" opacity="0.7"/><rect x="1210.4" y="419.04" width="3.8" height="3.96" fill="#f6dc52" stroke="#a88a12" stroke-width="0.9"/><rect x="1211.1" y="420.04" width="1.2" height="2.46" fill="#fff0a0" opacity="0.7"/><rect x="1237.2" y="419.48" width="3.8" height="3.52" fill="#b45cf0" stroke="#5a16a8" stroke-width="0.9"/><rect x="1237.9" y="420.48" width="1.2" height="2.02" fill="#d9a6fa" opacity="0.7"/><rect x="1245.1" y="417.06" width="3.8" height="5.94" fill="#b45cf0" stroke="#5a16a8" stroke-width="0.9"/><rect x="1245.8" y="418.06" width="1.2" height="4.44" fill="#d9a6fa" opacity="0.7"/><rect x="1324.1" y="416.4" width="3.8" height="6.6" fill="#b45cf0" stroke="#5a16a8" stroke-width="0.9"/><rect x="1324.8" y="417.4" width="1.2" height="5.1" fill="#d9a6fa" opacity="0.7"/><rect x="1347.8" y="420.14" width="3.8" height="2.86" fill="#b45cf0" stroke="#5a16a8" stroke-width="0.9"/><rect x="1348.5" y="421.14" width="1.2" height="1.36" fill="#d9a6fa" opacity="0.7"/><rect x="1355.7" y="418.6" width="3.8" height="4.4" fill="#b45cf0" stroke="#5a16a8" stroke-width="0.9"/><rect x="1356.4" y="419.6" width="1.2" height="2.9" fill="#d9a6fa" opacity="0.7"/><rect x="1363.6" y="416.62" width="3.8" height="6.38" fill="#b45cf0" stroke="#5a16a8" stroke-width="0.9"/><rect x="1364.3" y="417.62" width="1.2" height="4.88" fill="#d9a6fa" opacity="0.7"/><rect x="1371.5" y="359.2" width="3.8" height="63.8" fill="#b45cf0" stroke="#5a16a8" stroke-width="0.9"/><rect x="1372.2" y="360.2" width="1.2" height="62.3" fill="#d9a6fa" opacity="0.7"/><rect x="1368.4" y="395.28" width="3.8" height="27.72" fill="#f6dc52" stroke="#a88a12" stroke-width="0.9"/><rect x="1369.1" y="396.28" width="1.2" height="26.22" fill="#fff0a0" opacity="0.7"/><rect x="1379.4" y="378.56" width="3.8" height="44.44" fill="#b45cf0" stroke="#5a16a8" stroke-width="0.9"/><rect x="1380.1" y="379.56" width="1.2" height="42.94" fill="#d9a6fa" opacity="0.7"/><rect x="1376.3" y="397.48" width="3.8" height="25.52" fill="#f6dc52" stroke="#a88a12" stroke-width="0.9"/><rect x="1377" y="398.48" width="1.2" height="24.02" fill="#fff0a0" opacity="0.7"/><rect x="1387.3" y="420.8" width="3.8" height="2.2" fill="#b45cf0" stroke="#5a16a8" stroke-width="0.9"/><rect x="1388" y="421.8" width="1.2" height="0.7" fill="#d9a6fa" opacity="0.7"/><rect x="1395.2" y="420.14" width="3.8" height="2.86" fill="#b45cf0" stroke="#5a16a8" stroke-width="0.9"/><rect x="1395.9" y="421.14" width="1.2" height="1.36" fill="#d9a6fa" opacity="0.7"/><rect x="1392.1" y="420.8" width="3.8" height="2.2" fill="#f6dc52" stroke="#a88a12" stroke-width="0.9"/><rect x="1392.8" y="421.8" width="1.2" height="0.7" fill="#fff0a0" opacity="0.7"/><rect x="1403.1" y="414.64" width="3.8" height="8.36" fill="#b45cf0" stroke="#5a16a8" stroke-width="0.9"/><rect x="1403.8" y="415.64" width="1.2" height="6.86" fill="#d9a6fa" opacity="0.7"/><rect x="1400" y="417.5" width="3.8" height="5.5" fill="#f6dc52" stroke="#a88a12" stroke-width="0.9"/><rect x="1400.7" y="418.5" width="1.2" height="4" fill="#fff0a0" opacity="0.7"/><rect x="1411" y="418.6" width="3.8" height="4.4" fill="#b45cf0" stroke="#5a16a8" stroke-width="0.9"/><rect x="1411.7" y="419.6" width="1.2" height="2.9" fill="#d9a6fa" opacity="0.7"/><rect x="1407.9" y="420.8" width="3.8" height="2.2" fill="#f6dc52" stroke="#a88a12" stroke-width="0.9"/><rect x="1408.6" y="421.8" width="1.2" height="0.7" fill="#fff0a0" opacity="0.7"/><rect x="1418.9" y="414.64" width="3.8" height="8.36" fill="#b45cf0" stroke="#5a16a8" stroke-width="0.9"/><rect x="1419.6" y="415.64" width="1.2" height="6.86" fill="#d9a6fa" opacity="0.7"/><rect x="1426.8" y="350.4" width="3.8" height="72.6" fill="#b45cf0" stroke="#5a16a8" stroke-width="0.9"/><rect x="1427.5" y="351.4" width="1.2" height="71.1" fill="#d9a6fa" opacity="0.7"/><rect x="1423.7" y="374.6" width="3.8" height="48.4" fill="#f6dc52" stroke="#a88a12" stroke-width="0.9"/><rect x="1424.4" y="375.6" width="1.2" height="46.9" fill="#fff0a0" opacity="0.7"/><rect x="1434.7" y="420.8" width="3.8" height="2.2" fill="#b45cf0" stroke="#5a16a8" stroke-width="0.9"/><rect x="1435.4" y="421.8" width="1.2" height="0.7" fill="#d9a6fa" opacity="0.7"/><rect x="1442.6" y="406.28" width="3.8" height="16.72" fill="#b45cf0" stroke="#5a16a8" stroke-width="0.9"/><rect x="1443.3" y="407.28" width="1.2" height="15.22" fill="#d9a6fa" opacity="0.7"/><rect x="1439.5" y="413.32" width="3.8" height="9.68" fill="#f6dc52" stroke="#a88a12" stroke-width="0.9"/><rect x="1440.2" y="414.32" width="1.2" height="8.18" fill="#fff0a0" opacity="0.7"/><rect x="1450.5" y="420.8" width="3.8" height="2.2" fill="#b45cf0" stroke="#5a16a8" stroke-width="0.9"/><rect x="1451.2" y="421.8" width="1.2" height="0.7" fill="#d9a6fa" opacity="0.7"/><rect x="1458.4" y="418.6" width="3.8" height="4.4" fill="#b45cf0" stroke="#5a16a8" stroke-width="0.9"/><rect x="1459.1" y="419.6" width="1.2" height="2.9" fill="#d9a6fa" opacity="0.7"/><rect x="1455.3" y="420.8" width="3.8" height="2.2" fill="#f6dc52" stroke="#a88a12" stroke-width="0.9"/><rect x="1456" y="421.8" width="1.2" height="0.7" fill="#fff0a0" opacity="0.7"/><rect x="1474.2" y="413.32" width="3.8" height="9.68" fill="#b45cf0" stroke="#5a16a8" stroke-width="0.9"/><rect x="1474.9" y="414.32" width="1.2" height="8.18" fill="#d9a6fa" opacity="0.7"/><rect x="1471.1" y="417.5" width="3.8" height="5.5" fill="#f6dc52" stroke="#a88a12" stroke-width="0.9"/><rect x="1471.8" y="418.5" width="1.2" height="4" fill="#fff0a0" opacity="0.7"/><rect x="1521.6" y="415.3" width="3.8" height="7.7" fill="#b45cf0" stroke="#5a16a8" stroke-width="0.9"/><rect x="1522.3" y="416.3" width="1.2" height="6.2" fill="#d9a6fa" opacity="0.7"/><rect x="1537.4" y="420.14" width="3.8" height="2.86" fill="#b45cf0" stroke="#5a16a8" stroke-width="0.9"/><rect x="1538.1" y="421.14" width="1.2" height="1.36" fill="#d9a6fa" opacity="0.7"/><rect x="1576.9" y="407.6" width="3.8" height="15.4" fill="#b45cf0" stroke="#5a16a8" stroke-width="0.9"/><rect x="1577.6" y="408.6" width="1.2" height="13.9" fill="#d9a6fa" opacity="0.7"/><rect x="1573.8" y="420.14" width="3.8" height="2.86" fill="#f6dc52" stroke="#a88a12" stroke-width="0.9"/><rect x="1574.5" y="421.14" width="1.2" height="1.36" fill="#fff0a0" opacity="0.7"/><rect x="1605.4" y="370.2" width="3.8" height="52.8" fill="#f6dc52" stroke="#a88a12" stroke-width="0.9"/><rect x="1606.1" y="371.2" width="1.2" height="51.3" fill="#fff0a0" opacity="0.7"/><text x="879.3" y="443.2" text-anchor="middle" font-size="11" fill="#7a7a7a" textLength="5" lengthAdjust="spacingAndGlyphs">1</text><text x="895.1" y="443.2" text-anchor="middle" font-size="11" fill="#7a7a7a" textLength="5" lengthAdjust="spacingAndGlyphs">3</text><text x="910.9" y="443.2" text-anchor="middle" font-size="11" fill="#7a7a7a" textLength="5" lengthAdjust="spacingAndGlyphs">5</text><text x="926.7" y="443.2" text-anchor="middle" font-size="11" fill="#7a7a7a" textLength="5" lengthAdjust="spacingAndGlyphs">7</text><text x="942.5" y="443.2" text-anchor="middle" font-size="11" fill="#7a7a7a" textLength="5" lengthAdjust="spacingAndGlyphs">9</text><text x="958.3" y="443.2" text-anchor="middle" font-size="11" fill="#7a7a7a" textLength="10" lengthAdjust="spacingAndGlyphs">11</text><text x="974.1" y="443.2" text-anchor="middle" font-size="11" fill="#7a7a7a" textLength="10" lengthAdjust="spacingAndGlyphs">13</text><text x="989.9" y="443.2" text-anchor="middle" font-size="11" fill="#7a7a7a" textLength="10" lengthAdjust="spacingAndGlyphs">15</text><text x="1005.7" y="443.2" text-anchor="middle" font-size="11" fill="#7a7a7a" textLength="10" lengthAdjust="spacingAndGlyphs">17</text><text x="1021.5" y="443.2" text-anchor="middle" font-size="11" fill="#7a7a7a" textLength="10" lengthAdjust="spacingAndGlyphs">19</text><text x="1037.3" y="443.2" text-anchor="middle" font-size="11" fill="#7a7a7a" textLength="10" lengthAdjust="spacingAndGlyphs">21</text><text x="1053.1" y="443.2" text-anchor="middle" font-size="11" fill="#7a7a7a" textLength="10" lengthAdjust="spacingAndGlyphs">23</text><text x="1068.9" y="443.2" text-anchor="middle" font-size="11" fill="#7a7a7a" textLength="10" lengthAdjust="spacingAndGlyphs">25</text><text x="1084.7" y="443.2" text-anchor="middle" font-size="11" fill="#7a7a7a" textLength="10" lengthAdjust="spacingAndGlyphs">27</text><text x="1100.5" y="443.2" text-anchor="middle" font-size="11" fill="#7a7a7a" textLength="10" lengthAdjust="spacingAndGlyphs">29</text><text x="1116.3" y="443.2" text-anchor="middle" font-size="11" fill="#7a7a7a" textLength="10" lengthAdjust="spacingAndGlyphs">31</text><text x="1132.1" y="443.2" text-anchor="middle" font-size="11" fill="#7a7a7a" textLength="10" lengthAdjust="spacingAndGlyphs">33</text><text x="1147.9" y="443.2" text-anchor="middle" font-size="11" fill="#7a7a7a" textLength="10" lengthAdjust="spacingAndGlyphs">35</text><text x="1163.7" y="443.2" text-anchor="middle" font-size="11" fill="#7a7a7a" textLength="10" lengthAdjust="spacingAndGlyphs">37</text><text x="1179.5" y="443.2" text-anchor="middle" font-size="11" fill="#7a7a7a" textLength="10" lengthAdjust="spacingAndGlyphs">39</text><text x="1195.3" y="443.2" text-anchor="middle" font-size="11" fill="#7a7a7a" textLength="10" lengthAdjust="spacingAndGlyphs">41</text><text x="1211.1" y="443.2" text-anchor="middle" font-size="11" fill="#7a7a7a" textLength="10" lengthAdjust="spacingAndGlyphs">43</text><text x="1226.9" y="443.2" text-anchor="middle" font-size="11" fill="#7a7a7a" textLength="10" lengthAdjust="spacingAndGlyphs">45</text><text x="1242.7" y="443.2" text-anchor="middle" font-size="11" fill="#7a7a7a" textLength="10" lengthAdjust="spacingAndGlyphs">47</text><text x="1258.5" y="443.2" text-anchor="middle" font-size="11" fill="#7a7a7a" textLength="10" lengthAdjust="spacingAndGlyphs">49</text><text x="1274.3" y="443.2" text-anchor="middle" font-size="11" fill="#7a7a7a" textLength="10" lengthAdjust="spacingAndGlyphs">51</text><text x="1290.1" y="443.2" text-anchor="middle" font-size="11" fill="#7a7a7a" textLength="10" lengthAdjust="spacingAndGlyphs">53</text><text x="1305.9" y="443.2" text-anchor="middle" font-size="11" fill="#7a7a7a" textLength="10" lengthAdjust="spacingAndGlyphs">55</text><text x="1321.7" y="443.2" text-anchor="middle" font-size="11" fill="#7a7a7a" textLength="10" lengthAdjust="spacingAndGlyphs">57</text><text x="1337.5" y="443.2" text-anchor="middle" font-size="11" fill="#7a7a7a" textLength="10" lengthAdjust="spacingAndGlyphs">59</text><text x="1353.3" y="443.2" text-anchor="middle" font-size="11" fill="#7a7a7a" textLength="10" lengthAdjust="spacingAndGlyphs">61</text><text x="1369.1" y="443.2" text-anchor="middle" font-size="11" fill="#7a7a7a" textLength="10" lengthAdjust="spacingAndGlyphs">63</text><text x="1384.9" y="443.2" text-anchor="middle" font-size="11" fill="#7a7a7a" textLength="10" lengthAdjust="spacingAndGlyphs">65</text><text x="1400.7" y="443.2" text-anchor="middle" font-size="11" fill="#7a7a7a" textLength="10" lengthAdjust="spacingAndGlyphs">67</text><text x="1416.5" y="443.2" text-anchor="middle" font-size="11" fill="#7a7a7a" textLength="10" lengthAdjust="spacingAndGlyphs">69</text><text x="1432.3" y="443.2" text-anchor="middle" font-size="11" fill="#7a7a7a" textLength="10" lengthAdjust="spacingAndGlyphs">71</text><text x="1448.1" y="443.2" text-anchor="middle" font-size="11" fill="#7a7a7a" textLength="10" lengthAdjust="spacingAndGlyphs">73</text><text x="1463.9" y="443.2" text-anchor="middle" font-size="11" fill="#7a7a7a" textLength="10" lengthAdjust="spacingAndGlyphs">75</text><text x="1479.7" y="443.2" text-anchor="middle" font-size="11" fill="#7a7a7a" textLength="10" lengthAdjust="spacingAndGlyphs">77</text><text x="1495.5" y="443.2" text-anchor="middle" font-size="11" fill="#7a7a7a" textLength="10" lengthAdjust="spacingAndGlyphs">79</text><text x="1511.3" y="443.2" text-anchor="middle" font-size="11" fill="#7a7a7a" textLength="10" lengthAdjust="spacingAndGlyphs">81</text><text x="1527.1" y="443.2" text-anchor="middle" font-size="11" fill="#7a7a7a" textLength="10" lengthAdjust="spacingAndGlyphs">83</text><text x="1542.9" y="443.2" text-anchor="middle" font-size="11" fill="#7a7a7a" textLength="10" lengthAdjust="spacingAndGlyphs">85</text><text x="1558.7" y="443.2" text-anchor="middle" font-size="11" fill="#7a7a7a" textLength="10" lengthAdjust="spacingAndGlyphs">87</text><text x="1574.5" y="443.2" text-anchor="middle" font-size="11" fill="#7a7a7a" textLength="10" lengthAdjust="spacingAndGlyphs">89</text><text x="1590.3" y="443.2" text-anchor="middle" font-size="11" fill="#7a7a7a" textLength="10" lengthAdjust="spacingAndGlyphs">91</text><text x="1606.1" y="443.2" text-anchor="middle" font-size="11" fill="#7a7a7a" textLength="10" lengthAdjust="spacingAndGlyphs">93</text><text x="1621.9" y="443.2" text-anchor="middle" font-size="11" fill="#7a7a7a" textLength="10" lengthAdjust="spacingAndGlyphs">95</text><text x="1637.7" y="443.2" text-anchor="middle" font-size="11" fill="#7a7a7a" textLength="10" lengthAdjust="spacingAndGlyphs">97</text><text x="1653.5" y="443.2" text-anchor="middle" font-size="11" fill="#7a7a7a" textLength="10" lengthAdjust="spacingAndGlyphs">99</text><rect x="875" y="510.5" width="788.6" height="15.5" fill="#f9f9fa" stroke="#e8e8ea" stroke-width="0.8"/><rect x="946.9" y="511.5" width="1.8" height="13.5" fill="#8eaadb"/><rect x="953.9" y="511.5" width="1.8" height="13.5" fill="#8eaadb"/><rect x="986.1" y="511.5" width="1.8" height="13.5" fill="#8eaadb"/><rect x="990.6" y="511.5" width="1.8" height="13.5" fill="#8eaadb"/><rect x="993.1" y="511.5" width="1.8" height="13.5" fill="#8eaadb"/><rect x="995.6" y="511.5" width="1.8" height="13.5" fill="#8eaadb"/><rect x="998.1" y="511.5" width="1.8" height="13.5" fill="#8eaadb"/><rect x="1000.6" y="511.5" width="1.8" height="13.5" fill="#8eaadb"/><rect x="1007.3" y="511.5" width="1.8" height="13.5" fill="#8eaadb"/><rect x="1012.1" y="511.5" width="1.8" height="13.5" fill="#8eaadb"/><rect x="1035.4" y="511.5" width="1.8" height="13.5" fill="#8eaadb"/><rect x="1049.6" y="511.5" width="1.8" height="13.5" fill="#8eaadb"/><rect x="1052.9" y="511.5" width="1.8" height="13.5" fill="#8eaadb"/><rect x="1055.9" y="511.5" width="1.8" height="13.5" fill="#8eaadb"/><rect x="1059.1" y="511.5" width="1.8" height="13.5" fill="#8eaadb"/><rect x="1064.1" y="511.5" width="1.8" height="13.5" fill="#8eaadb"/><rect x="1068.1" y="511.5" width="1.8" height="13.5" fill="#8eaadb"/><rect x="1079.8" y="511.5" width="1.8" height="13.5" fill="#8eaadb"/><rect x="1082.1" y="511.5" width="1.8" height="13.5" fill="#8eaadb"/><rect x="1085.9" y="511.5" width="1.8" height="13.5" fill="#8eaadb"/><rect x="1121.5" y="511.5" width="1.8" height="13.5" fill="#8eaadb"/><rect x="1144.7" y="511.5" width="1.8" height="13.5" fill="#8eaadb"/><rect x="1194" y="511.5" width="1.8" height="13.5" fill="#8eaadb"/><rect x="1197.6" y="511.5" width="1.8" height="13.5" fill="#8eaadb"/><rect x="1203.1" y="511.5" width="1.8" height="13.5" fill="#8eaadb"/><rect x="1210.1" y="511.5" width="1.8" height="13.5" fill="#8eaadb"/><rect x="1213.7" y="511.5" width="1.8" height="13.5" fill="#8eaadb"/><rect x="1249.1" y="511.5" width="1.8" height="13.5" fill="#8eaadb"/><rect x="1253.1" y="511.5" width="1.8" height="13.5" fill="#8eaadb"/><rect x="1257.4" y="511.5" width="1.8" height="13.5" fill="#8eaadb"/><rect x="1261.6" y="511.5" width="1.8" height="13.5" fill="#8eaadb"/><rect x="1265.5" y="511.5" width="1.8" height="13.5" fill="#8eaadb"/><rect x="1268.6" y="511.5" width="1.8" height="13.5" fill="#8eaadb"/><rect x="1272.1" y="511.5" width="1.8" height="13.5" fill="#8eaadb"/><rect x="1275.5" y="511.5" width="1.8" height="13.5" fill="#8eaadb"/><rect x="1278.6" y="511.5" width="1.8" height="13.5" fill="#8eaadb"/><rect x="1282.1" y="511.5" width="1.8" height="13.5" fill="#8eaadb"/><rect x="1284.6" y="511.5" width="1.8" height="13.5" fill="#8eaadb"/><rect x="1288.1" y="511.5" width="1.8" height="13.5" fill="#8eaadb"/><rect x="1291.1" y="511.5" width="1.8" height="13.5" fill="#8eaadb"/><rect x="1293.6" y="511.5" width="1.8" height="13.5" fill="#8eaadb"/><rect x="1296.6" y="511.5" width="1.8" height="13.5" fill="#8eaadb"/><rect x="1299.6" y="511.5" width="1.8" height="13.5" fill="#8eaadb"/><rect x="1442.1" y="511.5" width="1.8" height="13.5" fill="#8eaadb"/><rect x="1495.9" y="511.5" width="1.8" height="13.5" fill="#8eaadb"/><path d="M873.8 663.33L876.3 661.2H1663" fill="none" stroke="#d9d9d9" stroke-width="1.3"/><path d="M873.8 642.33L876.3 640.2H1663" fill="none" stroke="#d9d9d9" stroke-width="1.3"/><path d="M873.8 621.33L876.3 619.2H1663" fill="none" stroke="#d9d9d9" stroke-width="1.3"/><path d="M873.8 600.33L876.3 598.2H1663" fill="none" stroke="#d9d9d9" stroke-width="1.3"/><path d="M873.8 579.33L876.3 577.2H1663" fill="none" stroke="#d9d9d9" stroke-width="1.3"/><path d="M873.8 558.33L876.3 556.2H1663" fill="none" stroke="#d9d9d9" stroke-width="1.3"/><path d="M873.8 537.33L876.3 535.2H1663" fill="none" stroke="#d9d9d9" stroke-width="1.3"/><line x1="1668" y1="531" x2="1668" y2="664" stroke="#e3e3e3" stroke-width="1"/><text x="865.3" y="668.1" text-anchor="end" font-size="12" fill="#7a7a7a" textLength="5.2" lengthAdjust="spacingAndGlyphs">0</text><text x="865.3" y="647.1" text-anchor="end" font-size="12" fill="#7a7a7a" textLength="10.4" lengthAdjust="spacingAndGlyphs">10</text><text x="865.3" y="626.1" text-anchor="end" font-size="12" fill="#7a7a7a" textLength="10.4" lengthAdjust="spacingAndGlyphs">20</text><text x="865.3" y="605.1" text-anchor="end" font-size="12" fill="#7a7a7a" textLength="10.4" lengthAdjust="spacingAndGlyphs">30</text><text x="865.3" y="584.1" text-anchor="end" font-size="12" fill="#7a7a7a" textLength="10.4" lengthAdjust="spacingAndGlyphs">40</text><text x="865.3" y="563.1" text-anchor="end" font-size="12" fill="#7a7a7a" textLength="10.4" lengthAdjust="spacingAndGlyphs">50</text><text x="865.3" y="542.1" text-anchor="end" font-size="12" fill="#7a7a7a" textLength="10.4" lengthAdjust="spacingAndGlyphs">60</text><path d="M875 660.15h1.9v1.05h-1.9zM876.79 659.1h1.9v2.1h-1.9zM878.58 659.1h1.9v2.1h-1.9zM880.37 645.45h1.9v15.75h-1.9zM882.16 646.5h1.9v14.7h-1.9zM883.95 654.9h1.9v6.3h-1.9zM885.74 650.07h1.9v11.13h-1.9zM887.53 659.1h1.9v2.1h-1.9zM889.32 660.15h1.9v1.05h-1.9zM891.11 659.1h1.9v2.1h-1.9zM892.9 660.15h1.9v1.05h-1.9zM894.69 651.54h1.9v9.66h-1.9zM896.48 660.15h1.9v1.05h-1.9zM898.27 659.1h1.9v2.1h-1.9zM900.06 660.15h1.9v1.05h-1.9zM901.85 659.1h1.9v2.1h-1.9zM903.64 660.15h1.9v1.05h-1.9zM905.43 659.1h1.9v2.1h-1.9zM907.22 660.15h1.9v1.05h-1.9zM909.01 645.45h1.9v15.75h-1.9zM910.8 657h1.9v4.2h-1.9zM912.59 659.1h1.9v2.1h-1.9zM914.38 660.15h1.9v1.05h-1.9zM916.17 660.15h1.9v1.05h-1.9zM917.96 660.15h1.9v1.05h-1.9zM919.75 660.15h1.9v1.05h-1.9zM921.54 660.15h1.9v1.05h-1.9zM923.33 660.15h1.9v1.05h-1.9zM925.12 654.48h1.9v6.72h-1.9zM926.91 659.1h1.9v2.1h-1.9zM928.7 660.15h1.9v1.05h-1.9zM930.49 654.48h1.9v6.72h-1.9zM932.28 657h1.9v4.2h-1.9zM934.07 660.15h1.9v1.05h-1.9zM935.86 657h1.9v4.2h-1.9zM937.65 659.1h1.9v2.1h-1.9zM939.44 595.68h1.9v65.52h-1.9zM941.23 657h1.9v4.2h-1.9zM943.02 644.4h1.9v16.8h-1.9zM944.81 547.38h1.9v113.82h-1.9zM946.6 638.52h1.9v22.68h-1.9zM948.39 651.54h1.9v9.66h-1.9zM950.18 654.9h1.9v6.3h-1.9zM951.97 643.35h1.9v17.85h-1.9zM953.76 657h1.9v4.2h-1.9zM955.55 660.15h1.9v1.05h-1.9zM957.34 660.15h1.9v1.05h-1.9zM959.13 657h1.9v4.2h-1.9zM960.92 630.33h1.9v30.87h-1.9zM962.71 659.1h1.9v2.1h-1.9zM964.5 660.15h1.9v1.05h-1.9zM966.29 659.1h1.9v2.1h-1.9zM968.08 660.15h1.9v1.05h-1.9zM969.87 660.15h1.9v1.05h-1.9zM971.66 659.1h1.9v2.1h-1.9zM973.45 660.15h1.9v1.05h-1.9zM975.24 660.15h1.9v1.05h-1.9zM977.03 660.15h1.9v1.05h-1.9zM978.82 660.15h1.9v1.05h-1.9zM980.61 603.24h1.9v57.96h-1.9zM982.4 659.1h1.9v2.1h-1.9zM984.19 660.15h1.9v1.05h-1.9zM985.98 657h1.9v4.2h-1.9zM987.77 655.95h1.9v5.25h-1.9zM989.56 653.01h1.9v8.19h-1.9zM991.35 657h1.9v4.2h-1.9zM993.14 650.7h1.9v10.5h-1.9zM994.93 643.98h1.9v17.22h-1.9zM996.72 654.9h1.9v6.3h-1.9zM998.51 659.1h1.9v2.1h-1.9zM1000.3 648.6h1.9v12.6h-1.9zM1002.09 660.15h1.9v1.05h-1.9zM1003.88 660.15h1.9v1.05h-1.9zM1005.67 656.16h1.9v5.04h-1.9zM1007.46 657h1.9v4.2h-1.9zM1009.25 660.15h1.9v1.05h-1.9zM1011.04 660.15h1.9v1.05h-1.9zM1012.83 660.15h1.9v1.05h-1.9zM1014.62 660.15h1.9v1.05h-1.9zM1016.41 660.15h1.9v1.05h-1.9zM1018.2 660.15h1.9v1.05h-1.9zM1019.99 660.15h1.9v1.05h-1.9zM1021.78 660.15h1.9v1.05h-1.9zM1023.57 660.15h1.9v1.05h-1.9zM1025.36 660.15h1.9v1.05h-1.9zM1027.15 660.15h1.9v1.05h-1.9zM1028.94 660.15h1.9v1.05h-1.9zM1030.73 660.15h1.9v1.05h-1.9zM1032.52 660.15h1.9v1.05h-1.9zM1034.31 635.79h1.9v25.41h-1.9zM1036.1 659.1h1.9v2.1h-1.9zM1037.89 660.15h1.9v1.05h-1.9zM1039.68 660.15h1.9v1.05h-1.9zM1041.47 660.15h1.9v1.05h-1.9zM1043.26 660.15h1.9v1.05h-1.9zM1045.05 660.15h1.9v1.05h-1.9zM1046.84 660.15h1.9v1.05h-1.9zM1048.63 643.98h1.9v17.22h-1.9zM1050.42 660.15h1.9v1.05h-1.9zM1052.21 657h1.9v4.2h-1.9zM1054 646.92h1.9v14.28h-1.9zM1055.79 654.9h1.9v6.3h-1.9zM1057.58 622.77h1.9v38.43h-1.9zM1059.37 654.9h1.9v6.3h-1.9zM1061.16 660.15h1.9v1.05h-1.9zM1062.95 653.01h1.9v8.19h-1.9zM1064.74 660.15h1.9v1.05h-1.9zM1066.53 650.07h1.9v11.13h-1.9zM1068.32 660.15h1.9v1.05h-1.9zM1070.11 660.15h1.9v1.05h-1.9zM1071.9 660.15h1.9v1.05h-1.9zM1073.69 660.15h1.9v1.05h-1.9zM1075.48 660.15h1.9v1.05h-1.9zM1077.27 659.1h1.9v2.1h-1.9zM1079.06 660.15h1.9v1.05h-1.9zM1080.85 660.15h1.9v1.05h-1.9zM1082.64 656.16h1.9v5.04h-1.9zM1084.43 660.15h1.9v1.05h-1.9zM1086.22 660.15h1.9v1.05h-1.9zM1088.01 657h1.9v4.2h-1.9zM1089.8 660.15h1.9v1.05h-1.9zM1091.59 551.79h1.9v109.41h-1.9zM1093.38 566.91h1.9v94.29h-1.9zM1095.17 657h1.9v4.2h-1.9zM1096.96 660.15h1.9v1.05h-1.9zM1098.75 660.15h1.9v1.05h-1.9zM1100.54 660.15h1.9v1.05h-1.9zM1102.33 660.15h1.9v1.05h-1.9zM1104.12 660.15h1.9v1.05h-1.9zM1105.91 660.15h1.9v1.05h-1.9zM1107.7 660.15h1.9v1.05h-1.9zM1109.49 660.15h1.9v1.05h-1.9zM1111.28 659.1h1.9v2.1h-1.9zM1113.07 660.15h1.9v1.05h-1.9zM1114.86 563.34h1.9v97.86h-1.9zM1116.65 660.15h1.9v1.05h-1.9zM1118.44 660.15h1.9v1.05h-1.9zM1120.23 651.54h1.9v9.66h-1.9zM1122.02 657h1.9v4.2h-1.9zM1123.81 660.15h1.9v1.05h-1.9zM1125.6 660.15h1.9v1.05h-1.9zM1127.39 637.26h1.9v23.94h-1.9zM1129.18 659.1h1.9v2.1h-1.9zM1130.97 660.15h1.9v1.05h-1.9zM1132.76 659.1h1.9v2.1h-1.9zM1134.55 660.15h1.9v1.05h-1.9zM1136.34 660.15h1.9v1.05h-1.9zM1138.13 660.15h1.9v1.05h-1.9zM1139.92 660.15h1.9v1.05h-1.9zM1141.71 660.15h1.9v1.05h-1.9zM1143.5 660.15h1.9v1.05h-1.9zM1145.29 660.15h1.9v1.05h-1.9zM1147.08 660.15h1.9v1.05h-1.9zM1148.87 660.15h1.9v1.05h-1.9zM1150.66 660.15h1.9v1.05h-1.9zM1152.45 660.15h1.9v1.05h-1.9zM1154.24 660.15h1.9v1.05h-1.9zM1156.03 653.01h1.9v8.19h-1.9zM1157.82 660.15h1.9v1.05h-1.9zM1159.61 660.15h1.9v1.05h-1.9zM1161.4 660.15h1.9v1.05h-1.9zM1163.19 642.51h1.9v18.69h-1.9zM1164.98 660.15h1.9v1.05h-1.9zM1166.77 660.15h1.9v1.05h-1.9zM1168.56 659.1h1.9v2.1h-1.9zM1170.35 660.15h1.9v1.05h-1.9zM1172.14 660.15h1.9v1.05h-1.9zM1173.93 660.15h1.9v1.05h-1.9zM1175.72 657h1.9v4.2h-1.9zM1177.51 650.7h1.9v10.5h-1.9zM1179.3 660.15h1.9v1.05h-1.9zM1181.09 598.2h1.9v63h-1.9zM1182.88 582.24h1.9v78.96h-1.9zM1184.67 597.15h1.9v64.05h-1.9zM1186.46 654.9h1.9v6.3h-1.9zM1188.25 660.15h1.9v1.05h-1.9zM1190.04 640.2h1.9v21h-1.9zM1191.83 604.08h1.9v57.12h-1.9zM1193.62 660.15h1.9v1.05h-1.9zM1195.41 640.41h1.9v20.79h-1.9zM1197.2 657h1.9v4.2h-1.9zM1198.99 660.15h1.9v1.05h-1.9zM1200.78 660.15h1.9v1.05h-1.9zM1202.57 606.18h1.9v55.02h-1.9zM1204.36 660.15h1.9v1.05h-1.9zM1206.15 660.15h1.9v1.05h-1.9zM1207.94 660.15h1.9v1.05h-1.9zM1209.73 653.64h1.9v7.56h-1.9zM1211.52 660.15h1.9v1.05h-1.9zM1213.31 649.44h1.9v11.76h-1.9zM1215.1 660.15h1.9v1.05h-1.9zM1216.89 660.15h1.9v1.05h-1.9zM1218.68 659.1h1.9v2.1h-1.9zM1220.47 660.15h1.9v1.05h-1.9zM1222.26 660.15h1.9v1.05h-1.9zM1224.05 643.14h1.9v18.06h-1.9zM1225.84 660.15h1.9v1.05h-1.9zM1227.63 654.9h1.9v6.3h-1.9zM1229.42 660.15h1.9v1.05h-1.9zM1231.21 630.33h1.9v30.87h-1.9zM1233 657h1.9v4.2h-1.9zM1234.79 660.15h1.9v1.05h-1.9zM1236.58 636.42h1.9v24.78h-1.9zM1238.37 657h1.9v4.2h-1.9zM1240.16 660.15h1.9v1.05h-1.9zM1241.95 640.2h1.9v21h-1.9zM1243.74 600.3h1.9v60.9h-1.9zM1245.53 660.15h1.9v1.05h-1.9zM1247.32 660.15h1.9v1.05h-1.9zM1249.11 640.2h1.9v21h-1.9zM1250.9 580.77h1.9v80.43h-1.9zM1252.69 657h1.9v4.2h-1.9zM1254.48 628.02h1.9v33.18h-1.9zM1256.27 640.2h1.9v21h-1.9zM1258.06 660.15h1.9v1.05h-1.9zM1259.85 660.15h1.9v1.05h-1.9zM1261.64 660.15h1.9v1.05h-1.9zM1263.43 660.15h1.9v1.05h-1.9zM1265.22 650.91h1.9v10.29h-1.9zM1267.01 660.15h1.9v1.05h-1.9zM1268.8 651.54h1.9v9.66h-1.9zM1270.59 660.15h1.9v1.05h-1.9zM1272.38 660.15h1.9v1.05h-1.9zM1274.17 649.44h1.9v11.76h-1.9zM1275.96 657h1.9v4.2h-1.9zM1277.75 660.15h1.9v1.05h-1.9zM1279.54 646.92h1.9v14.28h-1.9zM1281.33 660.15h1.9v1.05h-1.9zM1283.12 647.55h1.9v13.65h-1.9zM1284.91 660.15h1.9v1.05h-1.9zM1286.7 660.15h1.9v1.05h-1.9zM1288.49 660.15h1.9v1.05h-1.9zM1290.28 660.15h1.9v1.05h-1.9zM1292.07 660.15h1.9v1.05h-1.9zM1293.86 660.15h1.9v1.05h-1.9zM1295.65 660.15h1.9v1.05h-1.9zM1297.44 660.15h1.9v1.05h-1.9zM1299.23 660.15h1.9v1.05h-1.9zM1301.02 653.01h1.9v8.19h-1.9zM1302.81 660.15h1.9v1.05h-1.9zM1304.6 660.15h1.9v1.05h-1.9zM1306.39 660.15h1.9v1.05h-1.9zM1308.18 657h1.9v4.2h-1.9zM1309.97 630.96h1.9v30.24h-1.9zM1311.76 660.15h1.9v1.05h-1.9zM1313.55 610.38h1.9v50.82h-1.9zM1315.34 660.15h1.9v1.05h-1.9zM1317.13 660.15h1.9v1.05h-1.9zM1318.92 612.9h1.9v48.3h-1.9zM1320.71 660.15h1.9v1.05h-1.9zM1322.5 639.15h1.9v22.05h-1.9zM1324.29 657h1.9v4.2h-1.9zM1326.08 660.15h1.9v1.05h-1.9zM1327.87 660.15h1.9v1.05h-1.9zM1329.66 660.15h1.9v1.05h-1.9zM1331.45 660.15h1.9v1.05h-1.9zM1333.24 660.15h1.9v1.05h-1.9zM1335.03 660.15h1.9v1.05h-1.9zM1336.82 660.15h1.9v1.05h-1.9zM1338.61 660.15h1.9v1.05h-1.9zM1340.4 660.15h1.9v1.05h-1.9zM1342.19 659.1h1.9v2.1h-1.9zM1343.98 660.15h1.9v1.05h-1.9zM1345.77 660.15h1.9v1.05h-1.9zM1347.56 660.15h1.9v1.05h-1.9zM1349.35 660.15h1.9v1.05h-1.9zM1351.14 660.15h1.9v1.05h-1.9zM1352.93 660.15h1.9v1.05h-1.9zM1354.72 660.15h1.9v1.05h-1.9zM1356.51 660.15h1.9v1.05h-1.9zM1358.3 660.15h1.9v1.05h-1.9zM1360.09 657h1.9v4.2h-1.9zM1361.88 609.75h1.9v51.45h-1.9zM1363.67 660.15h1.9v1.05h-1.9zM1365.46 660.15h1.9v1.05h-1.9zM1367.25 641.46h1.9v19.74h-1.9zM1369.04 657h1.9v4.2h-1.9zM1370.83 660.15h1.9v1.05h-1.9zM1372.62 624.87h1.9v36.33h-1.9zM1374.41 660.15h1.9v1.05h-1.9zM1376.2 657h1.9v4.2h-1.9zM1377.99 660.15h1.9v1.05h-1.9zM1379.78 660.15h1.9v1.05h-1.9zM1381.57 649.02h1.9v12.18h-1.9zM1383.36 660.15h1.9v1.05h-1.9zM1385.15 660.15h1.9v1.05h-1.9zM1386.94 649.65h1.9v11.55h-1.9zM1388.73 660.15h1.9v1.05h-1.9zM1390.52 645.45h1.9v15.75h-1.9zM1392.31 660.15h1.9v1.05h-1.9zM1394.1 660.15h1.9v1.05h-1.9zM1395.89 630.96h1.9v30.24h-1.9zM1397.68 612.27h1.9v48.93h-1.9zM1399.47 657h1.9v4.2h-1.9zM1401.26 594.63h1.9v66.57h-1.9zM1403.05 660.15h1.9v1.05h-1.9zM1404.84 650.7h1.9v10.5h-1.9zM1406.63 643.98h1.9v17.22h-1.9zM1408.42 660.15h1.9v1.05h-1.9zM1410.21 660.15h1.9v1.05h-1.9zM1412 660.15h1.9v1.05h-1.9zM1413.79 660.15h1.9v1.05h-1.9zM1415.58 660.15h1.9v1.05h-1.9zM1417.37 660.15h1.9v1.05h-1.9zM1419.16 660.15h1.9v1.05h-1.9zM1420.95 657h1.9v4.2h-1.9zM1422.74 660.15h1.9v1.05h-1.9zM1424.53 660.15h1.9v1.05h-1.9zM1426.32 660.15h1.9v1.05h-1.9zM1428.11 660.15h1.9v1.05h-1.9zM1429.9 660.15h1.9v1.05h-1.9zM1431.69 660.15h1.9v1.05h-1.9zM1433.48 649.65h1.9v11.55h-1.9zM1435.27 660.15h1.9v1.05h-1.9zM1437.06 660.15h1.9v1.05h-1.9zM1438.85 660.15h1.9v1.05h-1.9zM1440.64 660.15h1.9v1.05h-1.9zM1442.43 660.15h1.9v1.05h-1.9zM1444.22 659.1h1.9v2.1h-1.9zM1446.01 660.15h1.9v1.05h-1.9zM1447.8 660.15h1.9v1.05h-1.9zM1449.59 657h1.9v4.2h-1.9zM1451.38 556.41h1.9v104.79h-1.9zM1453.17 660.15h1.9v1.05h-1.9zM1454.96 653.01h1.9v8.19h-1.9zM1456.75 657h1.9v4.2h-1.9zM1458.54 584.97h1.9v76.23h-1.9zM1460.33 660.15h1.9v1.05h-1.9zM1462.12 660.15h1.9v1.05h-1.9zM1463.91 655.11h1.9v6.09h-1.9zM1465.7 660.15h1.9v1.05h-1.9zM1467.49 660.15h1.9v1.05h-1.9zM1469.28 660.15h1.9v1.05h-1.9zM1471.07 660.15h1.9v1.05h-1.9zM1472.86 657h1.9v4.2h-1.9zM1474.65 637.05h1.9v24.15h-1.9zM1476.44 660.15h1.9v1.05h-1.9zM1478.23 660.15h1.9v1.05h-1.9zM1480.02 660.15h1.9v1.05h-1.9zM1481.81 660.15h1.9v1.05h-1.9zM1483.6 660.15h1.9v1.05h-1.9zM1485.39 660.15h1.9v1.05h-1.9zM1487.18 657h1.9v4.2h-1.9zM1488.97 660.15h1.9v1.05h-1.9zM1490.76 660.15h1.9v1.05h-1.9zM1492.55 659.1h1.9v2.1h-1.9zM1494.34 660.15h1.9v1.05h-1.9zM1496.13 660.15h1.9v1.05h-1.9zM1497.92 650.7h1.9v10.5h-1.9zM1499.71 660.15h1.9v1.05h-1.9zM1501.5 660.15h1.9v1.05h-1.9zM1503.29 660.15h1.9v1.05h-1.9zM1505.08 660.15h1.9v1.05h-1.9zM1506.87 660.15h1.9v1.05h-1.9zM1508.66 660.15h1.9v1.05h-1.9zM1510.45 660.15h1.9v1.05h-1.9zM1512.24 657h1.9v4.2h-1.9zM1514.03 577.41h1.9v83.79h-1.9zM1515.82 621.93h1.9v39.27h-1.9zM1517.61 641.46h1.9v19.74h-1.9zM1519.4 660.15h1.9v1.05h-1.9zM1521.19 647.55h1.9v13.65h-1.9zM1522.98 648.18h1.9v13.02h-1.9zM1524.77 660.15h1.9v1.05h-1.9zM1526.56 660.15h1.9v1.05h-1.9zM1528.35 657h1.9v4.2h-1.9zM1530.14 610.8h1.9v50.4h-1.9zM1531.93 660.15h1.9v1.05h-1.9zM1533.72 657h1.9v4.2h-1.9zM1535.51 660.15h1.9v1.05h-1.9zM1537.3 657h1.9v4.2h-1.9zM1539.09 622.77h1.9v38.43h-1.9zM1540.88 660.15h1.9v1.05h-1.9zM1542.67 660.15h1.9v1.05h-1.9zM1544.46 660.15h1.9v1.05h-1.9zM1546.25 657h1.9v4.2h-1.9zM1548.04 608.28h1.9v52.92h-1.9zM1549.83 600.72h1.9v60.48h-1.9zM1551.62 660.15h1.9v1.05h-1.9zM1553.41 660.15h1.9v1.05h-1.9zM1555.2 643.14h1.9v18.06h-1.9zM1556.99 634.11h1.9v27.09h-1.9zM1558.78 660.15h1.9v1.05h-1.9zM1560.57 660.15h1.9v1.05h-1.9zM1562.36 660.15h1.9v1.05h-1.9zM1564.15 657h1.9v4.2h-1.9zM1565.94 628.86h1.9v32.34h-1.9zM1567.73 660.15h1.9v1.05h-1.9zM1569.52 660.15h1.9v1.05h-1.9zM1571.31 657h1.9v4.2h-1.9zM1573.1 648.18h1.9v13.02h-1.9zM1574.89 660.15h1.9v1.05h-1.9zM1576.68 660.15h1.9v1.05h-1.9zM1578.47 660.15h1.9v1.05h-1.9zM1580.26 657h1.9v4.2h-1.9zM1582.05 618.99h1.9v42.21h-1.9zM1583.84 660.15h1.9v1.05h-1.9zM1585.63 660.15h1.9v1.05h-1.9zM1587.42 660.15h1.9v1.05h-1.9zM1589.21 657h1.9v4.2h-1.9zM1591 593.16h1.9v68.04h-1.9zM1592.79 660.15h1.9v1.05h-1.9zM1594.58 657h1.9v4.2h-1.9zM1596.37 580.56h1.9v80.64h-1.9zM1598.16 653.64h1.9v7.56h-1.9zM1599.95 660.15h1.9v1.05h-1.9zM1601.74 660.15h1.9v1.05h-1.9zM1603.53 660.15h1.9v1.05h-1.9zM1605.32 660.15h1.9v1.05h-1.9zM1607.11 660.15h1.9v1.05h-1.9zM1608.9 658.05h1.9v3.15h-1.9zM1610.69 660.15h1.9v1.05h-1.9zM1612.48 657h1.9v4.2h-1.9zM1614.27 643.98h1.9v17.22h-1.9zM1616.06 660.15h1.9v1.05h-1.9zM1617.85 660.15h1.9v1.05h-1.9zM1619.64 659.1h1.9v2.1h-1.9zM1621.43 660.15h1.9v1.05h-1.9zM1623.22 660.15h1.9v1.05h-1.9zM1625.01 660.15h1.9v1.05h-1.9zM1626.8 660.15h1.9v1.05h-1.9zM1628.59 660.15h1.9v1.05h-1.9zM1630.38 660.15h1.9v1.05h-1.9zM1632.17 660.15h1.9v1.05h-1.9zM1633.96 660.15h1.9v1.05h-1.9zM1635.75 660.15h1.9v1.05h-1.9zM1637.54 660.15h1.9v1.05h-1.9zM1639.33 660.15h1.9v1.05h-1.9zM1641.12 660.15h1.9v1.05h-1.9zM1642.91 660.15h1.9v1.05h-1.9zM1644.7 660.15h1.9v1.05h-1.9zM1646.49 657h1.9v4.2h-1.9zM1648.28 591.06h1.9v70.14h-1.9zM1650.07 660.15h1.9v1.05h-1.9zM1651.86 657h1.9v4.2h-1.9zM1653.65 543.39h1.9v117.81h-1.9zM1655.44 657h1.9v4.2h-1.9zM1657.23 641.46h1.9v19.74h-1.9zM1659.02 660.15h1.9v1.05h-1.9zM1660.81 656.58h1.9v4.62h-1.9z" fill="#6a2ac8"/><path d="M873.6 660.15h1.9v1.05h-1.9zM875.39 659.1h1.9v2.1h-1.9zM877.18 657h1.9v4.2h-1.9zM878.97 654.9h1.9v6.3h-1.9zM880.76 646.5h1.9v14.7h-1.9zM882.55 650.7h1.9v10.5h-1.9zM884.34 659.1h1.9v2.1h-1.9zM886.13 660.15h1.9v1.05h-1.9zM887.92 660.15h1.9v1.05h-1.9zM889.71 660.15h1.9v1.05h-1.9zM891.5 660.15h1.9v1.05h-1.9zM893.29 659.1h1.9v2.1h-1.9zM895.08 660.15h1.9v1.05h-1.9zM896.87 659.1h1.9v2.1h-1.9zM898.66 660.15h1.9v1.05h-1.9zM900.45 659.1h1.9v2.1h-1.9zM902.24 660.15h1.9v1.05h-1.9zM904.03 659.1h1.9v2.1h-1.9zM905.82 660.15h1.9v1.05h-1.9zM907.61 653.01h1.9v8.19h-1.9zM909.4 654.9h1.9v6.3h-1.9zM911.19 659.1h1.9v2.1h-1.9zM912.98 660.15h1.9v1.05h-1.9zM914.77 660.15h1.9v1.05h-1.9zM916.56 659.1h1.9v2.1h-1.9zM918.35 660.15h1.9v1.05h-1.9zM920.14 660.15h1.9v1.05h-1.9zM921.93 660.15h1.9v1.05h-1.9zM923.72 659.1h1.9v2.1h-1.9zM925.51 659.1h1.9v2.1h-1.9zM927.3 660.15h1.9v1.05h-1.9zM929.09 659.1h1.9v2.1h-1.9zM930.88 657h1.9v4.2h-1.9zM932.67 660.15h1.9v1.05h-1.9zM934.46 646.92h1.9v14.28h-1.9zM936.25 568.38h1.9v92.82h-1.9zM938.04 654.9h1.9v6.3h-1.9zM939.83 657h1.9v4.2h-1.9zM941.62 542.76h1.9v118.44h-1.9zM943.41 654.9h1.9v6.3h-1.9zM945.2 657h1.9v4.2h-1.9zM946.99 659.1h1.9v2.1h-1.9zM948.78 654.9h1.9v6.3h-1.9zM950.57 659.1h1.9v2.1h-1.9zM952.36 659.1h1.9v2.1h-1.9zM954.15 660.15h1.9v1.05h-1.9zM955.94 660.15h1.9v1.05h-1.9zM957.73 654.9h1.9v6.3h-1.9zM959.52 634.95h1.9v26.25h-1.9zM961.31 659.1h1.9v2.1h-1.9zM963.1 660.15h1.9v1.05h-1.9zM964.89 659.1h1.9v2.1h-1.9zM966.68 660.15h1.9v1.05h-1.9zM968.47 660.15h1.9v1.05h-1.9zM970.26 660.15h1.9v1.05h-1.9zM972.05 660.15h1.9v1.05h-1.9zM973.84 660.15h1.9v1.05h-1.9zM975.63 660.15h1.9v1.05h-1.9zM977.42 660.15h1.9v1.05h-1.9zM979.21 619.83h1.9v41.37h-1.9zM981 659.1h1.9v2.1h-1.9zM982.79 660.15h1.9v1.05h-1.9zM984.58 659.1h1.9v2.1h-1.9zM986.37 657h1.9v4.2h-1.9zM988.16 659.1h1.9v2.1h-1.9zM989.95 659.1h1.9v2.1h-1.9zM991.74 654.9h1.9v6.3h-1.9zM993.53 654.9h1.9v6.3h-1.9zM995.32 657h1.9v4.2h-1.9zM997.11 657h1.9v4.2h-1.9zM998.9 659.1h1.9v2.1h-1.9zM1000.69 660.15h1.9v1.05h-1.9zM1002.48 660.15h1.9v1.05h-1.9zM1004.27 659.1h1.9v2.1h-1.9zM1006.06 659.1h1.9v2.1h-1.9zM1007.85 660.15h1.9v1.05h-1.9zM1009.64 660.15h1.9v1.05h-1.9zM1011.43 660.15h1.9v1.05h-1.9zM1013.22 660.15h1.9v1.05h-1.9zM1015.01 660.15h1.9v1.05h-1.9zM1016.8 660.15h1.9v1.05h-1.9zM1018.59 660.15h1.9v1.05h-1.9zM1020.38 660.15h1.9v1.05h-1.9zM1022.17 660.15h1.9v1.05h-1.9zM1023.96 660.15h1.9v1.05h-1.9zM1025.75 660.15h1.9v1.05h-1.9zM1027.54 660.15h1.9v1.05h-1.9zM1029.33 660.15h1.9v1.05h-1.9zM1031.12 660.15h1.9v1.05h-1.9zM1032.91 641.04h1.9v20.16h-1.9zM1034.7 659.1h1.9v2.1h-1.9zM1036.49 660.15h1.9v1.05h-1.9zM1038.28 660.15h1.9v1.05h-1.9zM1040.07 660.15h1.9v1.05h-1.9zM1041.86 660.15h1.9v1.05h-1.9zM1043.65 660.15h1.9v1.05h-1.9zM1045.44 660.15h1.9v1.05h-1.9zM1047.23 659.1h1.9v2.1h-1.9zM1049.02 660.15h1.9v1.05h-1.9zM1050.81 657h1.9v4.2h-1.9zM1052.6 650.7h1.9v10.5h-1.9zM1054.39 654.9h1.9v6.3h-1.9zM1056.18 627.39h1.9v33.81h-1.9zM1057.97 654.9h1.9v6.3h-1.9zM1059.76 660.15h1.9v1.05h-1.9zM1061.55 659.1h1.9v2.1h-1.9zM1063.34 660.15h1.9v1.05h-1.9zM1065.13 659.1h1.9v2.1h-1.9zM1066.92 660.15h1.9v1.05h-1.9zM1068.71 660.15h1.9v1.05h-1.9zM1070.5 660.15h1.9v1.05h-1.9zM1072.29 660.15h1.9v1.05h-1.9zM1074.08 660.15h1.9v1.05h-1.9zM1075.87 660.15h1.9v1.05h-1.9zM1077.66 660.15h1.9v1.05h-1.9zM1079.45 660.15h1.9v1.05h-1.9zM1081.24 659.1h1.9v2.1h-1.9zM1083.03 660.15h1.9v1.05h-1.9zM1084.82 660.15h1.9v1.05h-1.9zM1086.61 659.1h1.9v2.1h-1.9zM1088.4 660.15h1.9v1.05h-1.9zM1090.19 553.26h1.9v107.94h-1.9zM1091.98 654.9h1.9v6.3h-1.9zM1093.77 657h1.9v4.2h-1.9zM1095.56 660.15h1.9v1.05h-1.9zM1097.35 660.15h1.9v1.05h-1.9zM1099.14 660.15h1.9v1.05h-1.9zM1100.93 660.15h1.9v1.05h-1.9zM1102.72 660.15h1.9v1.05h-1.9zM1104.51 660.15h1.9v1.05h-1.9zM1106.3 660.15h1.9v1.05h-1.9zM1108.09 660.15h1.9v1.05h-1.9zM1109.88 659.1h1.9v2.1h-1.9zM1111.67 660.15h1.9v1.05h-1.9zM1113.46 591.06h1.9v70.14h-1.9zM1115.25 660.15h1.9v1.05h-1.9zM1117.04 660.15h1.9v1.05h-1.9zM1118.83 659.1h1.9v2.1h-1.9zM1120.62 659.1h1.9v2.1h-1.9zM1122.41 660.15h1.9v1.05h-1.9zM1124.2 660.15h1.9v1.05h-1.9zM1125.99 643.98h1.9v17.22h-1.9zM1127.78 659.1h1.9v2.1h-1.9zM1129.57 660.15h1.9v1.05h-1.9zM1131.36 659.1h1.9v2.1h-1.9zM1133.15 660.15h1.9v1.05h-1.9zM1134.94 660.15h1.9v1.05h-1.9zM1136.73 660.15h1.9v1.05h-1.9zM1138.52 660.15h1.9v1.05h-1.9zM1140.31 660.15h1.9v1.05h-1.9zM1142.1 660.15h1.9v1.05h-1.9zM1143.89 660.15h1.9v1.05h-1.9zM1145.68 660.15h1.9v1.05h-1.9zM1147.47 660.15h1.9v1.05h-1.9zM1149.26 660.15h1.9v1.05h-1.9zM1151.05 660.15h1.9v1.05h-1.9zM1152.84 660.15h1.9v1.05h-1.9zM1154.63 659.1h1.9v2.1h-1.9zM1156.42 660.15h1.9v1.05h-1.9zM1158.21 660.15h1.9v1.05h-1.9zM1160 660.15h1.9v1.05h-1.9zM1161.79 659.1h1.9v2.1h-1.9zM1163.58 660.15h1.9v1.05h-1.9zM1165.37 660.15h1.9v1.05h-1.9zM1167.16 654.48h1.9v6.72h-1.9zM1168.95 660.15h1.9v1.05h-1.9zM1170.74 660.15h1.9v1.05h-1.9zM1172.53 660.15h1.9v1.05h-1.9zM1174.32 650.07h1.9v11.13h-1.9zM1176.11 652.8h1.9v8.4h-1.9zM1177.9 660.15h1.9v1.05h-1.9zM1179.69 603.24h1.9v57.96h-1.9zM1181.48 586.65h1.9v74.55h-1.9zM1183.27 657h1.9v4.2h-1.9zM1185.06 654.9h1.9v6.3h-1.9zM1186.85 660.15h1.9v1.05h-1.9zM1188.64 586.65h1.9v74.55h-1.9zM1190.43 657h1.9v4.2h-1.9zM1192.22 660.15h1.9v1.05h-1.9zM1194.01 659.1h1.9v2.1h-1.9zM1195.8 659.1h1.9v2.1h-1.9zM1197.59 660.15h1.9v1.05h-1.9zM1199.38 660.15h1.9v1.05h-1.9zM1201.17 659.1h1.9v2.1h-1.9zM1202.96 660.15h1.9v1.05h-1.9zM1204.75 660.15h1.9v1.05h-1.9zM1206.54 660.15h1.9v1.05h-1.9zM1208.33 659.1h1.9v2.1h-1.9zM1210.12 660.15h1.9v1.05h-1.9zM1211.91 659.1h1.9v2.1h-1.9zM1213.7 660.15h1.9v1.05h-1.9zM1215.49 660.15h1.9v1.05h-1.9zM1217.28 659.1h1.9v2.1h-1.9zM1219.07 660.15h1.9v1.05h-1.9zM1220.86 660.15h1.9v1.05h-1.9zM1222.65 657h1.9v4.2h-1.9zM1224.44 660.15h1.9v1.05h-1.9zM1226.23 654.9h1.9v6.3h-1.9zM1228.02 660.15h1.9v1.05h-1.9zM1229.81 641.04h1.9v20.16h-1.9zM1231.6 654.9h1.9v6.3h-1.9zM1233.39 660.15h1.9v1.05h-1.9zM1235.18 648.6h1.9v12.6h-1.9zM1236.97 657h1.9v4.2h-1.9zM1238.76 660.15h1.9v1.05h-1.9zM1240.55 610.17h1.9v51.03h-1.9zM1242.34 654.9h1.9v6.3h-1.9zM1244.13 660.15h1.9v1.05h-1.9zM1245.92 660.15h1.9v1.05h-1.9zM1247.71 553.89h1.9v107.31h-1.9zM1249.5 654.9h1.9v6.3h-1.9zM1251.29 657h1.9v4.2h-1.9zM1253.08 638.1h1.9v23.1h-1.9zM1254.87 654.9h1.9v6.3h-1.9zM1256.66 660.15h1.9v1.05h-1.9zM1258.45 660.15h1.9v1.05h-1.9zM1260.24 660.15h1.9v1.05h-1.9zM1262.03 660.15h1.9v1.05h-1.9zM1263.82 659.1h1.9v2.1h-1.9zM1265.61 660.15h1.9v1.05h-1.9zM1267.4 659.1h1.9v2.1h-1.9zM1269.19 660.15h1.9v1.05h-1.9zM1270.98 660.15h1.9v1.05h-1.9zM1272.77 659.1h1.9v2.1h-1.9zM1274.56 657h1.9v4.2h-1.9zM1276.35 660.15h1.9v1.05h-1.9zM1278.14 659.1h1.9v2.1h-1.9zM1279.93 660.15h1.9v1.05h-1.9zM1281.72 659.1h1.9v2.1h-1.9zM1283.51 660.15h1.9v1.05h-1.9zM1285.3 660.15h1.9v1.05h-1.9zM1287.09 660.15h1.9v1.05h-1.9zM1288.88 660.15h1.9v1.05h-1.9zM1290.67 660.15h1.9v1.05h-1.9zM1292.46 660.15h1.9v1.05h-1.9zM1294.25 660.15h1.9v1.05h-1.9zM1296.04 660.15h1.9v1.05h-1.9zM1297.83 660.15h1.9v1.05h-1.9zM1299.62 659.1h1.9v2.1h-1.9zM1301.41 660.15h1.9v1.05h-1.9zM1303.2 660.15h1.9v1.05h-1.9zM1304.99 660.15h1.9v1.05h-1.9zM1306.78 629.49h1.9v31.71h-1.9zM1308.57 657h1.9v4.2h-1.9zM1310.36 660.15h1.9v1.05h-1.9zM1312.15 625.5h1.9v35.7h-1.9zM1313.94 660.15h1.9v1.05h-1.9zM1315.73 660.15h1.9v1.05h-1.9zM1317.52 625.5h1.9v35.7h-1.9zM1319.31 660.15h1.9v1.05h-1.9zM1321.1 650.7h1.9v10.5h-1.9zM1322.89 659.1h1.9v2.1h-1.9zM1324.68 660.15h1.9v1.05h-1.9zM1326.47 660.15h1.9v1.05h-1.9zM1328.26 660.15h1.9v1.05h-1.9zM1330.05 660.15h1.9v1.05h-1.9zM1331.84 660.15h1.9v1.05h-1.9zM1333.63 660.15h1.9v1.05h-1.9zM1335.42 660.15h1.9v1.05h-1.9zM1337.21 660.15h1.9v1.05h-1.9zM1339 660.15h1.9v1.05h-1.9zM1340.79 659.1h1.9v2.1h-1.9zM1342.58 660.15h1.9v1.05h-1.9zM1344.37 660.15h1.9v1.05h-1.9zM1346.16 660.15h1.9v1.05h-1.9zM1347.95 660.15h1.9v1.05h-1.9zM1349.74 660.15h1.9v1.05h-1.9zM1351.53 660.15h1.9v1.05h-1.9zM1353.32 660.15h1.9v1.05h-1.9zM1355.11 660.15h1.9v1.05h-1.9zM1356.9 660.15h1.9v1.05h-1.9zM1358.69 617.31h1.9v43.89h-1.9zM1360.48 657h1.9v4.2h-1.9zM1362.27 660.15h1.9v1.05h-1.9zM1364.06 660.15h1.9v1.05h-1.9zM1365.85 641.46h1.9v19.74h-1.9zM1367.64 621.93h1.9v39.27h-1.9zM1369.43 660.15h1.9v1.05h-1.9zM1371.22 657h1.9v4.2h-1.9zM1373.01 660.15h1.9v1.05h-1.9zM1374.8 626.55h1.9v34.65h-1.9zM1376.59 660.15h1.9v1.05h-1.9zM1378.38 660.15h1.9v1.05h-1.9zM1380.17 659.1h1.9v2.1h-1.9zM1381.96 660.15h1.9v1.05h-1.9zM1383.75 660.15h1.9v1.05h-1.9zM1385.54 659.1h1.9v2.1h-1.9zM1387.33 660.15h1.9v1.05h-1.9zM1389.12 659.1h1.9v2.1h-1.9zM1390.91 660.15h1.9v1.05h-1.9zM1392.7 660.15h1.9v1.05h-1.9zM1394.49 646.08h1.9v15.12h-1.9zM1396.28 657h1.9v4.2h-1.9zM1398.07 608.28h1.9v52.92h-1.9zM1399.86 657h1.9v4.2h-1.9zM1401.65 660.15h1.9v1.05h-1.9zM1403.44 659.1h1.9v2.1h-1.9zM1405.23 659.1h1.9v2.1h-1.9zM1407.02 660.15h1.9v1.05h-1.9zM1408.81 660.15h1.9v1.05h-1.9zM1410.6 660.15h1.9v1.05h-1.9zM1412.39 660.15h1.9v1.05h-1.9zM1414.18 660.15h1.9v1.05h-1.9zM1415.97 660.15h1.9v1.05h-1.9zM1417.76 660.15h1.9v1.05h-1.9zM1419.55 659.1h1.9v2.1h-1.9zM1421.34 660.15h1.9v1.05h-1.9zM1423.13 660.15h1.9v1.05h-1.9zM1424.92 660.15h1.9v1.05h-1.9zM1426.71 660.15h1.9v1.05h-1.9zM1428.5 660.15h1.9v1.05h-1.9zM1430.29 660.15h1.9v1.05h-1.9zM1432.08 659.1h1.9v2.1h-1.9zM1433.87 660.15h1.9v1.05h-1.9zM1435.66 660.15h1.9v1.05h-1.9zM1437.45 660.15h1.9v1.05h-1.9zM1439.24 660.15h1.9v1.05h-1.9zM1441.03 660.15h1.9v1.05h-1.9zM1442.82 659.1h1.9v2.1h-1.9zM1444.61 660.15h1.9v1.05h-1.9zM1446.4 660.15h1.9v1.05h-1.9zM1448.19 568.38h1.9v92.82h-1.9zM1449.98 657h1.9v4.2h-1.9zM1451.77 660.15h1.9v1.05h-1.9zM1453.56 659.1h1.9v2.1h-1.9zM1455.35 605.34h1.9v55.86h-1.9zM1457.14 657h1.9v4.2h-1.9zM1458.93 660.15h1.9v1.05h-1.9zM1460.72 660.15h1.9v1.05h-1.9zM1462.51 659.1h1.9v2.1h-1.9zM1464.3 660.15h1.9v1.05h-1.9zM1466.09 660.15h1.9v1.05h-1.9zM1467.88 660.15h1.9v1.05h-1.9zM1469.67 660.15h1.9v1.05h-1.9zM1471.46 652.17h1.9v9.03h-1.9zM1473.25 657h1.9v4.2h-1.9zM1475.04 660.15h1.9v1.05h-1.9zM1476.83 660.15h1.9v1.05h-1.9zM1478.62 660.15h1.9v1.05h-1.9zM1480.41 660.15h1.9v1.05h-1.9zM1482.2 660.15h1.9v1.05h-1.9zM1483.99 660.15h1.9v1.05h-1.9zM1485.78 659.1h1.9v2.1h-1.9zM1487.57 660.15h1.9v1.05h-1.9zM1489.36 660.15h1.9v1.05h-1.9zM1491.15 654.48h1.9v6.72h-1.9zM1492.94 660.15h1.9v1.05h-1.9zM1494.73 660.15h1.9v1.05h-1.9zM1496.52 659.1h1.9v2.1h-1.9zM1498.31 660.15h1.9v1.05h-1.9zM1500.1 660.15h1.9v1.05h-1.9zM1501.89 660.15h1.9v1.05h-1.9zM1503.68 660.15h1.9v1.05h-1.9zM1505.47 660.15h1.9v1.05h-1.9zM1507.26 660.15h1.9v1.05h-1.9zM1509.05 660.15h1.9v1.05h-1.9zM1510.84 597.78h1.9v63.42h-1.9zM1512.63 635.58h1.9v25.62h-1.9zM1514.42 657h1.9v4.2h-1.9zM1516.21 659.1h1.9v2.1h-1.9zM1518 660.15h1.9v1.05h-1.9zM1519.79 659.1h1.9v2.1h-1.9zM1521.58 659.1h1.9v2.1h-1.9zM1523.37 660.15h1.9v1.05h-1.9zM1525.16 660.15h1.9v1.05h-1.9zM1526.95 623.4h1.9v37.8h-1.9zM1528.74 657h1.9v4.2h-1.9zM1530.53 660.15h1.9v1.05h-1.9zM1532.32 597.78h1.9v63.42h-1.9zM1534.11 660.15h1.9v1.05h-1.9zM1535.9 603.87h1.9v57.33h-1.9zM1537.69 657h1.9v4.2h-1.9zM1539.48 660.15h1.9v1.05h-1.9zM1541.27 660.15h1.9v1.05h-1.9zM1543.06 660.15h1.9v1.05h-1.9zM1544.85 629.49h1.9v31.71h-1.9zM1546.64 628.02h1.9v33.18h-1.9zM1548.43 657h1.9v4.2h-1.9zM1550.22 660.15h1.9v1.05h-1.9zM1552.01 660.15h1.9v1.05h-1.9zM1553.8 644.61h1.9v16.59h-1.9zM1555.59 657h1.9v4.2h-1.9zM1557.38 660.15h1.9v1.05h-1.9zM1559.17 660.15h1.9v1.05h-1.9zM1560.96 660.15h1.9v1.05h-1.9zM1562.75 641.46h1.9v19.74h-1.9zM1564.54 657h1.9v4.2h-1.9zM1566.33 660.15h1.9v1.05h-1.9zM1568.12 660.15h1.9v1.05h-1.9zM1569.91 647.55h1.9v13.65h-1.9zM1571.7 657h1.9v4.2h-1.9zM1573.49 660.15h1.9v1.05h-1.9zM1575.28 660.15h1.9v1.05h-1.9zM1577.07 660.15h1.9v1.05h-1.9zM1578.86 596.31h1.9v64.89h-1.9zM1580.65 657h1.9v4.2h-1.9zM1582.44 660.15h1.9v1.05h-1.9zM1584.23 660.15h1.9v1.05h-1.9zM1586.02 660.15h1.9v1.05h-1.9zM1587.81 615.84h1.9v45.36h-1.9zM1589.6 657h1.9v4.2h-1.9zM1591.39 660.15h1.9v1.05h-1.9zM1593.18 584.13h1.9v77.07h-1.9zM1594.97 657h1.9v4.2h-1.9zM1596.76 659.1h1.9v2.1h-1.9zM1598.55 660.15h1.9v1.05h-1.9zM1600.34 660.15h1.9v1.05h-1.9zM1602.13 660.15h1.9v1.05h-1.9zM1603.92 660.15h1.9v1.05h-1.9zM1605.71 660.15h1.9v1.05h-1.9zM1607.5 659.1h1.9v2.1h-1.9zM1609.29 660.15h1.9v1.05h-1.9zM1611.08 649.02h1.9v12.18h-1.9zM1612.87 657h1.9v4.2h-1.9zM1614.66 660.15h1.9v1.05h-1.9zM1616.45 660.15h1.9v1.05h-1.9zM1618.24 659.1h1.9v2.1h-1.9zM1620.03 660.15h1.9v1.05h-1.9zM1621.82 660.15h1.9v1.05h-1.9zM1623.61 660.15h1.9v1.05h-1.9zM1625.4 660.15h1.9v1.05h-1.9zM1627.19 660.15h1.9v1.05h-1.9zM1628.98 660.15h1.9v1.05h-1.9zM1630.77 660.15h1.9v1.05h-1.9zM1632.56 660.15h1.9v1.05h-1.9zM1634.35 660.15h1.9v1.05h-1.9zM1636.14 660.15h1.9v1.05h-1.9zM1637.93 660.15h1.9v1.05h-1.9zM1639.72 660.15h1.9v1.05h-1.9zM1641.51 660.15h1.9v1.05h-1.9zM1643.3 660.15h1.9v1.05h-1.9zM1645.09 608.28h1.9v52.92h-1.9zM1646.88 657h1.9v4.2h-1.9zM1648.67 660.15h1.9v1.05h-1.9zM1650.46 544.86h1.9v116.34h-1.9zM1652.25 657h1.9v4.2h-1.9zM1654.04 637.05h1.9v24.15h-1.9zM1655.83 657h1.9v4.2h-1.9zM1657.62 660.15h1.9v1.05h-1.9zM1659.41 659.1h1.9v2.1h-1.9z" fill="#c8981c"/><rect x="875" y="660.2" width="788" height="1.6" fill="#c8981c" opacity="0.85"/><text x="874.7" y="680.8" text-anchor="middle" font-size="11" fill="#7a7a7a" textLength="5.5" lengthAdjust="spacingAndGlyphs">1</text><text x="892.6" y="680.8" text-anchor="middle" font-size="11" fill="#7a7a7a" textLength="11" lengthAdjust="spacingAndGlyphs">11</text><text x="910.5" y="680.8" text-anchor="middle" font-size="11" fill="#7a7a7a" textLength="11" lengthAdjust="spacingAndGlyphs">21</text><text x="928.4" y="680.8" text-anchor="middle" font-size="11" fill="#7a7a7a" textLength="11" lengthAdjust="spacingAndGlyphs">31</text><text x="946.3" y="680.8" text-anchor="middle" font-size="11" fill="#7a7a7a" textLength="11" lengthAdjust="spacingAndGlyphs">41</text><text x="964.2" y="680.8" text-anchor="middle" font-size="11" fill="#7a7a7a" textLength="11" lengthAdjust="spacingAndGlyphs">51</text><text x="982.1" y="680.8" text-anchor="middle" font-size="11" fill="#7a7a7a" textLength="11" lengthAdjust="spacingAndGlyphs">61</text><text x="1000" y="680.8" text-anchor="middle" font-size="11" fill="#7a7a7a" textLength="11" lengthAdjust="spacingAndGlyphs">71</text><text x="1017.9" y="680.8" text-anchor="middle" font-size="11" fill="#7a7a7a" textLength="11" lengthAdjust="spacingAndGlyphs">81</text><text x="1035.8" y="680.8" text-anchor="middle" font-size="11" fill="#7a7a7a" textLength="11" lengthAdjust="spacingAndGlyphs">91</text><text x="1053.7" y="680.8" text-anchor="middle" font-size="11" fill="#7a7a7a" textLength="16.5" lengthAdjust="spacingAndGlyphs">101</text><text x="1071.6" y="680.8" text-anchor="middle" font-size="11" fill="#7a7a7a" textLength="16.5" lengthAdjust="spacingAndGlyphs">111</text><text x="1089.5" y="680.8" text-anchor="middle" font-size="11" fill="#7a7a7a" textLength="16.5" lengthAdjust="spacingAndGlyphs">121</text><text x="1107.4" y="680.8" text-anchor="middle" font-size="11" fill="#7a7a7a" textLength="16.5" lengthAdjust="spacingAndGlyphs">131</text><text x="1125.3" y="680.8" text-anchor="middle" font-size="11" fill="#7a7a7a" textLength="16.5" lengthAdjust="spacingAndGlyphs">141</text><text x="1143.2" y="680.8" text-anchor="middle" font-size="11" fill="#7a7a7a" textLength="16.5" lengthAdjust="spacingAndGlyphs">151</text><text x="1161.1" y="680.8" text-anchor="middle" font-size="11" fill="#7a7a7a" textLength="16.5" lengthAdjust="spacingAndGlyphs">161</text><text x="1179" y="680.8" text-anchor="middle" font-size="11" fill="#7a7a7a" textLength="16.5" lengthAdjust="spacingAndGlyphs">171</text><text x="1196.9" y="680.8" text-anchor="middle" font-size="11" fill="#7a7a7a" textLength="16.5" lengthAdjust="spacingAndGlyphs">181</text><text x="1214.8" y="680.8" text-anchor="middle" font-size="11" fill="#7a7a7a" textLength="16.5" lengthAdjust="spacingAndGlyphs">191</text><text x="1232.7" y="680.8" text-anchor="middle" font-size="11" fill="#7a7a7a" textLength="16.5" lengthAdjust="spacingAndGlyphs">201</text><text x="1250.6" y="680.8" text-anchor="middle" font-size="11" fill="#7a7a7a" textLength="16.5" lengthAdjust="spacingAndGlyphs">211</text><text x="1268.5" y="680.8" text-anchor="middle" font-size="11" fill="#7a7a7a" textLength="16.5" lengthAdjust="spacingAndGlyphs">221</text><text x="1286.4" y="680.8" text-anchor="middle" font-size="11" fill="#7a7a7a" textLength="16.5" lengthAdjust="spacingAndGlyphs">231</text><text x="1304.3" y="680.8" text-anchor="middle" font-size="11" fill="#7a7a7a" textLength="16.5" lengthAdjust="spacingAndGlyphs">241</text><text x="1322.2" y="680.8" text-anchor="middle" font-size="11" fill="#7a7a7a" textLength="16.5" lengthAdjust="spacingAndGlyphs">251</text><text x="1340.1" y="680.8" text-anchor="middle" font-size="11" fill="#7a7a7a" textLength="16.5" lengthAdjust="spacingAndGlyphs">261</text><text x="1358" y="680.8" text-anchor="middle" font-size="11" fill="#7a7a7a" textLength="16.5" lengthAdjust="spacingAndGlyphs">271</text><text x="1375.9" y="680.8" text-anchor="middle" font-size="11" fill="#7a7a7a" textLength="16.5" lengthAdjust="spacingAndGlyphs">281</text><text x="1393.8" y="680.8" text-anchor="middle" font-size="11" fill="#7a7a7a" textLength="16.5" lengthAdjust="spacingAndGlyphs">291</text><text x="1411.7" y="680.8" text-anchor="middle" font-size="11" fill="#7a7a7a" textLength="16.5" lengthAdjust="spacingAndGlyphs">301</text><text x="1429.6" y="680.8" text-anchor="middle" font-size="11" fill="#7a7a7a" textLength="16.5" lengthAdjust="spacingAndGlyphs">311</text><text x="1447.5" y="680.8" text-anchor="middle" font-size="11" fill="#7a7a7a" textLength="16.5" lengthAdjust="spacingAndGlyphs">321</text><text x="1465.4" y="680.8" text-anchor="middle" font-size="11" fill="#7a7a7a" textLength="16.5" lengthAdjust="spacingAndGlyphs">331</text><text x="1483.3" y="680.8" text-anchor="middle" font-size="11" fill="#7a7a7a" textLength="16.5" lengthAdjust="spacingAndGlyphs">341</text><text x="1501.2" y="680.8" text-anchor="middle" font-size="11" fill="#7a7a7a" textLength="16.5" lengthAdjust="spacingAndGlyphs">351</text><text x="1519.1" y="680.8" text-anchor="middle" font-size="11" fill="#7a7a7a" textLength="16.5" lengthAdjust="spacingAndGlyphs">361</text><text x="1537" y="680.8" text-anchor="middle" font-size="11" fill="#7a7a7a" textLength="16.5" lengthAdjust="spacingAndGlyphs">371</text><text x="1554.9" y="680.8" text-anchor="middle" font-size="11" fill="#7a7a7a" textLength="16.5" lengthAdjust="spacingAndGlyphs">381</text><text x="1572.8" y="680.8" text-anchor="middle" font-size="11" fill="#7a7a7a" textLength="16.5" lengthAdjust="spacingAndGlyphs">391</text><text x="1590.7" y="680.8" text-anchor="middle" font-size="11" fill="#7a7a7a" textLength="16.5" lengthAdjust="spacingAndGlyphs">401</text><text x="1608.6" y="680.8" text-anchor="middle" font-size="11" fill="#7a7a7a" textLength="16.5" lengthAdjust="spacingAndGlyphs">411</text><text x="1626.5" y="680.8" text-anchor="middle" font-size="11" fill="#7a7a7a" textLength="16.5" lengthAdjust="spacingAndGlyphs">421</text><text x="1644.4" y="680.8" text-anchor="middle" font-size="11" fill="#7a7a7a" textLength="16.5" lengthAdjust="spacingAndGlyphs">431</text></g><g font-family="'Liberation Sans', sans-serif"><text x="712" y="25.5" font-size="28" font-weight="bold" fill="#000" stroke="#000" stroke-width="0.9">C</text><text x="735" y="43.3" font-size="19.5" fill="#111" stroke="#111" stroke-width="0.35" textLength="88" lengthAdjust="spacingAndGlyphs">CRF02_AG</text><path d="M747.5 62.5L770 663.3H726Z" fill="#dedede" stroke="#7a7a7a" stroke-width="2" stroke-linejoin="round"/><text transform="translate(754.3 638) rotate(-90)" font-size="22.8" fill="#111" stroke="#111" stroke-width="0.35" textLength="150" lengthAdjust="spacingAndGlyphs">Δ mut per site</text><line x1="804.4" y1="133.3" x2="804.4" y2="597" stroke="#7f7f7f" stroke-width="1.3"/><line x1="815" y1="133.3" x2="815" y2="361.5" stroke="#7f7f7f" stroke-width="1.3"/><text transform="translate(838.6 249.8) rotate(-90)" font-family="DejaVu Sans, sans-serif" font-weight="bold" font-size="26" fill="#858585" text-anchor="middle">*</text><text transform="translate(807 409.5) rotate(-90)" font-family="DejaVu Sans, sans-serif" font-weight="bold" font-size="26" fill="#858585" text-anchor="middle">*</text><text transform="translate(807 425) rotate(-90)" font-family="DejaVu Sans, sans-serif" font-weight="bold" font-size="26" fill="#858585" text-anchor="middle">*</text><text transform="translate(807 440.5) rotate(-90)" font-family="DejaVu Sans, sans-serif" font-weight="bold" font-size="26" fill="#858585" text-anchor="middle">*</text><text transform="translate(807 456) rotate(-90)" font-family="DejaVu Sans, sans-serif" font-weight="bold" font-size="26" fill="#858585" text-anchor="middle">*</text><text transform="translate(836.3 132) rotate(-90)" font-size="19.5" fill="#111" stroke="#111" stroke-width="0.3" text-anchor="middle">IN</text><text transform="translate(836.3 362) rotate(-90)" font-size="19.5" fill="#111" stroke="#111" stroke-width="0.3" text-anchor="middle">PR</text><text transform="translate(836.3 599.5) rotate(-90)" font-size="19.5" fill="#111" stroke="#111" stroke-width="0.3" text-anchor="middle">RT</text><line x1="1684.3" y1="70" x2="1684.3" y2="664" stroke="#7f7f7f" stroke-width="1.5"/><path d="M1684.3 62.5L1690 73.5L1684.3 70.5L1678.6 73.5Z" fill="#7f7f7f"/><text transform="translate(1703.6 318.5) rotate(90)" font-size="24.5" fill="#111" stroke="#111" stroke-width="0.35" textLength="80.5" lengthAdjust="spacingAndGlyphs">mut (%)</text><rect x="1692.5" y="98" width="3.2" height="11" fill="#8ea2d0"/><text x="1702.3" y="108.8" font-size="14.5" fill="#6a6a6a" textLength="67" lengthAdjust="spacingAndGlyphs">DRM sites</text><rect x="1690.6" y="116.8" width="7.4" height="7.2" fill="#f4dc70" stroke="#e0c878" stroke-width="1"/><text x="1702.3" y="125.3" font-size="14.5" fill="#6a6a6a" textLength="56.5" lengthAdjust="spacingAndGlyphs">mut-Pre</text><rect x="1690.6" y="133" width="7.4" height="7.2" fill="#c050f0" stroke="#a040d8" stroke-width="1"/><text x="1702.3" y="142" font-size="14.5" fill="#6a6a6a" textLength="64.5" lengthAdjust="spacingAndGlyphs">mut-Post</text></g></svg></body></html>
